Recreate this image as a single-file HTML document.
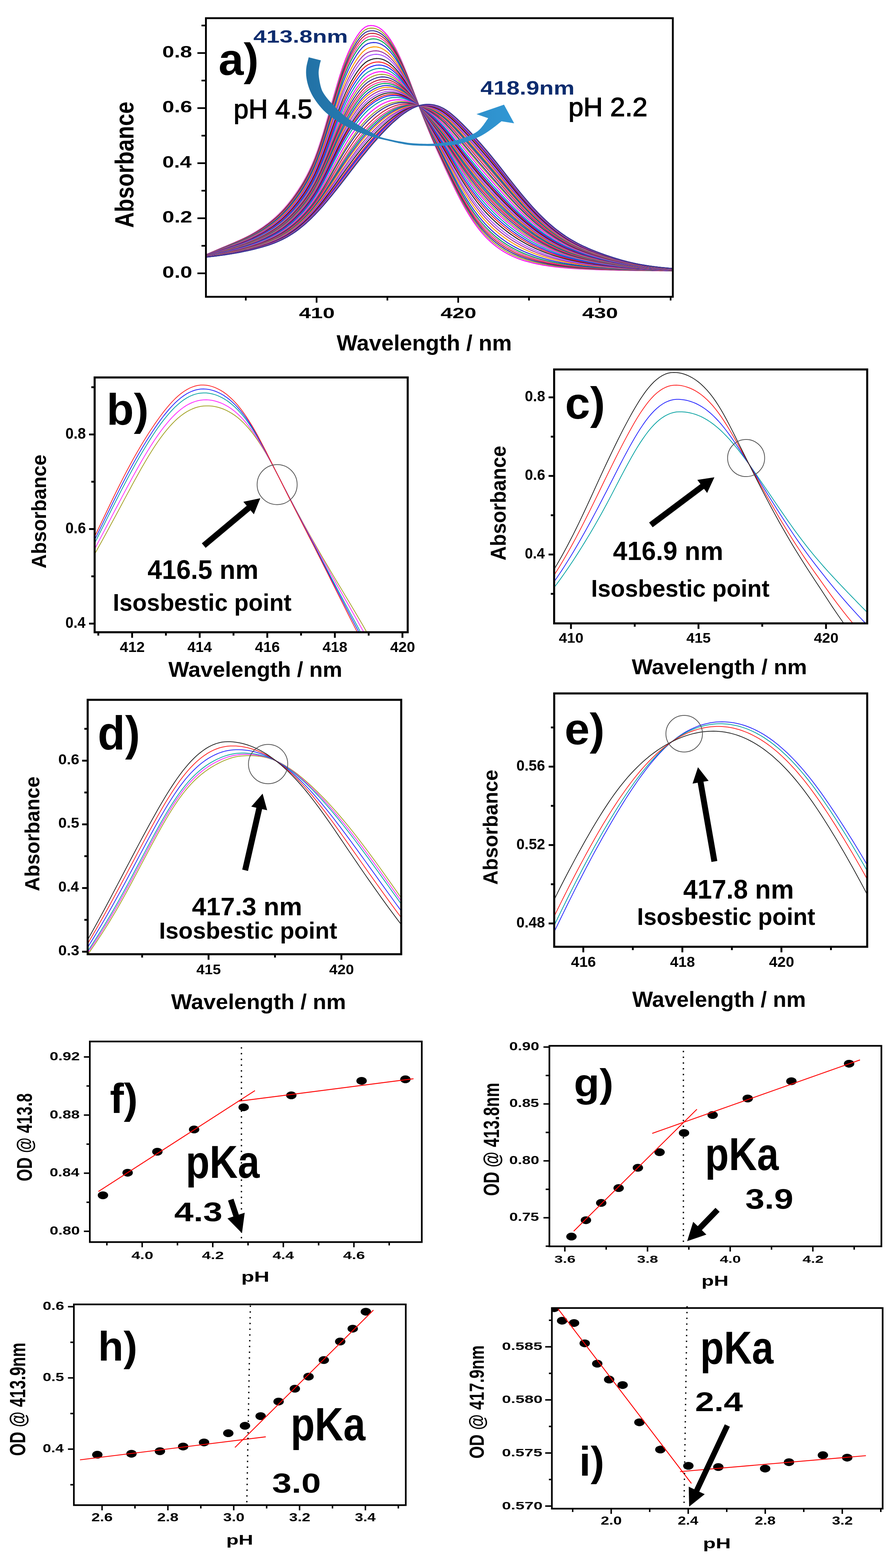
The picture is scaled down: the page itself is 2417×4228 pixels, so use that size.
<!DOCTYPE html><html><head><meta charset="utf-8"><style>html,body{margin:0;padding:0;background:#fff;}svg{display:block;}</style></head><body><svg width="2417" height="4228" viewBox="0 0 2417 4228" font-family="'Liberation Sans', Arial, sans-serif">
<rect width="2417" height="4228" fill="#fff"/>
<clipPath id="ca"><rect x="555.5" y="49.0" width="1259.5" height="751.3"/></clipPath>
<g clip-path="url(#ca)">
<polyline points="548.4,688.5 555.9,686.6 563.5,683.5 571.0,680.3 578.5,677.0 586.0,673.8 593.6,670.5 601.1,667.3 608.6,664.1 616.1,660.9 623.7,657.8 631.2,654.6 638.7,651.3 646.3,648.0 653.8,644.5 661.3,640.9 668.8,637.1 676.4,633.1 683.9,628.8 691.4,624.4 698.9,619.6 706.5,614.7 714.0,609.4 721.5,603.9 729.0,598.0 736.6,591.8 744.1,585.2 751.6,578.1 759.2,570.5 766.7,562.4 774.2,553.7 781.7,544.4 789.3,534.5 796.8,524.1 804.3,513.0 811.8,501.3 819.4,488.7 826.9,475.1 834.4,460.3 842.0,443.9 849.5,425.7 857.0,405.4 864.5,383.0 872.1,358.8 879.6,333.2 887.1,306.8 894.6,280.0 902.2,253.4 909.7,227.4 917.2,202.7 924.7,179.8 932.3,159.3 939.8,141.1 947.3,125.0 954.9,110.8 962.4,98.3 969.9,87.7 977.4,79.2 985.0,73.1 992.5,69.7 1000.0,68.8 1007.5,69.2 1015.1,71.2 1022.6,74.8 1030.1,80.1 1037.7,87.1 1045.2,95.8 1052.7,106.3 1060.2,118.4 1067.8,132.0 1075.3,147.0 1082.8,163.4 1090.3,181.0 1097.9,199.7 1105.4,219.2 1112.9,239.2 1120.5,259.5 1128.0,279.6 1135.5,299.4 1143.0,318.9 1150.6,337.8 1158.1,356.3 1165.6,374.2 1173.1,391.7 1180.7,408.7 1188.2,425.3 1195.7,441.8 1203.2,458.2 1210.8,474.5 1218.3,490.6 1225.8,506.3 1233.4,521.6 1240.9,536.4 1248.4,550.5 1255.9,563.9 1263.5,576.6 1271.0,588.6 1278.5,599.8 1286.0,610.3 1293.6,620.1 1301.1,629.1 1308.6,637.5 1316.2,645.1 1323.7,652.2 1331.2,658.7 1338.7,664.7 1346.3,670.2 1353.8,675.3 1361.3,679.9 1368.8,684.1 1376.4,688.0 1383.9,691.6 1391.4,694.8 1398.9,697.7 1406.5,700.4 1414.0,702.9 1421.5,705.1 1429.1,707.1 1436.6,709.0 1444.1,710.7 1451.6,712.3 1459.2,713.8 1466.7,715.1 1474.2,716.3 1481.7,717.4 1489.3,718.5 1496.8,719.4 1504.3,720.3 1511.9,721.1 1519.4,721.8 1526.9,722.5 1534.4,723.1 1542.0,723.6 1549.5,724.2 1557.0,724.6 1564.5,725.1 1572.1,725.5 1579.6,725.9 1587.1,726.2 1594.7,726.5 1602.2,726.8 1609.7,727.1 1617.2,727.4 1624.8,727.6 1632.3,727.8 1639.8,728.0 1647.3,728.2 1654.9,728.3 1662.4,728.5 1669.9,728.7 1677.4,728.8 1685.0,728.9 1692.5,729.0 1700.0,729.2 1707.6,729.3 1715.1,729.4 1722.6,729.5 1730.1,729.5 1737.7,729.6 1745.2,729.7 1752.7,729.8 1760.2,729.9 1767.8,729.9 1775.3,730.0 1782.8,730.1 1790.4,730.1 1797.9,730.2 1805.4,730.3 1812.9,730.3 1820.5,730.3" fill="none" stroke="#ff00ff" stroke-width="2.6" stroke-linejoin="round"/>
<polyline points="548.4,688.6 555.9,686.8 563.5,683.7 571.0,680.5 578.5,677.3 586.0,674.1 593.6,670.9 601.1,667.7 608.6,664.6 616.1,661.5 623.7,658.3 631.2,655.2 638.7,652.0 646.3,648.7 653.8,645.3 661.3,641.7 668.8,637.9 676.4,634.0 683.9,629.8 691.4,625.4 698.9,620.7 706.5,615.8 714.0,610.6 721.5,605.2 729.0,599.4 736.6,593.2 744.1,586.7 751.6,579.7 759.2,572.2 766.7,564.2 774.2,555.6 781.7,546.4 789.3,536.6 796.8,526.3 804.3,515.4 811.8,503.8 819.4,491.3 826.9,477.8 834.4,463.2 842.0,447.0 849.5,429.1 857.0,409.0 864.5,387.0 872.1,363.1 879.6,337.9 887.1,311.8 894.6,285.4 902.2,259.1 909.7,233.5 917.2,209.1 924.7,186.6 932.3,166.3 939.8,148.3 947.3,132.3 954.9,118.2 962.4,105.8 969.9,95.2 977.4,86.7 985.0,80.5 992.5,77.0 1000.0,75.9 1007.5,76.1 1015.1,77.9 1022.6,81.2 1030.1,86.2 1037.7,92.9 1045.2,101.3 1052.7,111.3 1060.2,123.0 1067.8,136.2 1075.3,150.8 1082.8,166.6 1090.3,183.8 1097.9,201.9 1105.4,220.9 1112.9,240.4 1120.5,260.1 1128.0,279.7 1135.5,299.1 1143.0,318.1 1150.6,336.6 1158.1,354.6 1165.6,372.2 1173.1,389.3 1180.7,406.0 1188.2,422.3 1195.7,438.5 1203.2,454.7 1210.8,470.7 1218.3,486.6 1225.8,502.1 1233.4,517.2 1240.9,531.8 1248.4,545.8 1255.9,559.0 1263.5,571.7 1271.0,583.6 1278.5,594.7 1286.0,605.2 1293.6,614.9 1301.1,624.0 1308.6,632.3 1316.2,640.0 1323.7,647.1 1331.2,653.7 1338.7,659.7 1346.3,665.3 1353.8,670.5 1361.3,675.2 1368.8,679.6 1376.4,683.6 1383.9,687.3 1391.4,690.6 1398.9,693.7 1406.5,696.5 1414.0,699.1 1421.5,701.5 1429.1,703.7 1436.6,705.7 1444.1,707.6 1451.6,709.3 1459.2,710.9 1466.7,712.3 1474.2,713.7 1481.7,714.9 1489.3,716.1 1496.8,717.1 1504.3,718.1 1511.9,719.0 1519.4,719.8 1526.9,720.6 1534.4,721.3 1542.0,722.0 1549.5,722.6 1557.0,723.1 1564.5,723.6 1572.1,724.1 1579.6,724.6 1587.1,725.0 1594.7,725.4 1602.2,725.7 1609.7,726.0 1617.2,726.4 1624.8,726.6 1632.3,726.9 1639.8,727.2 1647.3,727.4 1654.9,727.6 1662.4,727.8 1669.9,728.0 1677.4,728.2 1685.0,728.4 1692.5,728.5 1700.0,728.7 1707.6,728.8 1715.1,729.0 1722.6,729.1 1730.1,729.2 1737.7,729.3 1745.2,729.4 1752.7,729.5 1760.2,729.6 1767.8,729.7 1775.3,729.8 1782.8,729.9 1790.4,730.0 1797.9,730.0 1805.4,730.1 1812.9,730.2 1820.5,730.2" fill="none" stroke="#a0a028" stroke-width="2.6" stroke-linejoin="round"/>
<polyline points="548.4,688.8 555.9,686.9 563.5,683.9 571.0,680.8 578.5,677.6 586.0,674.5 593.6,671.3 601.1,668.2 608.6,665.1 616.1,662.0 623.7,658.9 631.2,655.8 638.7,652.7 646.3,649.4 653.8,646.1 661.3,642.5 668.8,638.8 676.4,634.9 683.9,630.7 691.4,626.4 698.9,621.8 706.5,616.9 714.0,611.8 721.5,606.4 729.0,600.7 736.6,594.6 744.1,588.2 751.6,581.2 759.2,573.9 766.7,565.9 774.2,557.4 781.7,548.4 789.3,538.7 796.8,528.5 804.3,517.7 811.8,506.2 819.4,493.9 826.9,480.6 834.4,466.1 842.0,450.1 849.5,432.4 857.0,412.7 864.5,390.9 872.1,367.4 879.6,342.5 887.1,316.8 894.6,290.8 902.2,264.9 909.7,239.7 917.2,215.6 924.7,193.4 932.3,173.3 939.8,155.5 947.3,139.6 954.9,125.6 962.4,113.3 969.9,102.7 977.4,94.2 985.0,87.9 992.5,84.3 1000.0,83.0 1007.5,83.0 1015.1,84.5 1022.6,87.6 1030.1,92.3 1037.7,98.7 1045.2,106.7 1052.7,116.4 1060.2,127.6 1067.8,140.4 1075.3,154.5 1082.8,169.9 1090.3,186.5 1097.9,204.1 1105.4,222.6 1112.9,241.5 1120.5,260.7 1128.0,279.9 1135.5,298.8 1143.0,317.3 1150.6,335.3 1158.1,353.0 1165.6,370.2 1173.1,387.0 1180.7,403.3 1188.2,419.3 1195.7,435.3 1203.2,451.1 1210.8,467.0 1218.3,482.6 1225.8,497.9 1233.4,512.8 1240.9,527.2 1248.4,541.1 1255.9,554.2 1263.5,566.7 1271.0,578.5 1278.5,589.7 1286.0,600.1 1293.6,609.8 1301.1,618.8 1308.6,627.1 1316.2,634.9 1323.7,642.0 1331.2,648.6 1338.7,654.8 1346.3,660.5 1353.8,665.7 1361.3,670.6 1368.8,675.0 1376.4,679.2 1383.9,683.0 1391.4,686.5 1398.9,689.7 1406.5,692.7 1414.0,695.4 1421.5,697.9 1429.1,700.2 1436.6,702.4 1444.1,704.4 1451.6,706.3 1459.2,708.0 1466.7,709.6 1474.2,711.1 1481.7,712.4 1489.3,713.7 1496.8,714.9 1504.3,715.9 1511.9,717.0 1519.4,717.9 1526.9,718.8 1534.4,719.6 1542.0,720.3 1549.5,721.0 1557.0,721.6 1564.5,722.2 1572.1,722.8 1579.6,723.3 1587.1,723.7 1594.7,724.2 1602.2,724.6 1609.7,725.0 1617.2,725.4 1624.8,725.7 1632.3,726.0 1639.8,726.3 1647.3,726.6 1654.9,726.9 1662.4,727.1 1669.9,727.4 1677.4,727.6 1685.0,727.8 1692.5,728.0 1700.0,728.2 1707.6,728.4 1715.1,728.5 1722.6,728.7 1730.1,728.8 1737.7,729.0 1745.2,729.1 1752.7,729.2 1760.2,729.4 1767.8,729.5 1775.3,729.6 1782.8,729.7 1790.4,729.8 1797.9,729.9 1805.4,730.0 1812.9,730.0 1820.5,730.1" fill="none" stroke="#2a2a98" stroke-width="2.6" stroke-linejoin="round"/>
<polyline points="548.4,688.9 555.9,687.1 563.5,684.1 571.0,681.0 578.5,677.9 586.0,674.8 593.6,671.7 601.1,668.6 608.6,665.6 616.1,662.5 623.7,659.5 631.2,656.5 638.7,653.3 646.3,650.1 653.8,646.8 661.3,643.3 668.8,639.6 676.4,635.8 683.9,631.7 691.4,627.4 698.9,622.9 706.5,618.1 714.0,613.0 721.5,607.7 729.0,602.0 736.6,596.0 744.1,589.7 751.6,582.8 759.2,575.5 766.7,567.7 774.2,559.3 781.7,550.3 789.3,540.8 796.8,530.7 804.3,520.0 811.8,508.7 819.4,496.5 826.9,483.3 834.4,469.0 842.0,453.3 849.5,435.8 857.0,416.3 864.5,394.8 872.1,371.6 879.6,347.1 887.1,321.8 894.6,296.2 902.2,270.7 909.7,245.8 917.2,222.1 924.7,200.1 932.3,180.3 939.8,162.7 947.3,146.9 954.9,133.0 962.4,120.8 969.9,110.2 977.4,101.7 985.0,95.3 992.5,91.6 1000.0,90.1 1007.5,89.9 1015.1,91.2 1022.6,94.0 1030.1,98.5 1037.7,104.5 1045.2,112.1 1052.7,121.4 1060.2,132.3 1067.8,144.5 1075.3,158.2 1082.8,173.1 1090.3,189.2 1097.9,206.3 1105.4,224.3 1112.9,242.7 1120.5,261.4 1128.0,280.0 1135.5,298.4 1143.0,316.5 1150.6,334.1 1158.1,351.4 1165.6,368.2 1173.1,384.6 1180.7,400.6 1188.2,416.4 1195.7,432.0 1203.2,447.6 1210.8,463.2 1218.3,478.6 1225.8,493.7 1233.4,508.5 1240.9,522.7 1248.4,536.4 1255.9,549.4 1263.5,561.8 1271.0,573.5 1278.5,584.6 1286.0,594.9 1293.6,604.6 1301.1,613.6 1308.6,622.0 1316.2,629.7 1323.7,636.9 1331.2,643.6 1338.7,649.8 1346.3,655.6 1353.8,660.9 1361.3,665.9 1368.8,670.5 1376.4,674.7 1383.9,678.7 1391.4,682.3 1398.9,685.7 1406.5,688.8 1414.0,691.7 1421.5,694.3 1429.1,696.8 1436.6,699.1 1444.1,701.3 1451.6,703.2 1459.2,705.1 1466.7,706.8 1474.2,708.4 1481.7,709.9 1489.3,711.3 1496.8,712.6 1504.3,713.8 1511.9,714.9 1519.4,715.9 1526.9,716.9 1534.4,717.8 1542.0,718.6 1549.5,719.4 1557.0,720.1 1564.5,720.8 1572.1,721.4 1579.6,722.0 1587.1,722.5 1594.7,723.0 1602.2,723.5 1609.7,723.9 1617.2,724.4 1624.8,724.8 1632.3,725.1 1639.8,725.5 1647.3,725.8 1654.9,726.1 1662.4,726.4 1669.9,726.7 1677.4,727.0 1685.0,727.3 1692.5,727.5 1700.0,727.7 1707.6,727.9 1715.1,728.1 1722.6,728.3 1730.1,728.5 1737.7,728.7 1745.2,728.8 1752.7,729.0 1760.2,729.1 1767.8,729.2 1775.3,729.4 1782.8,729.5 1790.4,729.6 1797.9,729.7 1805.4,729.8 1812.9,729.9 1820.5,730.0" fill="none" stroke="#c02030" stroke-width="2.6" stroke-linejoin="round"/>
<polyline points="548.4,689.0 555.9,687.2 563.5,684.3 571.0,681.3 578.5,678.3 586.0,675.2 593.6,672.2 601.1,669.1 608.6,666.1 616.1,663.1 623.7,660.1 631.2,657.1 638.7,654.1 646.3,650.9 653.8,647.6 661.3,644.2 668.8,640.6 676.4,636.7 683.9,632.7 691.4,628.5 698.9,624.0 706.5,619.3 714.0,614.3 721.5,609.1 729.0,603.5 736.6,597.6 744.1,591.3 751.6,584.5 759.2,577.3 766.7,569.6 774.2,561.3 781.7,552.5 789.3,543.0 796.8,533.1 804.3,522.5 811.8,511.3 819.4,499.3 826.9,486.3 834.4,472.2 842.0,456.6 849.5,439.4 857.0,420.2 864.5,399.0 872.1,376.2 879.6,352.1 887.1,327.2 894.6,302.0 902.2,276.9 909.7,252.4 917.2,229.0 924.7,207.4 932.3,187.8 939.8,170.4 947.3,154.8 954.9,141.0 962.4,128.8 969.9,118.3 977.4,109.7 985.0,103.3 992.5,99.4 1000.0,97.7 1007.5,97.3 1015.1,98.4 1022.6,100.9 1030.1,105.0 1037.7,110.7 1045.2,118.0 1052.7,126.8 1060.2,137.2 1067.8,149.0 1075.3,162.2 1082.8,176.6 1090.3,192.1 1097.9,208.7 1105.4,226.1 1112.9,243.9 1120.5,262.0 1128.0,280.2 1135.5,298.0 1143.0,315.6 1150.6,332.8 1158.1,349.6 1165.6,366.0 1173.1,382.1 1180.7,397.7 1188.2,413.1 1195.7,428.5 1203.2,443.8 1210.8,459.1 1218.3,474.3 1225.8,489.2 1233.4,503.8 1240.9,517.8 1248.4,531.3 1255.9,544.2 1263.5,556.5 1271.0,568.1 1278.5,579.1 1286.0,589.4 1293.6,599.1 1301.1,608.1 1308.6,616.4 1316.2,624.2 1323.7,631.5 1331.2,638.2 1338.7,644.5 1346.3,650.4 1353.8,655.8 1361.3,660.9 1368.8,665.6 1376.4,670.0 1383.9,674.1 1391.4,677.8 1398.9,681.4 1406.5,684.6 1414.0,687.7 1421.5,690.5 1429.1,693.1 1436.6,695.6 1444.1,697.9 1451.6,700.0 1459.2,702.0 1466.7,703.9 1474.2,705.6 1481.7,707.2 1489.3,708.7 1496.8,710.2 1504.3,711.5 1511.9,712.7 1519.4,713.8 1526.9,714.9 1534.4,715.9 1542.0,716.8 1549.5,717.7 1557.0,718.5 1564.5,719.2 1572.1,719.9 1579.6,720.6 1587.1,721.2 1594.7,721.8 1602.2,722.3 1609.7,722.8 1617.2,723.3 1624.8,723.7 1632.3,724.2 1639.8,724.6 1647.3,725.0 1654.9,725.4 1662.4,725.7 1669.9,726.0 1677.4,726.4 1685.0,726.7 1692.5,726.9 1700.0,727.2 1707.6,727.5 1715.1,727.7 1722.6,727.9 1730.1,728.1 1737.7,728.3 1745.2,728.5 1752.7,728.7 1760.2,728.8 1767.8,729.0 1775.3,729.1 1782.8,729.3 1790.4,729.4 1797.9,729.5 1805.4,729.6 1812.9,729.7 1820.5,729.8" fill="none" stroke="#ff3399" stroke-width="2.6" stroke-linejoin="round"/>
<polyline points="548.4,689.2 555.9,687.4 563.5,684.5 571.0,681.6 578.5,678.6 586.0,675.6 593.6,672.6 601.1,669.6 608.6,666.6 616.1,663.7 623.7,660.8 631.2,657.8 638.7,654.8 646.3,651.7 653.8,648.4 661.3,645.0 668.8,641.5 676.4,637.7 683.9,633.7 691.4,629.6 698.9,625.1 706.5,620.5 714.0,615.6 721.5,610.4 729.0,604.9 736.6,599.1 744.1,592.9 751.6,586.2 759.2,579.1 766.7,571.5 774.2,563.3 781.7,554.6 789.3,545.3 796.8,535.4 804.3,525.0 811.8,513.9 819.4,502.1 826.9,489.2 834.4,475.3 842.0,459.9 849.5,442.9 857.0,424.0 864.5,403.2 872.1,380.8 879.6,357.1 887.1,332.6 894.6,307.8 902.2,283.1 909.7,259.0 917.2,236.0 924.7,214.6 932.3,195.4 939.8,178.1 947.3,162.6 954.9,148.9 962.4,136.8 969.9,126.3 977.4,117.7 985.0,111.2 992.5,107.2 1000.0,105.4 1007.5,104.8 1015.1,105.5 1022.6,107.8 1030.1,111.6 1037.7,116.9 1045.2,123.8 1052.7,132.2 1060.2,142.2 1067.8,153.5 1075.3,166.2 1082.8,180.0 1090.3,195.0 1097.9,211.1 1105.4,227.8 1112.9,245.2 1120.5,262.7 1128.0,280.3 1135.5,297.7 1143.0,314.7 1150.6,331.5 1158.1,347.9 1165.6,363.9 1173.1,379.5 1180.7,394.8 1188.2,409.9 1195.7,425.0 1203.2,440.0 1210.8,455.1 1218.3,470.0 1225.8,484.7 1233.4,499.0 1240.9,512.9 1248.4,526.3 1255.9,539.1 1263.5,551.2 1271.0,562.8 1278.5,573.7 1286.0,583.9 1293.6,593.5 1301.1,602.5 1308.6,610.9 1316.2,618.7 1323.7,626.0 1331.2,632.8 1338.7,639.2 1346.3,645.1 1353.8,650.7 1361.3,655.9 1368.8,660.7 1376.4,665.2 1383.9,669.5 1391.4,673.4 1398.9,677.0 1406.5,680.5 1414.0,683.7 1421.5,686.6 1429.1,689.4 1436.6,692.0 1444.1,694.5 1451.6,696.8 1459.2,698.9 1466.7,700.9 1474.2,702.8 1481.7,704.5 1489.3,706.2 1496.8,707.7 1504.3,709.2 1511.9,710.5 1519.4,711.8 1526.9,712.9 1534.4,714.0 1542.0,715.0 1549.5,716.0 1557.0,716.9 1564.5,717.7 1572.1,718.5 1579.6,719.2 1587.1,719.9 1594.7,720.5 1602.2,721.1 1609.7,721.7 1617.2,722.2 1624.8,722.7 1632.3,723.2 1639.8,723.7 1647.3,724.1 1654.9,724.6 1662.4,725.0 1669.9,725.4 1677.4,725.7 1685.0,726.1 1692.5,726.4 1700.0,726.7 1707.6,727.0 1715.1,727.3 1722.6,727.5 1730.1,727.8 1737.7,728.0 1745.2,728.2 1752.7,728.4 1760.2,728.6 1767.8,728.7 1775.3,728.9 1782.8,729.1 1790.4,729.2 1797.9,729.3 1805.4,729.5 1812.9,729.6 1820.5,729.7" fill="none" stroke="#00a050" stroke-width="2.6" stroke-linejoin="round"/>
<polyline points="548.4,689.4 555.9,687.6 563.5,684.8 571.0,681.9 578.5,679.0 586.0,676.1 593.6,673.2 601.1,670.2 608.6,667.3 616.1,664.5 623.7,661.6 631.2,658.7 638.7,655.7 646.3,652.7 653.8,649.5 661.3,646.2 668.8,642.7 676.4,639.0 683.9,635.1 691.4,631.0 698.9,626.7 706.5,622.1 714.0,617.3 721.5,612.2 729.0,606.8 736.6,601.1 744.1,595.0 751.6,588.5 759.2,581.5 766.7,574.0 774.2,566.0 781.7,557.4 789.3,548.2 796.8,538.6 804.3,528.3 811.8,517.4 819.4,505.7 826.9,493.1 834.4,479.4 842.0,464.4 849.5,447.7 857.0,429.2 864.5,408.8 872.1,386.8 879.6,363.7 887.1,339.7 894.6,315.5 902.2,291.3 909.7,267.7 917.2,245.2 924.7,224.2 932.3,205.3 939.8,188.3 947.3,173.0 954.9,159.5 962.4,147.4 969.9,137.0 977.4,128.3 985.0,121.7 992.5,117.5 1000.0,115.5 1007.5,114.6 1015.1,115.0 1022.6,116.9 1030.1,120.3 1037.7,125.1 1045.2,131.5 1052.7,139.4 1060.2,148.8 1067.8,159.5 1075.3,171.4 1082.8,184.6 1090.3,198.9 1097.9,214.2 1105.4,230.2 1112.9,246.8 1120.5,263.6 1128.0,280.5 1135.5,297.2 1143.0,313.6 1150.6,329.7 1158.1,345.5 1165.6,361.0 1173.1,376.2 1180.7,391.0 1188.2,405.7 1195.7,420.3 1203.2,435.0 1210.8,449.7 1218.3,464.3 1225.8,478.7 1233.4,492.8 1240.9,506.5 1248.4,519.6 1255.9,532.2 1263.5,544.2 1271.0,555.6 1278.5,566.4 1286.0,576.6 1293.6,586.2 1301.1,595.2 1308.6,603.6 1316.2,611.4 1323.7,618.8 1331.2,625.7 1338.7,632.1 1346.3,638.2 1353.8,643.9 1361.3,649.2 1368.8,654.3 1376.4,659.0 1383.9,663.4 1391.4,667.5 1398.9,671.3 1406.5,675.0 1414.0,678.4 1421.5,681.5 1429.1,684.5 1436.6,687.3 1444.1,690.0 1451.6,692.5 1459.2,694.8 1466.7,697.0 1474.2,699.1 1481.7,701.0 1489.3,702.8 1496.8,704.5 1504.3,706.1 1511.9,707.6 1519.4,709.0 1526.9,710.3 1534.4,711.5 1542.0,712.6 1549.5,713.7 1557.0,714.7 1564.5,715.6 1572.1,716.5 1579.6,717.3 1587.1,718.1 1594.7,718.8 1602.2,719.5 1609.7,720.2 1617.2,720.8 1624.8,721.4 1632.3,722.0 1639.8,722.5 1647.3,723.0 1654.9,723.5 1662.4,724.0 1669.9,724.4 1677.4,724.9 1685.0,725.3 1692.5,725.7 1700.0,726.0 1707.6,726.4 1715.1,726.7 1722.6,727.0 1730.1,727.3 1737.7,727.5 1745.2,727.8 1752.7,728.0 1760.2,728.2 1767.8,728.4 1775.3,728.6 1782.8,728.8 1790.4,728.9 1797.9,729.1 1805.4,729.2 1812.9,729.4 1820.5,729.5" fill="none" stroke="#2828e0" stroke-width="2.6" stroke-linejoin="round"/>
<polyline points="548.4,689.6 555.9,687.8 563.5,685.1 571.0,682.4 578.5,679.5 586.0,676.7 593.6,673.9 601.1,671.0 608.6,668.2 616.1,665.4 623.7,662.6 631.2,659.8 638.7,656.9 646.3,653.9 653.8,650.8 661.3,647.5 668.8,644.1 676.4,640.5 683.9,636.7 691.4,632.7 698.9,628.5 706.5,624.0 714.0,619.3 721.5,614.4 729.0,609.1 736.6,603.5 744.1,597.6 751.6,591.2 759.2,584.3 766.7,577.0 774.2,569.2 781.7,560.8 789.3,551.8 796.8,542.3 804.3,532.3 811.8,521.6 819.4,510.2 826.9,497.8 834.4,484.4 842.0,469.7 849.5,453.4 857.0,435.3 864.5,415.5 872.1,394.1 879.6,371.6 887.1,348.3 894.6,324.7 902.2,301.2 909.7,278.2 917.2,256.3 924.7,235.8 932.3,217.3 939.8,200.5 947.3,185.5 954.9,172.1 962.4,160.2 969.9,149.8 977.4,141.1 985.0,134.4 992.5,130.0 1000.0,127.6 1007.5,126.4 1015.1,126.5 1022.6,127.9 1030.1,130.8 1037.7,135.1 1045.2,140.8 1052.7,148.0 1060.2,156.7 1067.8,166.6 1075.3,177.8 1082.8,190.1 1090.3,203.6 1097.9,218.0 1105.4,233.1 1112.9,248.8 1120.5,264.7 1128.0,280.7 1135.5,296.6 1143.0,312.2 1150.6,327.6 1158.1,342.7 1165.6,357.6 1173.1,372.1 1180.7,386.4 1188.2,400.6 1195.7,414.7 1203.2,429.0 1210.8,443.3 1218.3,457.5 1225.8,471.6 1233.4,485.3 1240.9,498.7 1248.4,511.6 1255.9,524.0 1263.5,535.8 1271.0,547.0 1278.5,557.7 1286.0,567.8 1293.6,577.4 1301.1,586.3 1308.6,594.7 1316.2,602.6 1323.7,610.1 1331.2,617.1 1338.7,623.6 1346.3,629.9 1353.8,635.7 1361.3,641.3 1368.8,646.5 1376.4,651.4 1383.9,656.0 1391.4,660.4 1398.9,664.5 1406.5,668.3 1414.0,672.0 1421.5,675.4 1429.1,678.6 1436.6,681.7 1444.1,684.6 1451.6,687.3 1459.2,689.9 1466.7,692.3 1474.2,694.6 1481.7,696.7 1489.3,698.7 1496.8,700.6 1504.3,702.4 1511.9,704.1 1519.4,705.6 1526.9,707.1 1534.4,708.5 1542.0,709.8 1549.5,711.0 1557.0,712.1 1564.5,713.2 1572.1,714.2 1579.6,715.1 1587.1,716.0 1594.7,716.8 1602.2,717.6 1609.7,718.4 1617.2,719.1 1624.8,719.8 1632.3,720.5 1639.8,721.1 1647.3,721.7 1654.9,722.3 1662.4,722.8 1669.9,723.4 1677.4,723.9 1685.0,724.3 1692.5,724.8 1700.0,725.2 1707.6,725.6 1715.1,726.0 1722.6,726.3 1730.1,726.7 1737.7,727.0 1745.2,727.3 1752.7,727.5 1760.2,727.8 1767.8,728.0 1775.3,728.2 1782.8,728.4 1790.4,728.6 1797.9,728.8 1805.4,729.0 1812.9,729.1 1820.5,729.3" fill="none" stroke="#ff9900" stroke-width="2.6" stroke-linejoin="round"/>
<polyline points="548.4,689.8 555.9,688.1 563.5,685.4 571.0,682.7 578.5,680.0 586.0,677.3 593.6,674.5 601.1,671.7 608.6,669.0 616.1,666.3 623.7,663.5 631.2,660.7 638.7,657.9 646.3,655.0 653.8,652.0 661.3,648.8 668.8,645.5 676.4,641.9 683.9,638.2 691.4,634.3 698.9,630.2 706.5,625.8 714.0,621.2 721.5,616.4 729.0,611.2 736.6,605.7 744.1,599.9 751.6,593.7 759.2,587.0 766.7,579.8 774.2,572.1 781.7,563.9 789.3,555.1 796.8,545.8 804.3,535.9 811.8,525.5 819.4,514.2 826.9,502.1 834.4,489.0 842.0,474.6 849.5,458.7 857.0,441.0 864.5,421.7 872.1,400.8 879.6,378.9 887.1,356.2 894.6,333.2 902.2,310.3 909.7,287.9 917.2,266.4 924.7,246.4 932.3,228.2 939.8,211.8 947.3,197.0 954.9,183.7 962.4,171.9 969.9,161.5 977.4,152.8 985.0,146.0 992.5,141.4 1000.0,138.7 1007.5,137.2 1015.1,136.9 1022.6,137.9 1030.1,140.3 1037.7,144.1 1045.2,149.3 1052.7,155.9 1060.2,163.9 1067.8,173.2 1075.3,183.6 1082.8,195.2 1090.3,207.8 1097.9,221.4 1105.4,235.7 1112.9,250.6 1120.5,265.7 1128.0,280.9 1135.5,296.0 1143.0,311.0 1150.6,325.7 1158.1,340.2 1165.6,354.4 1173.1,368.4 1180.7,382.2 1188.2,395.9 1195.7,409.6 1203.2,423.5 1210.8,437.4 1218.3,451.3 1225.8,465.0 1233.4,478.5 1240.9,491.6 1248.4,504.2 1255.9,516.4 1263.5,528.1 1271.0,539.2 1278.5,549.8 1286.0,559.8 1293.6,569.3 1301.1,578.2 1308.6,586.6 1316.2,594.6 1323.7,602.1 1331.2,609.2 1338.7,615.9 1346.3,622.2 1353.8,628.3 1361.3,634.0 1368.8,639.4 1376.4,644.5 1383.9,649.3 1391.4,653.9 1398.9,658.2 1406.5,662.3 1414.0,666.1 1421.5,669.8 1429.1,673.2 1436.6,676.5 1444.1,679.6 1451.6,682.6 1459.2,685.3 1466.7,688.0 1474.2,690.4 1481.7,692.8 1489.3,695.0 1496.8,697.1 1504.3,699.0 1511.9,700.9 1519.4,702.6 1526.9,704.2 1534.4,705.7 1542.0,707.2 1549.5,708.5 1557.0,709.7 1564.5,710.9 1572.1,712.0 1579.6,713.1 1587.1,714.1 1594.7,715.0 1602.2,715.9 1609.7,716.7 1617.2,717.5 1624.8,718.3 1632.3,719.1 1639.8,719.8 1647.3,720.5 1654.9,721.1 1662.4,721.8 1669.9,722.4 1677.4,722.9 1685.0,723.5 1692.5,724.0 1700.0,724.5 1707.6,724.9 1715.1,725.3 1722.6,725.7 1730.1,726.1 1737.7,726.5 1745.2,726.8 1752.7,727.1 1760.2,727.4 1767.8,727.6 1775.3,727.9 1782.8,728.1 1790.4,728.3 1797.9,728.6 1805.4,728.7 1812.9,728.9 1820.5,729.1" fill="none" stroke="#a030a0" stroke-width="2.6" stroke-linejoin="round"/>
<polyline points="548.4,690.0 555.9,688.3 563.5,685.7 571.0,683.1 578.5,680.4 586.0,677.8 593.6,675.1 601.1,672.4 608.6,669.7 616.1,667.0 623.7,664.3 631.2,661.6 638.7,658.9 646.3,656.0 653.8,653.0 661.3,649.9 668.8,646.7 676.4,643.2 683.9,639.6 691.4,635.7 698.9,631.7 706.5,627.4 714.0,622.9 721.5,618.2 729.0,613.1 736.6,607.7 744.1,602.0 751.6,595.9 759.2,589.3 766.7,582.3 774.2,574.8 781.7,566.7 789.3,558.0 796.8,548.9 804.3,539.2 811.8,528.9 819.4,517.9 826.9,506.0 834.4,493.1 842.0,479.0 849.5,463.4 857.0,446.1 864.5,427.2 872.1,406.9 879.6,385.4 887.1,363.3 894.6,340.9 902.2,318.5 909.7,296.6 917.2,275.6 924.7,256.0 932.3,238.2 939.8,222.0 947.3,207.4 954.9,194.3 962.4,182.5 969.9,172.2 977.4,163.4 985.0,156.5 992.5,151.7 1000.0,148.8 1007.5,147.0 1015.1,146.4 1022.6,147.1 1030.1,149.0 1037.7,152.4 1045.2,157.0 1052.7,163.1 1060.2,170.5 1067.8,179.1 1075.3,188.9 1082.8,199.8 1090.3,211.7 1097.9,224.5 1105.4,238.1 1112.9,252.2 1120.5,266.6 1128.0,281.1 1135.5,295.5 1143.0,309.8 1150.6,324.0 1158.1,337.9 1165.6,351.6 1173.1,365.1 1180.7,378.4 1188.2,391.6 1195.7,405.0 1203.2,418.4 1210.8,432.0 1218.3,445.6 1225.8,459.0 1233.4,472.2 1240.9,485.1 1248.4,497.6 1255.9,509.6 1263.5,521.1 1271.0,532.1 1278.5,542.5 1286.0,552.5 1293.6,561.9 1301.1,570.9 1308.6,579.3 1316.2,587.3 1323.7,594.9 1331.2,602.0 1338.7,608.8 1346.3,615.3 1353.8,621.5 1361.3,627.3 1368.8,632.9 1376.4,638.2 1383.9,643.2 1391.4,648.0 1398.9,652.5 1406.5,656.8 1414.0,660.8 1421.5,664.7 1429.1,668.4 1436.6,671.8 1444.1,675.1 1451.6,678.3 1459.2,681.2 1466.7,684.0 1474.2,686.7 1481.7,689.2 1489.3,691.6 1496.8,693.8 1504.3,696.0 1511.9,698.0 1519.4,699.8 1526.9,701.6 1534.4,703.2 1542.0,704.8 1549.5,706.2 1557.0,707.6 1564.5,708.9 1572.1,710.1 1579.6,711.2 1587.1,712.3 1594.7,713.3 1602.2,714.3 1609.7,715.2 1617.2,716.1 1624.8,717.0 1632.3,717.8 1639.8,718.6 1647.3,719.4 1654.9,720.1 1662.4,720.8 1669.9,721.4 1677.4,722.1 1685.0,722.7 1692.5,723.2 1700.0,723.8 1707.6,724.3 1715.1,724.8 1722.6,725.2 1730.1,725.6 1737.7,726.0 1745.2,726.4 1752.7,726.7 1760.2,727.0 1767.8,727.3 1775.3,727.6 1782.8,727.8 1790.4,728.1 1797.9,728.3 1805.4,728.5 1812.9,728.7 1820.5,728.9" fill="none" stroke="#a850ff" stroke-width="2.6" stroke-linejoin="round"/>
<polyline points="548.4,690.2 555.9,688.5 563.5,686.1 571.0,683.5 578.5,681.0 586.0,678.4 593.6,675.7 601.1,673.1 608.6,670.5 616.1,667.9 623.7,665.3 631.2,662.7 638.7,660.0 646.3,657.2 653.8,654.3 661.3,651.3 668.8,648.1 676.4,644.8 683.9,641.2 691.4,637.5 698.9,633.5 706.5,629.4 714.0,625.0 721.5,620.3 729.0,615.4 736.6,610.2 744.1,604.6 751.6,598.6 759.2,592.2 766.7,585.3 774.2,577.9 781.7,570.0 789.3,561.6 796.8,552.7 804.3,543.2 811.8,533.1 819.4,522.4 826.9,510.7 834.4,498.1 842.0,484.3 849.5,469.1 857.0,452.3 864.5,433.9 872.1,414.2 879.6,393.4 887.1,371.9 894.6,350.1 902.2,328.4 909.7,307.1 917.2,286.7 924.7,267.6 932.3,250.1 939.8,234.3 947.3,219.9 954.9,207.0 962.4,195.3 969.9,185.0 977.4,176.2 985.0,169.2 992.5,164.2 1000.0,161.0 1007.5,158.8 1015.1,157.8 1022.6,158.0 1030.1,159.5 1037.7,162.3 1045.2,166.3 1052.7,171.7 1060.2,178.4 1067.8,186.3 1075.3,195.2 1082.8,205.3 1090.3,216.3 1097.9,228.3 1105.4,241.0 1112.9,254.2 1120.5,267.7 1128.0,281.3 1135.5,294.9 1143.0,308.5 1150.6,321.8 1158.1,335.1 1165.6,348.1 1173.1,361.0 1180.7,373.8 1188.2,386.5 1195.7,399.4 1203.2,412.4 1210.8,425.6 1218.3,438.7 1225.8,451.8 1233.4,464.7 1240.9,477.3 1248.4,489.5 1255.9,501.3 1263.5,512.6 1271.0,523.5 1278.5,533.8 1286.0,543.7 1293.6,553.1 1301.1,562.0 1308.6,570.5 1316.2,578.5 1323.7,586.1 1331.2,593.4 1338.7,600.3 1346.3,607.0 1353.8,613.3 1361.3,619.3 1368.8,625.1 1376.4,630.6 1383.9,635.8 1391.4,640.8 1398.9,645.6 1406.5,650.1 1414.0,654.4 1421.5,658.6 1429.1,662.5 1436.6,666.2 1444.1,669.7 1451.6,673.1 1459.2,676.3 1466.7,679.3 1474.2,682.2 1481.7,684.9 1489.3,687.5 1496.8,690.0 1504.3,692.3 1511.9,694.4 1519.4,696.5 1526.9,698.4 1534.4,700.2 1542.0,701.9 1549.5,703.5 1557.0,705.0 1564.5,706.4 1572.1,707.8 1579.6,709.0 1587.1,710.2 1594.7,711.3 1602.2,712.4 1609.7,713.4 1617.2,714.4 1624.8,715.4 1632.3,716.3 1639.8,717.2 1647.3,718.0 1654.9,718.8 1662.4,719.6 1669.9,720.3 1677.4,721.1 1685.0,721.7 1692.5,722.4 1700.0,723.0 1707.6,723.5 1715.1,724.1 1722.6,724.6 1730.1,725.0 1737.7,725.5 1745.2,725.9 1752.7,726.2 1760.2,726.6 1767.8,726.9 1775.3,727.2 1782.8,727.5 1790.4,727.8 1797.9,728.0 1805.4,728.3 1812.9,728.5 1820.5,728.7" fill="none" stroke="#202020" stroke-width="2.6" stroke-linejoin="round"/>
<polyline points="548.4,690.4 555.9,688.7 563.5,686.3 571.0,683.9 578.5,681.4 586.0,678.9 593.6,676.3 601.1,673.8 608.6,671.2 616.1,668.7 623.7,666.2 631.2,663.6 638.7,661.0 646.3,658.2 653.8,655.4 661.3,652.4 668.8,649.3 676.4,646.0 683.9,642.6 691.4,638.9 698.9,635.0 706.5,631.0 714.0,626.7 721.5,622.1 729.0,617.3 736.6,612.2 744.1,606.7 751.6,600.9 759.2,594.6 766.7,587.8 774.2,580.6 781.7,572.8 789.3,564.6 796.8,555.8 804.3,546.5 811.8,536.6 819.4,526.0 826.9,514.6 834.4,502.3 842.0,488.8 849.5,473.9 857.0,457.5 864.5,439.5 872.1,420.2 879.6,400.0 887.1,379.0 894.6,357.8 902.2,336.6 909.7,315.8 917.2,295.9 924.7,277.2 932.3,260.1 939.8,244.5 947.3,230.3 954.9,217.5 962.4,205.9 969.9,195.6 977.4,186.9 985.0,179.7 992.5,174.6 1000.0,171.1 1007.5,168.6 1015.1,167.3 1022.6,167.1 1030.1,168.2 1037.7,170.5 1045.2,174.1 1052.7,178.9 1060.2,185.0 1067.8,192.2 1075.3,200.5 1082.8,209.9 1090.3,220.2 1097.9,231.4 1105.4,243.3 1112.9,255.8 1120.5,268.6 1128.0,281.5 1135.5,294.4 1143.0,307.3 1150.6,320.1 1158.1,332.8 1165.6,345.3 1173.1,357.7 1180.7,370.0 1188.2,382.3 1195.7,394.7 1203.2,407.4 1210.8,420.2 1218.3,433.1 1225.8,445.9 1233.4,458.5 1240.9,470.9 1248.4,482.9 1255.9,494.5 1263.5,505.6 1271.0,516.3 1278.5,526.6 1286.0,536.4 1293.6,545.8 1301.1,554.7 1308.6,563.1 1316.2,571.2 1323.7,578.9 1331.2,586.3 1338.7,593.3 1346.3,600.0 1353.8,606.5 1361.3,612.7 1368.8,618.6 1376.4,624.3 1383.9,629.7 1391.4,634.9 1398.9,639.9 1406.5,644.6 1414.0,649.1 1421.5,653.5 1429.1,657.6 1436.6,661.5 1444.1,665.2 1451.6,668.8 1459.2,672.2 1466.7,675.4 1474.2,678.5 1481.7,681.4 1489.3,684.1 1496.8,686.7 1504.3,689.2 1511.9,691.5 1519.4,693.7 1526.9,695.8 1534.4,697.7 1542.0,699.5 1549.5,701.2 1557.0,702.9 1564.5,704.4 1572.1,705.8 1579.6,707.2 1587.1,708.4 1594.7,709.7 1602.2,710.8 1609.7,711.9 1617.2,713.0 1624.8,714.0 1632.3,715.0 1639.8,716.0 1647.3,716.9 1654.9,717.8 1662.4,718.6 1669.9,719.4 1677.4,720.2 1685.0,720.9 1692.5,721.6 1700.0,722.3 1707.6,722.9 1715.1,723.5 1722.6,724.0 1730.1,724.5 1737.7,725.0 1745.2,725.4 1752.7,725.9 1760.2,726.2 1767.8,726.6 1775.3,726.9 1782.8,727.2 1790.4,727.5 1797.9,727.8 1805.4,728.0 1812.9,728.3 1820.5,728.5" fill="none" stroke="#ff2020" stroke-width="2.6" stroke-linejoin="round"/>
<polyline points="548.4,690.6 555.9,688.9 563.5,686.6 571.0,684.2 578.5,681.8 586.0,679.3 593.6,676.8 601.1,674.4 608.6,671.9 616.1,669.4 623.7,666.9 631.2,664.4 638.7,661.8 646.3,659.2 653.8,656.4 661.3,653.5 668.8,650.4 676.4,647.2 683.9,643.8 691.4,640.2 698.9,636.4 706.5,632.4 714.0,628.2 721.5,623.7 729.0,619.0 736.6,614.0 744.1,608.6 751.6,602.9 759.2,596.7 766.7,590.1 774.2,583.0 781.7,575.4 789.3,567.2 796.8,558.6 804.3,549.5 811.8,539.8 819.4,529.3 826.9,518.1 834.4,506.0 842.0,492.7 849.5,478.1 857.0,462.1 864.5,444.5 872.1,425.7 879.6,405.9 887.1,385.4 894.6,364.7 902.2,344.0 909.7,323.7 917.2,304.1 924.7,285.8 932.3,269.0 939.8,253.6 947.3,239.7 954.9,227.0 962.4,215.5 969.9,205.2 977.4,196.4 985.0,189.2 992.5,183.8 1000.0,180.2 1007.5,177.5 1015.1,175.8 1022.6,175.3 1030.1,176.0 1037.7,177.9 1045.2,181.0 1052.7,185.4 1060.2,190.9 1067.8,197.5 1075.3,205.3 1082.8,214.0 1090.3,223.7 1097.9,234.2 1105.4,245.5 1112.9,257.3 1120.5,269.4 1128.0,281.7 1135.5,294.0 1143.0,306.3 1150.6,318.5 1158.1,330.7 1165.6,342.7 1173.1,354.7 1180.7,366.5 1188.2,378.5 1195.7,390.5 1203.2,402.9 1210.8,415.4 1218.3,428.0 1225.8,440.5 1233.4,452.9 1240.9,465.1 1248.4,476.9 1255.9,488.3 1263.5,499.3 1271.0,509.9 1278.5,520.1 1286.0,529.9 1293.6,539.2 1301.1,548.1 1308.6,556.6 1316.2,564.7 1323.7,572.4 1331.2,579.8 1338.7,587.0 1346.3,593.8 1353.8,600.4 1361.3,606.8 1368.8,612.8 1376.4,618.7 1383.9,624.3 1391.4,629.6 1398.9,634.8 1406.5,639.7 1414.0,644.4 1421.5,648.9 1429.1,653.2 1436.6,657.3 1444.1,661.2 1451.6,664.9 1459.2,668.5 1466.7,671.9 1474.2,675.1 1481.7,678.2 1489.3,681.1 1496.8,683.8 1504.3,686.5 1511.9,688.9 1519.4,691.2 1526.9,693.4 1534.4,695.5 1542.0,697.4 1549.5,699.2 1557.0,700.9 1564.5,702.5 1572.1,704.1 1579.6,705.5 1587.1,706.9 1594.7,708.2 1602.2,709.4 1609.7,710.6 1617.2,711.7 1624.8,712.8 1632.3,713.9 1639.8,714.9 1647.3,715.9 1654.9,716.8 1662.4,717.8 1669.9,718.6 1677.4,719.4 1685.0,720.2 1692.5,721.0 1700.0,721.7 1707.6,722.4 1715.1,723.0 1722.6,723.6 1730.1,724.1 1737.7,724.6 1745.2,725.1 1752.7,725.5 1760.2,725.9 1767.8,726.3 1775.3,726.6 1782.8,727.0 1790.4,727.3 1797.9,727.6 1805.4,727.8 1812.9,728.1 1820.5,728.3" fill="none" stroke="#2020ff" stroke-width="2.6" stroke-linejoin="round"/>
<polyline points="548.4,690.7 555.9,689.1 563.5,686.9 571.0,684.6 578.5,682.2 586.0,679.8 593.6,677.4 601.1,675.0 608.6,672.6 616.1,670.2 623.7,667.8 631.2,665.3 638.7,662.8 646.3,660.2 653.8,657.5 661.3,654.6 668.8,651.6 676.4,648.5 683.9,645.1 691.4,641.6 698.9,637.9 706.5,634.0 714.0,629.9 721.5,625.5 729.0,620.9 736.6,616.0 744.1,610.7 751.6,605.1 759.2,599.1 766.7,592.6 774.2,585.6 781.7,578.2 789.3,570.2 796.8,561.7 804.3,552.8 811.8,543.2 819.4,533.0 826.9,522.0 834.4,510.1 842.0,497.2 849.5,482.9 857.0,467.2 864.5,450.1 872.1,431.8 879.6,412.5 887.1,392.5 894.6,372.4 902.2,352.2 909.7,332.4 917.2,313.3 924.7,295.4 932.3,278.9 939.8,263.8 947.3,250.1 954.9,237.5 962.4,226.1 969.9,215.9 977.4,207.0 985.0,199.7 992.5,194.2 1000.0,190.3 1007.5,187.3 1015.1,185.3 1022.6,184.4 1030.1,184.7 1037.7,186.1 1045.2,188.7 1052.7,192.5 1060.2,197.5 1067.8,203.5 1075.3,210.5 1082.8,218.6 1090.3,227.5 1097.9,237.4 1105.4,247.9 1112.9,258.9 1120.5,270.3 1128.0,281.9 1135.5,293.5 1143.0,305.2 1150.6,316.8 1158.1,328.3 1165.6,339.8 1173.1,351.3 1180.7,362.7 1188.2,374.2 1195.7,385.9 1203.2,397.9 1210.8,410.0 1218.3,422.3 1225.8,434.5 1233.4,446.7 1240.9,458.6 1248.4,470.2 1255.9,481.4 1263.5,492.3 1271.0,502.8 1278.5,512.9 1286.0,522.6 1293.6,531.9 1301.1,540.7 1308.6,549.2 1316.2,557.4 1323.7,565.2 1331.2,572.7 1338.7,579.9 1346.3,586.9 1353.8,593.6 1361.3,600.1 1368.8,606.4 1376.4,612.4 1383.9,618.2 1391.4,623.7 1398.9,629.1 1406.5,634.2 1414.0,639.1 1421.5,643.8 1429.1,648.3 1436.6,652.6 1444.1,656.7 1451.6,660.7 1459.2,664.4 1466.7,668.0 1474.2,671.4 1481.7,674.6 1489.3,677.7 1496.8,680.6 1504.3,683.4 1511.9,686.0 1519.4,688.5 1526.9,690.8 1534.4,693.0 1542.0,695.0 1549.5,697.0 1557.0,698.8 1564.5,700.5 1572.1,702.1 1579.6,703.7 1587.1,705.1 1594.7,706.5 1602.2,707.8 1609.7,709.1 1617.2,710.3 1624.8,711.5 1632.3,712.6 1639.8,713.7 1647.3,714.8 1654.9,715.8 1662.4,716.8 1669.9,717.7 1677.4,718.6 1685.0,719.4 1692.5,720.3 1700.0,721.0 1707.6,721.7 1715.1,722.4 1722.6,723.0 1730.1,723.6 1737.7,724.1 1745.2,724.6 1752.7,725.1 1760.2,725.6 1767.8,726.0 1775.3,726.3 1782.8,726.7 1790.4,727.0 1797.9,727.3 1805.4,727.6 1812.9,727.9 1820.5,728.2" fill="none" stroke="#00a0a0" stroke-width="2.6" stroke-linejoin="round"/>
<polyline points="548.4,690.9 555.9,689.3 563.5,687.1 571.0,684.9 578.5,682.6 586.0,680.3 593.6,678.0 601.1,675.6 608.6,673.3 616.1,670.9 623.7,668.6 631.2,666.2 638.7,663.7 646.3,661.2 653.8,658.5 661.3,655.7 668.8,652.8 676.4,649.7 683.9,646.5 691.4,643.1 698.9,639.4 706.5,635.6 714.0,631.6 721.5,627.3 729.0,622.8 736.6,618.0 744.1,612.9 751.6,607.4 759.2,601.5 766.7,595.1 774.2,588.3 781.7,581.0 789.3,573.2 796.8,564.9 804.3,556.1 811.8,546.7 819.4,536.7 826.9,525.9 834.4,514.3 842.0,501.6 849.5,487.7 857.0,472.3 864.5,455.7 872.1,437.8 879.6,419.0 887.1,399.7 894.6,380.0 902.2,360.4 909.7,341.1 917.2,322.5 924.7,305.0 932.3,288.9 939.8,274.0 947.3,260.4 954.9,248.0 962.4,236.7 969.9,226.5 977.4,217.6 985.0,210.2 992.5,204.5 1000.0,200.4 1007.5,197.1 1015.1,194.8 1022.6,193.5 1030.1,193.4 1037.7,194.4 1045.2,196.4 1052.7,199.7 1060.2,204.0 1067.8,209.4 1075.3,215.8 1082.8,223.2 1090.3,231.4 1097.9,240.5 1105.4,250.2 1112.9,260.5 1120.5,271.2 1128.0,282.1 1135.5,293.0 1143.0,304.0 1150.6,315.0 1158.1,326.0 1165.6,337.0 1173.1,347.9 1180.7,358.9 1188.2,370.0 1195.7,381.3 1203.2,392.8 1210.8,404.7 1218.3,416.6 1225.8,428.6 1233.4,440.4 1240.9,452.1 1248.4,463.5 1255.9,474.6 1263.5,485.3 1271.0,495.7 1278.5,505.7 1286.0,515.3 1293.6,524.5 1301.1,533.4 1308.6,541.9 1316.2,550.1 1323.7,557.9 1331.2,565.5 1338.7,572.9 1346.3,580.0 1353.8,586.9 1361.3,593.5 1368.8,599.9 1376.4,606.1 1383.9,612.1 1391.4,617.8 1398.9,623.3 1406.5,628.7 1414.0,633.8 1421.5,638.7 1429.1,643.4 1436.6,647.9 1444.1,652.2 1451.6,656.4 1459.2,660.3 1466.7,664.1 1474.2,667.7 1481.7,671.1 1489.3,674.3 1496.8,677.4 1504.3,680.3 1511.9,683.1 1519.4,685.7 1526.9,688.2 1534.4,690.5 1542.0,692.6 1549.5,694.7 1557.0,696.6 1564.5,698.5 1572.1,700.2 1579.6,701.8 1587.1,703.4 1594.7,704.8 1602.2,706.3 1609.7,707.6 1617.2,708.9 1624.8,710.2 1632.3,711.4 1639.8,712.6 1647.3,713.7 1654.9,714.8 1662.4,715.8 1669.9,716.8 1677.4,717.8 1685.0,718.7 1692.5,719.5 1700.0,720.3 1707.6,721.1 1715.1,721.8 1722.6,722.5 1730.1,723.1 1737.7,723.7 1745.2,724.2 1752.7,724.7 1760.2,725.2 1767.8,725.6 1775.3,726.0 1782.8,726.4 1790.4,726.8 1797.9,727.1 1805.4,727.4 1812.9,727.7 1820.5,728.0" fill="none" stroke="#ff00ff" stroke-width="2.6" stroke-linejoin="round"/>
<polyline points="548.4,691.1 555.9,689.5 563.5,687.4 571.0,685.2 578.5,683.0 586.0,680.7 593.6,678.4 601.1,676.2 608.6,673.9 616.1,671.6 623.7,669.3 631.2,666.9 638.7,664.5 646.3,662.0 653.8,659.4 661.3,656.7 668.8,653.8 676.4,650.8 683.9,647.6 691.4,644.2 698.9,640.7 706.5,636.9 714.0,633.0 721.5,628.8 729.0,624.3 736.6,619.6 744.1,614.6 751.6,609.2 759.2,603.4 766.7,597.1 774.2,590.4 781.7,583.2 789.3,575.6 796.8,567.4 804.3,558.8 811.8,549.5 819.4,539.7 826.9,529.1 834.4,517.6 842.0,505.2 849.5,491.5 857.0,476.5 864.5,460.2 872.1,442.7 879.6,424.3 887.1,405.4 894.6,386.2 902.2,367.0 909.7,348.2 917.2,329.9 924.7,312.8 932.3,296.9 939.8,282.3 947.3,268.8 954.9,256.5 962.4,245.3 969.9,235.1 977.4,226.2 985.0,218.7 992.5,212.9 1000.0,208.5 1007.5,205.0 1015.1,202.4 1022.6,200.9 1030.1,200.4 1037.7,201.0 1045.2,202.7 1052.7,205.5 1060.2,209.3 1067.8,214.2 1075.3,220.1 1082.8,226.9 1090.3,234.5 1097.9,243.0 1105.4,252.2 1112.9,261.8 1120.5,271.9 1128.0,282.2 1135.5,292.6 1143.0,303.1 1150.6,313.6 1158.1,324.2 1165.6,334.7 1173.1,345.2 1180.7,355.8 1188.2,366.5 1195.7,377.5 1203.2,388.8 1210.8,400.3 1218.3,412.0 1225.8,423.8 1233.4,435.4 1240.9,446.9 1248.4,458.2 1255.9,469.1 1263.5,479.7 1271.0,489.9 1278.5,499.8 1286.0,509.4 1293.6,518.6 1301.1,527.5 1308.6,536.0 1316.2,544.2 1323.7,552.1 1331.2,559.8 1338.7,567.2 1346.3,574.4 1353.8,581.4 1361.3,588.2 1368.8,594.7 1376.4,601.0 1383.9,607.2 1391.4,613.1 1398.9,618.7 1406.5,624.2 1414.0,629.5 1421.5,634.6 1429.1,639.5 1436.6,644.1 1444.1,648.6 1451.6,652.9 1459.2,657.0 1466.7,660.9 1474.2,664.6 1481.7,668.2 1489.3,671.6 1496.8,674.8 1504.3,677.9 1511.9,680.7 1519.4,683.5 1526.9,686.0 1534.4,688.4 1542.0,690.7 1549.5,692.9 1557.0,694.9 1564.5,696.8 1572.1,698.6 1579.6,700.3 1587.1,702.0 1594.7,703.5 1602.2,705.0 1609.7,706.4 1617.2,707.8 1624.8,709.1 1632.3,710.4 1639.8,711.6 1647.3,712.8 1654.9,713.9 1662.4,715.0 1669.9,716.1 1677.4,717.1 1685.0,718.0 1692.5,718.9 1700.0,719.8 1707.6,720.6 1715.1,721.3 1722.6,722.1 1730.1,722.7 1737.7,723.3 1745.2,723.9 1752.7,724.4 1760.2,724.9 1767.8,725.4 1775.3,725.8 1782.8,726.2 1790.4,726.6 1797.9,726.9 1805.4,727.2 1812.9,727.5 1820.5,727.8" fill="none" stroke="#a0a028" stroke-width="2.6" stroke-linejoin="round"/>
<polyline points="548.4,691.2 555.9,689.7 563.5,687.6 571.0,685.5 578.5,683.3 586.0,681.1 593.6,678.9 601.1,676.7 608.6,674.4 616.1,672.2 623.7,669.9 631.2,667.6 638.7,665.2 646.3,662.8 653.8,660.3 661.3,657.6 668.8,654.8 676.4,651.8 683.9,648.7 691.4,645.4 698.9,641.9 706.5,638.2 714.0,634.3 721.5,630.2 729.0,625.9 736.6,621.2 744.1,616.3 751.6,611.0 759.2,605.3 766.7,599.2 774.2,592.6 781.7,585.5 789.3,578.0 796.8,569.9 804.3,561.4 811.8,552.4 819.4,542.7 826.9,532.2 834.4,521.0 842.0,508.7 849.5,495.3 857.0,480.6 864.5,464.7 872.1,447.6 879.6,429.7 887.1,411.2 894.6,392.4 902.2,373.7 909.7,355.2 917.2,337.4 924.7,320.5 932.3,304.9 939.8,290.5 947.3,277.2 954.9,265.0 962.4,253.8 969.9,243.7 977.4,234.8 985.0,227.2 992.5,221.2 1000.0,216.7 1007.5,212.9 1015.1,210.1 1022.6,208.2 1030.1,207.4 1037.7,207.6 1045.2,208.9 1052.7,211.2 1060.2,214.6 1067.8,219.0 1075.3,224.3 1082.8,230.6 1090.3,237.6 1097.9,245.5 1105.4,254.1 1112.9,263.2 1120.5,272.6 1128.0,282.4 1135.5,292.2 1143.0,302.2 1150.6,312.2 1158.1,322.3 1165.6,332.4 1173.1,342.5 1180.7,352.7 1188.2,363.1 1195.7,373.8 1203.2,384.8 1210.8,396.0 1218.3,407.5 1225.8,419.0 1233.4,430.4 1240.9,441.7 1248.4,452.8 1255.9,463.6 1263.5,474.0 1271.0,484.2 1278.5,494.0 1286.0,503.5 1293.6,512.7 1301.1,521.5 1308.6,530.1 1316.2,538.3 1323.7,546.3 1331.2,554.0 1338.7,561.5 1346.3,568.8 1353.8,575.9 1361.3,582.8 1368.8,589.5 1376.4,596.0 1383.9,602.2 1391.4,608.3 1398.9,614.1 1406.5,619.8 1414.0,625.2 1421.5,630.5 1429.1,635.5 1436.6,640.3 1444.1,645.0 1451.6,649.4 1459.2,653.7 1466.7,657.8 1474.2,661.6 1481.7,665.3 1489.3,668.9 1496.8,672.2 1504.3,675.4 1511.9,678.4 1519.4,681.2 1526.9,683.9 1534.4,686.4 1542.0,688.8 1549.5,691.0 1557.0,693.2 1564.5,695.2 1572.1,697.1 1579.6,698.8 1587.1,700.5 1594.7,702.2 1602.2,703.7 1609.7,705.2 1617.2,706.6 1624.8,708.0 1632.3,709.4 1639.8,710.6 1647.3,711.9 1654.9,713.1 1662.4,714.2 1669.9,715.3 1677.4,716.4 1685.0,717.4 1692.5,718.3 1700.0,719.2 1707.6,720.1 1715.1,720.9 1722.6,721.6 1730.1,722.3 1737.7,722.9 1745.2,723.5 1752.7,724.1 1760.2,724.6 1767.8,725.1 1775.3,725.5 1782.8,726.0 1790.4,726.4 1797.9,726.7 1805.4,727.1 1812.9,727.4 1820.5,727.7" fill="none" stroke="#2a2a98" stroke-width="2.6" stroke-linejoin="round"/>
<polyline points="548.4,691.4 555.9,689.8 563.5,687.8 571.0,685.8 578.5,683.7 586.0,681.5 593.6,679.4 601.1,677.2 608.6,675.0 616.1,672.8 623.7,670.6 631.2,668.3 638.7,666.0 646.3,663.6 653.8,661.1 661.3,658.5 668.8,655.7 676.4,652.8 683.9,649.8 691.4,646.5 698.9,643.1 706.5,639.5 714.0,635.7 721.5,631.7 729.0,627.4 736.6,622.9 744.1,618.0 751.6,612.8 759.2,607.2 766.7,601.2 774.2,594.7 781.7,587.8 789.3,580.3 796.8,572.4 804.3,564.1 811.8,555.2 819.4,545.6 826.9,535.4 834.4,524.3 842.0,512.3 849.5,499.1 857.0,484.8 864.5,469.2 872.1,452.5 879.6,435.0 887.1,416.9 894.6,398.6 902.2,380.3 909.7,362.2 917.2,344.8 924.7,328.2 932.3,312.9 939.8,298.7 947.3,285.6 954.9,273.5 962.4,262.4 969.9,252.3 977.4,243.3 985.0,235.7 992.5,229.6 1000.0,224.8 1007.5,220.8 1015.1,217.7 1022.6,215.6 1030.1,214.4 1037.7,214.3 1045.2,215.1 1052.7,217.0 1060.2,219.9 1067.8,223.8 1075.3,228.6 1082.8,234.3 1090.3,240.8 1097.9,248.0 1105.4,256.0 1112.9,264.5 1120.5,273.4 1128.0,282.5 1135.5,291.8 1143.0,301.3 1150.6,310.8 1158.1,320.4 1165.6,330.1 1173.1,339.8 1180.7,349.7 1188.2,359.7 1195.7,370.0 1203.2,380.7 1210.8,391.7 1218.3,402.9 1225.8,414.1 1233.4,425.4 1240.9,436.5 1248.4,447.4 1255.9,458.0 1263.5,468.4 1271.0,478.4 1278.5,488.2 1286.0,497.7 1293.6,506.8 1301.1,515.6 1308.6,524.2 1316.2,532.4 1323.7,540.4 1331.2,548.2 1338.7,555.8 1346.3,563.2 1353.8,570.4 1361.3,577.5 1368.8,584.3 1376.4,590.9 1383.9,597.3 1391.4,603.5 1398.9,609.5 1406.5,615.4 1414.0,621.0 1421.5,626.4 1429.1,631.6 1436.6,636.6 1444.1,641.4 1451.6,646.0 1459.2,650.4 1466.7,654.6 1474.2,658.6 1481.7,662.5 1489.3,666.1 1496.8,669.6 1504.3,672.9 1511.9,676.0 1519.4,679.0 1526.9,681.8 1534.4,684.4 1542.0,686.9 1549.5,689.2 1557.0,691.4 1564.5,693.5 1572.1,695.5 1579.6,697.4 1587.1,699.1 1594.7,700.8 1602.2,702.4 1609.7,704.0 1617.2,705.5 1624.8,706.9 1632.3,708.3 1639.8,709.7 1647.3,711.0 1654.9,712.2 1662.4,713.4 1669.9,714.6 1677.4,715.7 1685.0,716.8 1692.5,717.8 1700.0,718.7 1707.6,719.6 1715.1,720.4 1722.6,721.2 1730.1,721.9 1737.7,722.6 1745.2,723.2 1752.7,723.8 1760.2,724.3 1767.8,724.8 1775.3,725.3 1782.8,725.7 1790.4,726.1 1797.9,726.5 1805.4,726.9 1812.9,727.2 1820.5,727.5" fill="none" stroke="#c02030" stroke-width="2.6" stroke-linejoin="round"/>
<polyline points="548.4,691.5 555.9,690.0 563.5,688.0 571.0,686.0 578.5,684.0 586.0,681.9 593.6,679.8 601.1,677.6 608.6,675.5 616.1,673.4 623.7,671.2 631.2,669.0 638.7,666.7 646.3,664.3 653.8,661.9 661.3,659.3 668.8,656.6 676.4,653.7 683.9,650.7 691.4,647.5 698.9,644.2 706.5,640.6 714.0,636.9 721.5,632.9 729.0,628.8 736.6,624.3 744.1,619.5 751.6,614.4 759.2,608.9 766.7,603.0 774.2,596.6 781.7,589.7 789.3,582.4 796.8,574.7 804.3,566.4 811.8,557.6 819.4,548.2 826.9,538.1 834.4,527.2 842.0,515.4 849.5,502.5 857.0,488.4 864.5,473.1 872.1,456.7 879.6,439.6 887.1,421.9 894.6,404.0 902.2,386.1 909.7,368.4 917.2,351.3 924.7,335.0 932.3,319.9 939.8,305.9 947.3,292.9 954.9,280.9 962.4,269.9 969.9,259.8 977.4,250.8 985.0,243.1 992.5,236.9 1000.0,231.9 1007.5,227.7 1015.1,224.4 1022.6,222.0 1030.1,220.5 1037.7,220.1 1045.2,220.6 1052.7,222.1 1060.2,224.6 1067.8,228.0 1075.3,232.3 1082.8,237.5 1090.3,243.5 1097.9,250.2 1105.4,257.7 1112.9,265.6 1120.5,274.0 1128.0,282.6 1135.5,291.5 1143.0,300.5 1150.6,309.6 1158.1,318.8 1165.6,328.1 1173.1,337.4 1180.7,347.0 1188.2,356.7 1195.7,366.8 1203.2,377.2 1210.8,387.9 1218.3,398.9 1225.8,409.9 1233.4,421.0 1240.9,432.0 1248.4,442.7 1255.9,453.2 1263.5,463.4 1271.0,473.4 1278.5,483.1 1286.0,492.5 1293.6,501.6 1301.1,510.4 1308.6,519.0 1316.2,527.3 1323.7,535.4 1331.2,543.2 1338.7,550.9 1346.3,558.4 1353.8,565.7 1361.3,572.8 1368.8,579.7 1376.4,586.5 1383.9,593.0 1391.4,599.4 1398.9,605.5 1406.5,611.5 1414.0,617.2 1421.5,622.8 1429.1,628.1 1436.6,633.3 1444.1,638.2 1451.6,643.0 1459.2,647.5 1466.7,651.8 1474.2,656.0 1481.7,660.0 1489.3,663.7 1496.8,667.3 1504.3,670.7 1511.9,674.0 1519.4,677.0 1526.9,679.9 1534.4,682.6 1542.0,685.2 1549.5,687.6 1557.0,689.9 1564.5,692.1 1572.1,694.1 1579.6,696.1 1587.1,697.9 1594.7,699.7 1602.2,701.3 1609.7,702.9 1617.2,704.5 1624.8,706.0 1632.3,707.4 1639.8,708.9 1647.3,710.2 1654.9,711.5 1662.4,712.8 1669.9,714.0 1677.4,715.1 1685.0,716.2 1692.5,717.2 1700.0,718.2 1707.6,719.1 1715.1,720.0 1722.6,720.8 1730.1,721.6 1737.7,722.3 1745.2,722.9 1752.7,723.5 1760.2,724.1 1767.8,724.6 1775.3,725.1 1782.8,725.5 1790.4,726.0 1797.9,726.4 1805.4,726.7 1812.9,727.1 1820.5,727.4" fill="none" stroke="#ff3399" stroke-width="2.6" stroke-linejoin="round"/>
<polyline points="548.4,691.6 555.9,690.1 563.5,688.2 571.0,686.2 578.5,684.2 586.0,682.2 593.6,680.1 601.1,678.0 608.6,675.9 616.1,673.8 623.7,671.7 631.2,669.5 638.7,667.3 646.3,664.9 653.8,662.5 661.3,660.0 668.8,657.3 676.4,654.5 683.9,651.5 691.4,648.4 698.9,645.1 706.5,641.6 714.0,637.9 721.5,634.0 729.0,629.9 736.6,625.5 744.1,620.8 751.6,615.7 759.2,610.3 766.7,604.5 774.2,598.2 781.7,591.4 789.3,584.2 796.8,576.5 804.3,568.4 811.8,559.7 819.4,550.4 826.9,540.5 834.4,529.7 842.0,518.1 849.5,505.4 857.0,491.5 864.5,476.4 872.1,460.4 879.6,443.6 887.1,426.2 894.6,408.6 902.2,391.0 909.7,373.6 917.2,356.8 924.7,340.8 932.3,325.9 939.8,312.0 947.3,299.2 954.9,287.3 962.4,276.2 969.9,266.2 977.4,257.2 985.0,249.4 992.5,243.1 1000.0,238.0 1007.5,233.6 1015.1,230.1 1022.6,227.5 1030.1,225.8 1037.7,225.0 1045.2,225.2 1052.7,226.4 1060.2,228.5 1067.8,231.6 1075.3,235.5 1082.8,240.2 1090.3,245.8 1097.9,252.1 1105.4,259.1 1112.9,266.6 1120.5,274.5 1128.0,282.8 1135.5,291.2 1143.0,299.8 1150.6,308.5 1158.1,317.4 1165.6,326.3 1173.1,335.4 1180.7,344.7 1188.2,354.1 1195.7,364.0 1203.2,374.2 1210.8,384.7 1218.3,395.5 1225.8,406.3 1233.4,417.2 1240.9,428.1 1248.4,438.7 1255.9,449.1 1263.5,459.2 1271.0,469.1 1278.5,478.8 1286.0,488.1 1293.6,497.2 1301.1,506.0 1308.6,514.6 1316.2,522.9 1323.7,531.0 1331.2,538.9 1338.7,546.6 1346.3,554.2 1353.8,561.6 1361.3,568.8 1368.8,575.8 1376.4,582.7 1383.9,589.3 1391.4,595.8 1398.9,602.1 1406.5,608.2 1414.0,614.0 1421.5,619.7 1429.1,625.2 1436.6,630.4 1444.1,635.5 1451.6,640.4 1459.2,645.0 1466.7,649.5 1474.2,653.8 1481.7,657.8 1489.3,661.7 1496.8,665.4 1504.3,668.9 1511.9,672.2 1519.4,675.4 1526.9,678.3 1534.4,681.1 1542.0,683.8 1549.5,686.3 1557.0,688.6 1564.5,690.8 1572.1,692.9 1579.6,694.9 1587.1,696.8 1594.7,698.6 1602.2,700.4 1609.7,702.0 1617.2,703.6 1624.8,705.2 1632.3,706.7 1639.8,708.1 1647.3,709.5 1654.9,710.9 1662.4,712.2 1669.9,713.4 1677.4,714.6 1685.0,715.7 1692.5,716.8 1700.0,717.8 1707.6,718.8 1715.1,719.7 1722.6,720.5 1730.1,721.3 1737.7,722.0 1745.2,722.7 1752.7,723.3 1760.2,723.9 1767.8,724.4 1775.3,724.9 1782.8,725.4 1790.4,725.8 1797.9,726.2 1805.4,726.6 1812.9,726.9 1820.5,727.3" fill="none" stroke="#00a050" stroke-width="2.6" stroke-linejoin="round"/>
<polyline points="548.4,691.7 555.9,690.2 563.5,688.4 571.0,686.5 578.5,684.5 586.0,682.5 593.6,680.5 601.1,678.5 608.6,676.4 616.1,674.4 623.7,672.3 631.2,670.1 638.7,667.9 646.3,665.6 653.8,663.3 661.3,660.8 668.8,658.2 676.4,655.4 683.9,652.5 691.4,649.4 698.9,646.2 706.5,642.7 714.0,639.1 721.5,635.3 729.0,631.2 736.6,626.9 744.1,622.3 751.6,617.3 759.2,612.0 766.7,606.2 774.2,600.1 781.7,593.4 789.3,586.3 796.8,578.7 804.3,570.7 811.8,562.2 819.4,553.0 826.9,543.2 834.4,532.6 842.0,521.2 849.5,508.7 857.0,495.1 864.5,480.4 872.1,464.7 879.6,448.2 887.1,431.2 894.6,414.0 902.2,396.8 909.7,379.8 917.2,363.3 924.7,347.6 932.3,332.9 939.8,319.2 947.3,306.5 954.9,294.7 962.4,283.7 969.9,273.7 977.4,264.7 985.0,256.9 992.5,250.4 1000.0,245.1 1007.5,240.5 1015.1,236.8 1022.6,233.9 1030.1,231.9 1037.7,230.8 1045.2,230.6 1052.7,231.4 1060.2,233.2 1067.8,235.8 1075.3,239.2 1082.8,243.5 1090.3,248.5 1097.9,254.3 1105.4,260.8 1112.9,267.8 1120.5,275.2 1128.0,282.9 1135.5,290.8 1143.0,299.0 1150.6,307.3 1158.1,315.7 1165.6,324.3 1173.1,333.1 1180.7,342.0 1188.2,351.2 1195.7,360.7 1203.2,370.6 1210.8,380.9 1218.3,391.5 1225.8,402.1 1233.4,412.9 1240.9,423.5 1248.4,434.0 1255.9,444.3 1263.5,454.3 1271.0,464.1 1278.5,473.7 1286.0,483.0 1293.6,492.0 1301.1,500.8 1308.6,509.4 1316.2,517.8 1323.7,525.9 1331.2,533.9 1338.7,541.7 1346.3,549.3 1353.8,556.8 1361.3,564.1 1368.8,571.3 1376.4,578.3 1383.9,585.1 1391.4,591.7 1398.9,598.1 1406.5,604.3 1414.0,610.3 1421.5,616.1 1429.1,621.7 1436.6,627.1 1444.1,632.3 1451.6,637.3 1459.2,642.1 1466.7,646.7 1474.2,651.1 1481.7,655.3 1489.3,659.3 1496.8,663.1 1504.3,666.7 1511.9,670.2 1519.4,673.4 1526.9,676.5 1534.4,679.4 1542.0,682.1 1549.5,684.7 1557.0,687.1 1564.5,689.4 1572.1,691.6 1579.6,693.6 1587.1,695.6 1594.7,697.5 1602.2,699.3 1609.7,701.0 1617.2,702.6 1624.8,704.3 1632.3,705.8 1639.8,707.3 1647.3,708.8 1654.9,710.2 1662.4,711.5 1669.9,712.8 1677.4,714.0 1685.0,715.2 1692.5,716.3 1700.0,717.3 1707.6,718.3 1715.1,719.3 1722.6,720.1 1730.1,720.9 1737.7,721.7 1745.2,722.4 1752.7,723.0 1760.2,723.6 1767.8,724.2 1775.3,724.7 1782.8,725.2 1790.4,725.6 1797.9,726.0 1805.4,726.4 1812.9,726.8 1820.5,727.2" fill="none" stroke="#2828e0" stroke-width="2.6" stroke-linejoin="round"/>
<polyline points="548.4,691.9 555.9,690.4 563.5,688.6 571.0,686.7 578.5,684.8 586.0,682.8 593.6,680.9 601.1,678.9 608.6,676.8 616.1,674.8 623.7,672.8 631.2,670.7 638.7,668.5 646.3,666.3 653.8,663.9 661.3,661.5 668.8,658.9 676.4,656.2 683.9,653.3 691.4,650.3 698.9,647.1 706.5,643.7 714.0,640.1 721.5,636.4 729.0,632.4 736.6,628.1 744.1,623.6 751.6,618.7 759.2,613.4 766.7,607.8 774.2,601.7 781.7,595.1 789.3,588.1 796.8,580.6 804.3,572.7 811.8,564.3 819.4,555.2 826.9,545.6 834.4,535.1 842.0,523.8 849.5,511.6 857.0,498.2 864.5,483.7 872.1,468.3 879.6,452.2 887.1,435.5 894.6,418.7 902.2,401.7 909.7,385.0 917.2,368.8 924.7,353.3 932.3,338.9 939.8,325.4 947.3,312.8 954.9,301.0 962.4,290.1 969.9,280.1 977.4,271.1 985.0,263.2 992.5,256.6 1000.0,251.2 1007.5,246.4 1015.1,242.5 1022.6,239.4 1030.1,237.1 1037.7,235.8 1045.2,235.3 1052.7,235.8 1060.2,237.1 1067.8,239.3 1075.3,242.4 1082.8,246.2 1090.3,250.9 1097.9,256.2 1105.4,262.2 1112.9,268.7 1120.5,275.7 1128.0,283.0 1135.5,290.5 1143.0,298.3 1150.6,306.2 1158.1,314.3 1165.6,322.6 1173.1,331.0 1180.7,339.7 1188.2,348.6 1195.7,357.9 1203.2,367.6 1210.8,377.7 1218.3,388.0 1225.8,398.6 1233.4,409.1 1240.9,419.6 1248.4,430.0 1255.9,440.1 1263.5,450.1 1271.0,459.8 1278.5,469.3 1286.0,478.6 1293.6,487.6 1301.1,496.4 1308.6,505.0 1316.2,513.4 1323.7,521.6 1331.2,529.6 1338.7,537.4 1346.3,545.2 1353.8,552.7 1361.3,560.1 1368.8,567.4 1376.4,574.5 1383.9,581.4 1391.4,588.1 1398.9,594.6 1406.5,601.0 1414.0,607.1 1421.5,613.1 1429.1,618.8 1436.6,624.3 1444.1,629.6 1451.6,634.8 1459.2,639.7 1466.7,644.4 1474.2,648.9 1481.7,653.2 1489.3,657.3 1496.8,661.2 1504.3,664.9 1511.9,668.4 1519.4,671.8 1526.9,674.9 1534.4,677.9 1542.0,680.7 1549.5,683.3 1557.0,685.8 1564.5,688.2 1572.1,690.4 1579.6,692.5 1587.1,694.6 1594.7,696.5 1602.2,698.3 1609.7,700.1 1617.2,701.8 1624.8,703.4 1632.3,705.0 1639.8,706.6 1647.3,708.1 1654.9,709.5 1662.4,710.9 1669.9,712.2 1677.4,713.5 1685.0,714.7 1692.5,715.8 1700.0,716.9 1707.6,717.9 1715.1,718.9 1722.6,719.8 1730.1,720.6 1737.7,721.4 1745.2,722.1 1752.7,722.8 1760.2,723.4 1767.8,724.0 1775.3,724.5 1782.8,725.0 1790.4,725.5 1797.9,725.9 1805.4,726.3 1812.9,726.7 1820.5,727.1" fill="none" stroke="#ff9900" stroke-width="2.6" stroke-linejoin="round"/>
<polyline points="548.4,692.0 555.9,690.5 563.5,688.8 571.0,687.0 578.5,685.1 586.0,683.2 593.6,681.3 601.1,679.3 608.6,677.3 616.1,675.4 623.7,673.3 631.2,671.3 638.7,669.2 646.3,667.0 653.8,664.7 661.3,662.3 668.8,659.7 676.4,657.1 683.9,654.3 691.4,651.3 698.9,648.1 706.5,644.8 714.0,641.3 721.5,637.6 729.0,633.7 736.6,629.5 744.1,625.1 751.6,620.3 759.2,615.1 766.7,609.5 774.2,603.5 781.7,597.1 789.3,590.2 796.8,582.8 804.3,575.0 811.8,566.7 819.4,557.8 826.9,548.3 834.4,538.1 842.0,527.0 849.5,514.9 857.0,501.8 864.5,487.6 872.1,472.6 879.6,456.8 887.1,440.6 894.6,424.1 902.2,407.5 909.7,391.2 917.2,375.3 924.7,360.1 932.3,345.9 939.8,332.5 947.3,320.1 954.9,308.4 962.4,297.6 969.9,287.6 977.4,278.6 985.0,270.6 992.5,263.9 1000.0,258.3 1007.5,253.4 1015.1,249.2 1022.6,245.8 1030.1,243.3 1037.7,241.6 1045.2,240.7 1052.7,240.8 1060.2,241.7 1067.8,243.5 1075.3,246.1 1082.8,249.5 1090.3,253.6 1097.9,258.4 1105.4,263.9 1112.9,269.9 1120.5,276.3 1128.0,283.1 1135.5,290.2 1143.0,297.5 1150.6,305.0 1158.1,312.7 1165.6,320.6 1173.1,328.7 1180.7,337.0 1188.2,345.6 1195.7,354.6 1203.2,364.1 1210.8,373.9 1218.3,384.0 1225.8,394.4 1233.4,404.7 1240.9,415.1 1248.4,425.3 1255.9,435.3 1263.5,445.2 1271.0,454.8 1278.5,464.2 1286.0,473.5 1293.6,482.5 1301.1,491.2 1308.6,499.8 1316.2,508.2 1323.7,516.5 1331.2,524.5 1338.7,532.5 1346.3,540.3 1353.8,547.9 1361.3,555.5 1368.8,562.8 1376.4,570.1 1383.9,577.1 1391.4,583.9 1398.9,590.6 1406.5,597.1 1414.0,603.4 1421.5,609.5 1429.1,615.3 1436.6,621.0 1444.1,626.5 1451.6,631.7 1459.2,636.8 1466.7,641.6 1474.2,646.2 1481.7,650.7 1489.3,654.9 1496.8,658.9 1504.3,662.7 1511.9,666.4 1519.4,669.8 1526.9,673.1 1534.4,676.1 1542.0,679.0 1549.5,681.7 1557.0,684.3 1564.5,686.7 1572.1,689.0 1579.6,691.2 1587.1,693.3 1594.7,695.3 1602.2,697.2 1609.7,699.0 1617.2,700.8 1624.8,702.5 1632.3,704.2 1639.8,705.8 1647.3,707.3 1654.9,708.8 1662.4,710.2 1669.9,711.6 1677.4,712.9 1685.0,714.1 1692.5,715.3 1700.0,716.5 1707.6,717.5 1715.1,718.5 1722.6,719.4 1730.1,720.3 1737.7,721.1 1745.2,721.8 1752.7,722.5 1760.2,723.1 1767.8,723.7 1775.3,724.3 1782.8,724.8 1790.4,725.3 1797.9,725.7 1805.4,726.1 1812.9,726.5 1820.5,726.9" fill="none" stroke="#a030a0" stroke-width="2.6" stroke-linejoin="round"/>
<polyline points="548.4,692.1 555.9,690.7 563.5,689.0 571.0,687.2 578.5,685.4 586.0,683.5 593.6,681.7 601.1,679.8 608.6,677.8 616.1,675.9 623.7,673.9 631.2,671.9 638.7,669.8 646.3,667.7 653.8,665.4 661.3,663.1 668.8,660.6 676.4,658.0 683.9,655.2 691.4,652.3 698.9,649.2 706.5,646.0 714.0,642.5 721.5,638.9 729.0,635.1 736.6,631.0 744.1,626.6 751.6,621.8 759.2,616.8 766.7,611.3 774.2,605.4 781.7,599.0 789.3,592.3 796.8,585.0 804.3,577.4 811.8,569.2 819.4,560.4 826.9,551.1 834.4,541.0 842.0,530.1 849.5,518.3 857.0,505.4 864.5,491.6 872.1,476.8 879.6,461.4 887.1,445.6 894.6,429.5 902.2,413.3 909.7,397.3 917.2,381.8 924.7,366.9 932.3,352.9 939.8,339.7 947.3,327.4 954.9,315.9 962.4,305.1 969.9,295.1 977.4,286.0 985.0,278.0 992.5,271.2 1000.0,265.4 1007.5,260.3 1015.1,255.9 1022.6,252.2 1030.1,249.4 1037.7,247.4 1045.2,246.2 1052.7,245.9 1060.2,246.4 1067.8,247.7 1075.3,249.8 1082.8,252.7 1090.3,256.3 1097.9,260.6 1105.4,265.6 1112.9,271.0 1120.5,277.0 1128.0,283.3 1135.5,289.8 1143.0,296.7 1150.6,303.8 1158.1,311.1 1165.6,318.6 1173.1,326.3 1180.7,334.3 1188.2,342.6 1195.7,351.3 1203.2,360.5 1210.8,370.1 1218.3,380.1 1225.8,390.2 1233.4,400.3 1240.9,410.5 1248.4,420.6 1255.9,430.5 1263.5,440.2 1271.0,449.8 1278.5,459.1 1286.0,468.3 1293.6,477.3 1301.1,486.1 1308.6,494.7 1316.2,503.1 1323.7,511.4 1331.2,519.5 1338.7,527.5 1346.3,535.4 1353.8,543.2 1361.3,550.8 1368.8,558.3 1376.4,565.6 1383.9,572.8 1391.4,579.8 1398.9,586.6 1406.5,593.2 1414.0,599.7 1421.5,605.9 1429.1,611.9 1436.6,617.7 1444.1,623.3 1451.6,628.7 1459.2,633.9 1466.7,638.9 1474.2,643.6 1481.7,648.2 1489.3,652.5 1496.8,656.6 1504.3,660.6 1511.9,664.3 1519.4,667.9 1526.9,671.2 1534.4,674.3 1542.0,677.3 1549.5,680.1 1557.0,682.8 1564.5,685.3 1572.1,687.7 1579.6,689.9 1587.1,692.1 1594.7,694.1 1602.2,696.1 1609.7,698.0 1617.2,699.8 1624.8,701.6 1632.3,703.3 1639.8,704.9 1647.3,706.5 1654.9,708.1 1662.4,709.5 1669.9,710.9 1677.4,712.3 1685.0,713.6 1692.5,714.8 1700.0,716.0 1707.6,717.1 1715.1,718.1 1722.6,719.0 1730.1,719.9 1737.7,720.7 1745.2,721.5 1752.7,722.2 1760.2,722.9 1767.8,723.5 1775.3,724.1 1782.8,724.6 1790.4,725.1 1797.9,725.6 1805.4,726.0 1812.9,726.4 1820.5,726.8" fill="none" stroke="#a850ff" stroke-width="2.6" stroke-linejoin="round"/>
<polyline points="548.4,692.2 555.9,690.8 563.5,689.1 571.0,687.4 578.5,685.7 586.0,683.9 593.6,682.0 601.1,680.2 608.6,678.3 616.1,676.4 623.7,674.4 631.2,672.4 638.7,670.4 646.3,668.3 653.8,666.1 661.3,663.8 668.8,661.3 676.4,658.7 683.9,656.0 691.4,653.2 698.9,650.1 706.5,646.9 714.0,643.6 721.5,640.0 729.0,636.2 736.6,632.2 744.1,627.8 751.6,623.2 759.2,618.2 766.7,612.8 774.2,607.0 781.7,600.7 789.3,594.0 796.8,586.9 804.3,579.3 811.8,571.3 819.4,562.7 826.9,553.4 834.4,543.5 842.0,532.7 849.5,521.1 857.0,508.5 864.5,494.9 872.1,480.5 879.6,465.4 887.1,449.9 894.6,434.1 902.2,418.3 909.7,402.6 917.2,387.3 924.7,372.7 932.3,358.9 939.8,345.9 947.3,333.7 954.9,322.2 962.4,311.5 969.9,301.5 977.4,292.4 985.0,284.3 992.5,277.4 1000.0,271.5 1007.5,266.2 1015.1,261.6 1022.6,257.7 1030.1,254.6 1037.7,252.3 1045.2,250.8 1052.7,250.2 1060.2,250.3 1067.8,251.3 1075.3,253.0 1082.8,255.4 1090.3,258.6 1097.9,262.5 1105.4,267.0 1112.9,272.0 1120.5,277.5 1128.0,283.4 1135.5,289.5 1143.0,296.0 1150.6,302.7 1158.1,309.7 1165.6,316.9 1173.1,324.3 1180.7,332.0 1188.2,340.1 1195.7,348.5 1203.2,357.5 1210.8,366.9 1218.3,376.6 1225.8,386.6 1233.4,396.6 1240.9,406.6 1248.4,416.6 1255.9,426.4 1263.5,436.0 1271.0,445.5 1278.5,454.8 1286.0,463.9 1293.6,472.9 1301.1,481.7 1308.6,490.3 1316.2,498.7 1323.7,507.0 1331.2,515.2 1338.7,523.3 1346.3,531.2 1353.8,539.1 1361.3,546.8 1368.8,554.4 1376.4,561.8 1383.9,569.1 1391.4,576.2 1398.9,583.2 1406.5,589.9 1414.0,596.5 1421.5,602.8 1429.1,609.0 1436.6,614.9 1444.1,620.6 1451.6,626.1 1459.2,631.4 1466.7,636.5 1474.2,641.4 1481.7,646.0 1489.3,650.5 1496.8,654.7 1504.3,658.7 1511.9,662.6 1519.4,666.2 1526.9,669.6 1534.4,672.8 1542.0,675.9 1549.5,678.8 1557.0,681.5 1564.5,684.1 1572.1,686.5 1579.6,688.8 1587.1,691.0 1594.7,693.1 1602.2,695.1 1609.7,697.1 1617.2,698.9 1624.8,700.8 1632.3,702.5 1639.8,704.2 1647.3,705.8 1654.9,707.4 1662.4,708.9 1669.9,710.4 1677.4,711.8 1685.0,713.1 1692.5,714.4 1700.0,715.6 1707.6,716.7 1715.1,717.7 1722.6,718.7 1730.1,719.6 1737.7,720.5 1745.2,721.3 1752.7,722.0 1760.2,722.7 1767.8,723.3 1775.3,723.9 1782.8,724.4 1790.4,724.9 1797.9,725.4 1805.4,725.9 1812.9,726.3 1820.5,726.7" fill="none" stroke="#202020" stroke-width="2.6" stroke-linejoin="round"/>
<polyline points="548.4,692.3 555.9,690.9 563.5,689.3 571.0,687.6 578.5,685.9 586.0,684.2 593.6,682.4 601.1,680.5 608.6,678.7 616.1,676.8 623.7,674.9 631.2,673.0 638.7,671.0 646.3,668.9 653.8,666.7 661.3,664.4 668.8,662.0 676.4,659.5 683.9,656.8 691.4,654.0 698.9,651.0 706.5,647.9 714.0,644.6 721.5,641.1 729.0,637.4 736.6,633.4 744.1,629.1 751.6,624.5 759.2,619.6 766.7,614.3 774.2,608.6 781.7,602.4 789.3,595.8 796.8,588.8 804.3,581.3 811.8,573.4 819.4,564.9 826.9,555.8 834.4,546.0 842.0,535.4 849.5,524.0 857.0,511.6 864.5,498.3 872.1,484.1 879.6,469.4 887.1,454.2 894.6,438.7 902.2,423.2 909.7,407.8 917.2,392.8 924.7,378.4 932.3,364.8 939.8,352.0 947.3,339.9 954.9,328.5 962.4,317.9 969.9,307.9 977.4,298.8 985.0,290.7 992.5,283.6 1000.0,277.6 1007.5,272.1 1015.1,267.3 1022.6,263.2 1030.1,259.8 1037.7,257.3 1045.2,255.5 1052.7,254.5 1060.2,254.3 1067.8,254.9 1075.3,256.2 1082.8,258.2 1090.3,261.0 1097.9,264.4 1105.4,268.4 1112.9,273.0 1120.5,278.1 1128.0,283.5 1135.5,289.2 1143.0,295.3 1150.6,301.7 1158.1,308.3 1165.6,315.1 1173.1,322.3 1180.7,329.7 1188.2,337.5 1195.7,345.7 1203.2,354.5 1210.8,363.7 1218.3,373.2 1225.8,383.0 1233.4,392.8 1240.9,402.7 1248.4,412.6 1255.9,422.2 1263.5,431.8 1271.0,441.2 1278.5,450.4 1286.0,459.5 1293.6,468.5 1301.1,477.2 1308.6,485.8 1316.2,494.3 1323.7,502.7 1331.2,510.9 1338.7,519.0 1346.3,527.1 1353.8,535.0 1361.3,542.8 1368.8,550.5 1376.4,558.1 1383.9,565.4 1391.4,572.7 1398.9,579.7 1406.5,586.6 1414.0,593.3 1421.5,599.7 1429.1,606.0 1436.6,612.1 1444.1,617.9 1451.6,623.5 1459.2,628.9 1466.7,634.1 1474.2,639.1 1481.7,643.9 1489.3,648.4 1496.8,652.8 1504.3,656.9 1511.9,660.8 1519.4,664.5 1526.9,668.0 1534.4,671.3 1542.0,674.5 1549.5,677.4 1557.0,680.2 1564.5,682.8 1572.1,685.3 1579.6,687.7 1587.1,690.0 1594.7,692.1 1602.2,694.2 1609.7,696.2 1617.2,698.1 1624.8,700.0 1632.3,701.8 1639.8,703.5 1647.3,705.2 1654.9,706.8 1662.4,708.4 1669.9,709.9 1677.4,711.3 1685.0,712.6 1692.5,713.9 1700.0,715.2 1707.6,716.3 1715.1,717.4 1722.6,718.4 1730.1,719.3 1737.7,720.2 1745.2,721.0 1752.7,721.8 1760.2,722.5 1767.8,723.1 1775.3,723.7 1782.8,724.3 1790.4,724.8 1797.9,725.3 1805.4,725.7 1812.9,726.2 1820.5,726.6" fill="none" stroke="#ff2020" stroke-width="2.6" stroke-linejoin="round"/>
<polyline points="548.4,692.4 555.9,691.0 563.5,689.4 571.0,687.8 578.5,686.1 586.0,684.4 593.6,682.6 601.1,680.9 608.6,679.0 616.1,677.2 623.7,675.3 631.2,673.4 638.7,671.5 646.3,669.4 653.8,667.3 661.3,665.0 668.8,662.6 676.4,660.1 683.9,657.5 691.4,654.7 698.9,651.8 706.5,648.7 714.0,645.4 721.5,642.0 729.0,638.3 736.6,634.4 744.1,630.2 751.6,625.7 759.2,620.8 766.7,615.6 774.2,609.9 781.7,603.8 789.3,597.3 796.8,590.4 804.3,583.0 811.8,575.1 819.4,566.7 826.9,557.7 834.4,548.0 842.0,537.6 849.5,526.4 857.0,514.2 864.5,501.1 872.1,487.2 879.6,472.7 887.1,457.7 894.6,442.5 902.2,427.3 909.7,412.2 917.2,397.4 924.7,383.2 932.3,369.8 939.8,357.1 947.3,345.1 954.9,333.8 962.4,323.2 969.9,313.2 977.4,304.1 985.0,295.9 992.5,288.8 1000.0,282.6 1007.5,277.0 1015.1,272.0 1022.6,267.8 1030.1,264.2 1037.7,261.4 1045.2,259.3 1052.7,258.1 1060.2,257.6 1067.8,257.8 1075.3,258.8 1082.8,260.5 1090.3,262.9 1097.9,265.9 1105.4,269.6 1112.9,273.8 1120.5,278.5 1128.0,283.6 1135.5,289.0 1143.0,294.7 1150.6,300.8 1158.1,307.1 1165.6,313.7 1173.1,320.6 1180.7,327.8 1188.2,335.4 1195.7,343.4 1203.2,352.0 1210.8,361.0 1218.3,370.4 1225.8,380.0 1233.4,389.7 1240.9,399.5 1248.4,409.2 1255.9,418.8 1263.5,428.3 1271.0,437.6 1278.5,446.8 1286.0,455.9 1293.6,464.8 1301.1,473.6 1308.6,482.2 1316.2,490.7 1323.7,499.0 1331.2,507.3 1338.7,515.5 1346.3,523.6 1353.8,531.6 1361.3,539.5 1368.8,547.3 1376.4,554.9 1383.9,562.4 1391.4,569.7 1398.9,576.9 1406.5,583.8 1414.0,590.6 1421.5,597.2 1429.1,603.6 1436.6,609.7 1444.1,615.7 1451.6,621.4 1459.2,626.9 1466.7,632.2 1474.2,637.3 1481.7,642.1 1489.3,646.7 1496.8,651.2 1504.3,655.4 1511.9,659.4 1519.4,663.1 1526.9,666.7 1534.4,670.1 1542.0,673.3 1549.5,676.3 1557.0,679.1 1564.5,681.8 1572.1,684.4 1579.6,686.8 1587.1,689.1 1594.7,691.3 1602.2,693.4 1609.7,695.4 1617.2,697.4 1624.8,699.3 1632.3,701.1 1639.8,702.9 1647.3,704.6 1654.9,706.3 1662.4,707.9 1669.9,709.4 1677.4,710.9 1685.0,712.3 1692.5,713.6 1700.0,714.8 1707.6,716.0 1715.1,717.1 1722.6,718.1 1730.1,719.1 1737.7,720.0 1745.2,720.8 1752.7,721.6 1760.2,722.3 1767.8,722.9 1775.3,723.6 1782.8,724.1 1790.4,724.7 1797.9,725.2 1805.4,725.6 1812.9,726.1 1820.5,726.5" fill="none" stroke="#2020ff" stroke-width="2.6" stroke-linejoin="round"/>
<polyline points="548.4,692.6 555.9,691.2 563.5,689.7 571.0,688.1 578.5,686.5 586.0,684.8 593.6,683.1 601.1,681.4 608.6,679.6 616.1,677.8 623.7,676.0 631.2,674.2 638.7,672.2 646.3,670.2 653.8,668.1 661.3,665.9 668.8,663.6 676.4,661.2 683.9,658.6 691.4,655.9 698.9,653.0 706.5,650.0 714.0,646.8 721.5,643.4 729.0,639.9 736.6,636.0 744.1,631.9 751.6,627.5 759.2,622.7 766.7,617.6 774.2,612.1 781.7,606.1 789.3,599.7 796.8,592.9 804.3,585.7 811.8,578.0 819.4,569.7 826.9,560.9 834.4,551.4 842.0,541.2 849.5,530.2 857.0,518.4 864.5,505.6 872.1,492.1 879.6,478.0 887.1,463.5 894.6,448.8 902.2,434.0 909.7,419.3 917.2,404.9 924.7,391.1 932.3,377.9 939.8,365.4 947.3,353.6 954.9,342.4 962.4,331.8 969.9,321.9 977.4,312.8 985.0,304.5 992.5,297.2 1000.0,290.9 1007.5,285.0 1015.1,279.8 1022.6,275.2 1030.1,271.3 1037.7,268.1 1045.2,265.6 1052.7,263.9 1060.2,262.9 1067.8,262.7 1075.3,263.1 1082.8,264.2 1090.3,266.0 1097.9,268.5 1105.4,271.6 1112.9,275.2 1120.5,279.2 1128.0,283.7 1135.5,288.6 1143.0,293.8 1150.6,299.4 1158.1,305.2 1165.6,311.4 1173.1,317.8 1180.7,324.7 1188.2,331.9 1195.7,339.6 1203.2,347.9 1210.8,356.6 1218.3,365.7 1225.8,375.1 1233.4,384.6 1240.9,394.2 1248.4,403.8 1255.9,413.2 1263.5,422.6 1271.0,431.8 1278.5,440.9 1286.0,449.9 1293.6,458.8 1301.1,467.6 1308.6,476.2 1316.2,484.7 1323.7,493.1 1331.2,501.5 1338.7,509.7 1346.3,518.0 1353.8,526.1 1361.3,534.1 1368.8,542.0 1376.4,549.8 1383.9,557.4 1391.4,564.9 1398.9,572.2 1406.5,579.3 1414.0,586.3 1421.5,593.0 1429.1,599.6 1436.6,605.9 1444.1,612.0 1451.6,617.9 1459.2,623.5 1466.7,629.0 1474.2,634.2 1481.7,639.2 1489.3,644.0 1496.8,648.5 1504.3,652.9 1511.9,657.0 1519.4,660.9 1526.9,664.6 1534.4,668.0 1542.0,671.3 1549.5,674.4 1557.0,677.4 1564.5,680.1 1572.1,682.8 1579.6,685.3 1587.1,687.7 1594.7,689.9 1602.2,692.1 1609.7,694.2 1617.2,696.2 1624.8,698.2 1632.3,700.1 1639.8,701.9 1647.3,703.7 1654.9,705.4 1662.4,707.1 1669.9,708.7 1677.4,710.2 1685.0,711.6 1692.5,713.0 1700.0,714.3 1707.6,715.5 1715.1,716.6 1722.6,717.7 1730.1,718.7 1737.7,719.6 1745.2,720.5 1752.7,721.2 1760.2,722.0 1767.8,722.7 1775.3,723.3 1782.8,723.9 1790.4,724.5 1797.9,725.0 1805.4,725.4 1812.9,725.9 1820.5,726.4" fill="none" stroke="#00a0a0" stroke-width="2.6" stroke-linejoin="round"/>
<polyline points="548.4,692.8 555.9,691.4 563.5,690.0 571.0,688.5 578.5,686.9 586.0,685.4 593.6,683.7 601.1,682.1 608.6,680.4 616.1,678.7 623.7,676.9 631.2,675.1 638.7,673.3 646.3,671.3 653.8,669.3 661.3,667.2 668.8,664.9 676.4,662.6 683.9,660.1 691.4,657.5 698.9,654.7 706.5,651.8 714.0,648.7 721.5,645.4 729.0,641.9 736.6,638.2 744.1,634.2 751.6,630.0 759.2,625.3 766.7,620.4 774.2,615.0 781.7,609.2 789.3,603.0 796.8,596.3 804.3,589.3 811.8,581.8 819.4,573.7 826.9,565.2 834.4,556.0 842.0,546.1 849.5,535.4 857.0,524.0 864.5,511.7 872.1,498.7 879.6,485.2 887.1,471.3 894.6,457.2 902.2,443.0 909.7,428.9 917.2,415.0 924.7,401.6 932.3,388.8 939.8,376.6 947.3,365.0 954.9,353.9 962.4,343.4 969.9,333.6 977.4,324.4 985.0,316.0 992.5,308.5 1000.0,301.9 1007.5,295.7 1015.1,290.1 1022.6,285.1 1030.1,280.8 1037.7,277.1 1045.2,274.1 1052.7,271.7 1060.2,270.1 1067.8,269.2 1075.3,268.9 1082.8,269.3 1090.3,270.3 1097.9,271.9 1105.4,274.2 1112.9,276.9 1120.5,280.2 1128.0,283.9 1135.5,288.1 1143.0,292.6 1150.6,297.5 1158.1,302.7 1165.6,308.3 1173.1,314.2 1180.7,320.5 1188.2,327.3 1195.7,334.6 1203.2,342.4 1210.8,350.8 1218.3,359.5 1225.8,368.6 1233.4,377.8 1240.9,387.2 1248.4,396.5 1255.9,405.7 1263.5,414.9 1271.0,424.0 1278.5,433.0 1286.0,442.0 1293.6,450.8 1301.1,459.5 1308.6,468.2 1316.2,476.7 1323.7,485.2 1331.2,493.7 1338.7,502.1 1346.3,510.4 1353.8,518.7 1361.3,526.9 1368.8,534.9 1376.4,542.9 1383.9,550.8 1391.4,558.4 1398.9,566.0 1406.5,573.3 1414.0,580.5 1421.5,587.5 1429.1,594.2 1436.6,600.8 1444.1,607.1 1451.6,613.2 1459.2,619.1 1466.7,624.7 1474.2,630.1 1481.7,635.3 1489.3,640.3 1496.8,645.0 1504.3,649.5 1511.9,653.8 1519.4,657.8 1526.9,661.7 1534.4,665.3 1542.0,668.7 1549.5,672.0 1557.0,675.0 1564.5,677.9 1572.1,680.7 1579.6,683.3 1587.1,685.8 1594.7,688.1 1602.2,690.4 1609.7,692.6 1617.2,694.7 1624.8,696.7 1632.3,698.7 1639.8,700.6 1647.3,702.5 1654.9,704.3 1662.4,706.0 1669.9,707.7 1677.4,709.2 1685.0,710.8 1692.5,712.2 1700.0,713.5 1707.6,714.8 1715.1,716.0 1722.6,717.1 1730.1,718.1 1737.7,719.1 1745.2,720.0 1752.7,720.8 1760.2,721.6 1767.8,722.3 1775.3,723.0 1782.8,723.6 1790.4,724.2 1797.9,724.7 1805.4,725.2 1812.9,725.7 1820.5,726.2" fill="none" stroke="#ff00ff" stroke-width="2.6" stroke-linejoin="round"/>
<polyline points="548.4,693.0 555.9,691.6 563.5,690.3 571.0,688.8 578.5,687.4 586.0,685.9 593.6,684.3 601.1,682.7 608.6,681.1 616.1,679.4 623.7,677.7 631.2,676.0 638.7,674.2 646.3,672.3 653.8,670.4 661.3,668.3 668.8,666.1 676.4,663.8 683.9,661.4 691.4,658.9 698.9,656.2 706.5,653.4 714.0,650.3 721.5,647.2 729.0,643.8 736.6,640.2 744.1,636.3 751.6,632.2 759.2,627.7 766.7,622.8 774.2,617.6 781.7,611.9 789.3,605.9 796.8,599.4 804.3,592.5 811.8,585.2 819.4,577.4 826.9,569.0 834.4,560.0 842.0,550.4 849.5,540.1 857.0,529.0 864.5,517.2 872.1,504.7 879.6,491.7 887.1,478.3 894.6,464.7 902.2,451.0 909.7,437.4 917.2,424.0 924.7,411.0 932.3,398.5 939.8,386.6 947.3,375.1 954.9,364.2 962.4,353.8 969.9,344.0 977.4,334.8 985.0,326.3 992.5,318.7 1000.0,311.8 1007.5,305.3 1015.1,299.4 1022.6,294.1 1030.1,289.3 1037.7,285.1 1045.2,281.6 1052.7,278.8 1060.2,276.6 1067.8,275.0 1075.3,274.1 1082.8,273.7 1090.3,274.1 1097.9,275.0 1105.4,276.5 1112.9,278.5 1120.5,281.1 1128.0,284.1 1135.5,287.6 1143.0,291.4 1150.6,295.8 1158.1,300.4 1165.6,305.5 1173.1,310.9 1180.7,316.8 1188.2,323.1 1195.7,330.0 1203.2,337.5 1210.8,345.5 1218.3,354.0 1225.8,362.8 1233.4,371.7 1240.9,380.8 1248.4,390.0 1255.9,399.0 1263.5,408.1 1271.0,417.0 1278.5,426.0 1286.0,434.8 1293.6,443.6 1301.1,452.3 1308.6,461.0 1316.2,469.6 1323.7,478.1 1331.2,486.7 1338.7,495.2 1346.3,503.6 1353.8,512.0 1361.3,520.4 1368.8,528.6 1376.4,536.8 1383.9,544.8 1391.4,552.7 1398.9,560.4 1406.5,567.9 1414.0,575.3 1421.5,582.5 1429.1,589.4 1436.6,596.2 1444.1,602.7 1451.6,609.0 1459.2,615.1 1466.7,620.9 1474.2,626.5 1481.7,631.8 1489.3,637.0 1496.8,641.8 1504.3,646.5 1511.9,650.9 1519.4,655.1 1526.9,659.1 1534.4,662.9 1542.0,666.4 1549.5,669.8 1557.0,672.9 1564.5,675.9 1572.1,678.8 1579.6,681.5 1587.1,684.0 1594.7,686.5 1602.2,688.8 1609.7,691.1 1617.2,693.3 1624.8,695.4 1632.3,697.5 1639.8,699.5 1647.3,701.4 1654.9,703.3 1662.4,705.1 1669.9,706.8 1677.4,708.4 1685.0,710.0 1692.5,711.5 1700.0,712.9 1707.6,714.2 1715.1,715.4 1722.6,716.6 1730.1,717.7 1737.7,718.6 1745.2,719.6 1752.7,720.4 1760.2,721.2 1767.8,722.0 1775.3,722.7 1782.8,723.3 1790.4,723.9 1797.9,724.5 1805.4,725.0 1812.9,725.5 1820.5,726.0" fill="none" stroke="#a0a028" stroke-width="2.6" stroke-linejoin="round"/>
<polyline points="548.4,693.1 555.9,691.7 563.5,690.4 571.0,689.1 578.5,687.6 586.0,686.2 593.6,684.7 601.1,683.1 608.6,681.5 616.1,679.9 623.7,678.3 631.2,676.6 638.7,674.8 646.3,673.0 653.8,671.0 661.3,669.0 668.8,666.9 676.4,664.7 683.9,662.3 691.4,659.8 698.9,657.2 706.5,654.4 714.0,651.4 721.5,648.3 729.0,645.0 736.6,641.5 744.1,637.7 751.6,633.6 759.2,629.2 766.7,624.4 774.2,619.3 781.7,613.7 789.3,607.8 796.8,601.4 804.3,594.6 811.8,587.4 819.4,579.7 826.9,571.4 834.4,562.6 842.0,553.2 849.5,543.1 857.0,532.2 864.5,520.7 872.1,508.5 879.6,495.8 887.1,482.8 894.6,469.6 902.2,456.2 909.7,442.9 917.2,429.8 924.7,417.1 932.3,404.8 939.8,393.0 947.3,381.7 954.9,370.9 962.4,360.5 969.9,350.7 977.4,341.5 985.0,333.0 992.5,325.2 1000.0,318.2 1007.5,311.5 1015.1,305.4 1022.6,299.8 1030.1,294.8 1037.7,290.4 1045.2,286.5 1052.7,283.3 1060.2,280.7 1067.8,278.8 1075.3,277.4 1082.8,276.6 1090.3,276.5 1097.9,277.0 1105.4,278.0 1112.9,279.6 1120.5,281.7 1128.0,284.2 1135.5,287.3 1143.0,290.7 1150.6,294.6 1158.1,298.9 1165.6,303.6 1173.1,308.8 1180.7,314.3 1188.2,320.4 1195.7,327.1 1203.2,334.3 1210.8,342.1 1218.3,350.4 1225.8,359.0 1233.4,367.8 1240.9,376.8 1248.4,385.7 1255.9,394.7 1263.5,403.6 1271.0,412.5 1278.5,421.4 1286.0,430.2 1293.6,439.0 1301.1,447.7 1308.6,456.4 1316.2,465.0 1323.7,473.6 1331.2,482.1 1338.7,490.7 1346.3,499.2 1353.8,507.7 1361.3,516.2 1368.8,524.5 1376.4,532.8 1383.9,540.9 1391.4,548.9 1398.9,556.8 1406.5,564.5 1414.0,572.0 1421.5,579.3 1429.1,586.3 1436.6,593.2 1444.1,599.9 1451.6,606.3 1459.2,612.5 1466.7,618.4 1474.2,624.1 1481.7,629.6 1489.3,634.8 1496.8,639.8 1504.3,644.6 1511.9,649.1 1519.4,653.4 1526.9,657.4 1534.4,661.3 1542.0,664.9 1549.5,668.3 1557.0,671.6 1564.5,674.6 1572.1,677.5 1579.6,680.3 1587.1,682.9 1594.7,685.4 1602.2,687.8 1609.7,690.2 1617.2,692.4 1624.8,694.6 1632.3,696.7 1639.8,698.7 1647.3,700.7 1654.9,702.6 1662.4,704.4 1669.9,706.2 1677.4,707.9 1685.0,709.5 1692.5,711.0 1700.0,712.4 1707.6,713.8 1715.1,715.1 1722.6,716.2 1730.1,717.3 1737.7,718.4 1745.2,719.3 1752.7,720.2 1760.2,721.0 1767.8,721.8 1775.3,722.5 1782.8,723.1 1790.4,723.8 1797.9,724.3 1805.4,724.8 1812.9,725.3 1820.5,725.9" fill="none" stroke="#2a2a98" stroke-width="2.6" stroke-linejoin="round"/>
<polyline points="548.4,693.3 555.9,691.9 563.5,690.7 571.0,689.4 578.5,688.1 586.0,686.7 593.6,685.2 601.1,683.7 608.6,682.2 616.1,680.7 623.7,679.1 631.2,677.4 638.7,675.7 646.3,673.9 653.8,672.1 661.3,670.1 668.8,668.1 676.4,665.9 683.9,663.6 691.4,661.2 698.9,658.6 706.5,655.9 714.0,653.1 721.5,650.1 729.0,646.8 736.6,643.4 744.1,639.7 751.6,635.8 759.2,631.5 766.7,626.8 774.2,621.8 781.7,616.4 789.3,610.6 796.8,604.4 804.3,597.8 811.8,590.8 819.4,583.3 826.9,575.2 834.4,566.7 842.0,557.5 849.5,547.7 857.0,537.2 864.5,526.1 872.1,514.4 879.6,502.2 887.1,489.7 894.6,477.0 902.2,464.2 909.7,451.4 917.2,438.7 924.7,426.4 932.3,414.4 939.8,402.9 947.3,391.8 954.9,381.1 962.4,370.8 969.9,361.1 977.4,351.8 985.0,343.2 992.5,335.3 1000.0,328.0 1007.5,321.1 1015.1,314.6 1022.6,308.7 1030.1,303.2 1037.7,298.3 1045.2,294.0 1052.7,290.3 1060.2,287.1 1067.8,284.5 1075.3,282.5 1082.8,281.1 1090.3,280.2 1097.9,280.0 1105.4,280.3 1112.9,281.2 1120.5,282.5 1128.0,284.4 1135.5,286.8 1143.0,289.6 1150.6,293.0 1158.1,296.7 1165.6,300.9 1173.1,305.5 1180.7,310.6 1188.2,316.3 1195.7,322.6 1203.2,329.5 1210.8,336.9 1218.3,344.9 1225.8,353.2 1233.4,361.8 1240.9,370.5 1248.4,379.3 1255.9,388.1 1263.5,396.8 1271.0,405.6 1278.5,414.4 1286.0,423.1 1293.6,431.9 1301.1,440.6 1308.6,449.2 1316.2,457.9 1323.7,466.6 1331.2,475.2 1338.7,483.9 1346.3,492.5 1353.8,501.2 1361.3,509.7 1368.8,518.3 1376.4,526.7 1383.9,535.0 1391.4,543.2 1398.9,551.2 1406.5,559.1 1414.0,566.8 1421.5,574.3 1429.1,581.6 1436.6,588.7 1444.1,595.5 1451.6,602.1 1459.2,608.5 1466.7,614.6 1474.2,620.5 1481.7,626.1 1489.3,631.5 1496.8,636.7 1504.3,641.6 1511.9,646.3 1519.4,650.7 1526.9,654.9 1534.4,658.8 1542.0,662.6 1549.5,666.1 1557.0,669.5 1564.5,672.6 1572.1,675.6 1579.6,678.5 1587.1,681.2 1594.7,683.8 1602.2,686.3 1609.7,688.7 1617.2,691.0 1624.8,693.3 1632.3,695.5 1639.8,697.6 1647.3,699.6 1654.9,701.6 1662.4,703.5 1669.9,705.3 1677.4,707.1 1685.0,708.7 1692.5,710.3 1700.0,711.8 1707.6,713.2 1715.1,714.5 1722.6,715.7 1730.1,716.9 1737.7,717.9 1745.2,718.9 1752.7,719.8 1760.2,720.7 1767.8,721.5 1775.3,722.2 1782.8,722.9 1790.4,723.5 1797.9,724.1 1805.4,724.6 1812.9,725.1 1820.5,725.7" fill="none" stroke="#c02030" stroke-width="2.6" stroke-linejoin="round"/>
<polyline points="548.4,693.4 555.9,692.1 563.5,690.9 571.0,689.7 578.5,688.4 586.0,687.1 593.6,685.7 601.1,684.3 608.6,682.8 616.1,681.3 623.7,679.8 631.2,678.2 638.7,676.5 646.3,674.8 653.8,673.0 661.3,671.1 668.8,669.1 676.4,667.0 683.9,664.7 691.4,662.4 698.9,659.9 706.5,657.3 714.0,654.5 721.5,651.6 729.0,648.5 736.6,645.1 744.1,641.5 751.6,637.7 759.2,633.5 766.7,629.0 774.2,624.1 781.7,618.8 789.3,613.1 796.8,607.1 804.3,600.6 811.8,593.7 819.4,586.4 826.9,578.5 834.4,570.2 842.0,561.2 849.5,551.7 857.0,541.6 864.5,530.8 872.1,519.5 879.6,507.8 887.1,495.8 894.6,483.5 902.2,471.1 909.7,458.8 917.2,446.5 924.7,434.5 932.3,422.9 939.8,411.5 947.3,400.6 954.9,390.0 962.4,379.8 969.9,370.1 977.4,360.8 985.0,352.1 992.5,344.0 1000.0,336.5 1007.5,329.4 1015.1,322.6 1022.6,316.4 1030.1,310.6 1037.7,305.3 1045.2,300.5 1052.7,296.3 1060.2,292.7 1067.8,289.5 1075.3,287.0 1082.8,285.0 1090.3,283.5 1097.9,282.6 1105.4,282.3 1112.9,282.5 1120.5,283.3 1128.0,284.6 1135.5,286.4 1143.0,288.7 1150.6,291.5 1158.1,294.7 1165.6,298.5 1173.1,302.7 1180.7,307.4 1188.2,312.7 1195.7,318.6 1203.2,325.2 1210.8,332.4 1218.3,340.1 1225.8,348.1 1233.4,356.5 1240.9,365.0 1248.4,373.6 1255.9,382.3 1263.5,390.9 1271.0,399.6 1278.5,408.3 1286.0,417.0 1293.6,425.7 1301.1,434.3 1308.6,443.0 1316.2,451.7 1323.7,460.4 1331.2,469.2 1338.7,477.9 1346.3,486.7 1353.8,495.4 1361.3,504.1 1368.8,512.8 1376.4,521.4 1383.9,529.8 1391.4,538.2 1398.9,546.4 1406.5,554.5 1414.0,562.3 1421.5,570.0 1429.1,577.5 1436.6,584.7 1444.1,591.7 1451.6,598.5 1459.2,605.0 1466.7,611.3 1474.2,617.3 1481.7,623.1 1489.3,628.7 1496.8,634.0 1504.3,639.0 1511.9,643.8 1519.4,648.4 1526.9,652.7 1534.4,656.7 1542.0,660.6 1549.5,664.2 1557.0,667.7 1564.5,670.9 1572.1,674.0 1579.6,676.9 1587.1,679.7 1594.7,682.4 1602.2,685.0 1609.7,687.4 1617.2,689.8 1624.8,692.2 1632.3,694.4 1639.8,696.6 1647.3,698.7 1654.9,700.7 1662.4,702.7 1669.9,704.5 1677.4,706.3 1685.0,708.1 1692.5,709.7 1700.0,711.2 1707.6,712.7 1715.1,714.0 1722.6,715.3 1730.1,716.4 1737.7,717.5 1745.2,718.5 1752.7,719.5 1760.2,720.4 1767.8,721.2 1775.3,721.9 1782.8,722.6 1790.4,723.3 1797.9,723.9 1805.4,724.5 1812.9,725.0 1820.5,725.5" fill="none" stroke="#ff3399" stroke-width="2.6" stroke-linejoin="round"/>
<polyline points="548.4,693.5 555.9,692.2 563.5,691.1 571.0,689.9 578.5,688.7 586.0,687.4 593.6,686.0 601.1,684.6 608.6,683.2 616.1,681.8 623.7,680.2 631.2,678.7 638.7,677.1 646.3,675.4 653.8,673.6 661.3,671.7 668.8,669.8 676.4,667.7 683.9,665.5 691.4,663.2 698.9,660.8 706.5,658.2 714.0,655.5 721.5,652.6 729.0,649.5 736.6,646.2 744.1,642.7 751.6,638.9 759.2,634.8 766.7,630.4 774.2,625.6 781.7,620.4 789.3,614.8 796.8,608.8 804.3,602.5 811.8,595.7 819.4,588.4 826.9,580.7 834.4,572.5 842.0,563.7 849.5,554.4 857.0,544.5 864.5,533.9 872.1,522.9 879.6,511.5 887.1,499.8 894.6,487.8 902.2,475.8 909.7,463.7 917.2,451.7 924.7,439.9 932.3,428.4 939.8,417.3 947.3,406.4 954.9,395.9 962.4,385.8 969.9,376.1 977.4,366.8 985.0,358.0 992.5,349.8 1000.0,342.2 1007.5,334.9 1015.1,328.0 1022.6,321.5 1030.1,315.5 1037.7,309.9 1045.2,304.9 1052.7,300.3 1060.2,296.3 1067.8,292.9 1075.3,289.9 1082.8,287.5 1090.3,285.7 1097.9,284.4 1105.4,283.6 1112.9,283.5 1120.5,283.8 1128.0,284.7 1135.5,286.1 1143.0,288.0 1150.6,290.5 1158.1,293.4 1165.6,296.8 1173.1,300.8 1180.7,305.3 1188.2,310.3 1195.7,316.0 1203.2,322.4 1210.8,329.4 1218.3,336.9 1225.8,344.8 1233.4,353.0 1240.9,361.4 1248.4,369.9 1255.9,378.4 1263.5,387.0 1271.0,395.6 1278.5,404.2 1286.0,412.9 1293.6,421.5 1301.1,430.2 1308.6,438.9 1316.2,447.6 1323.7,456.4 1331.2,465.1 1338.7,473.9 1346.3,482.8 1353.8,491.6 1361.3,500.4 1368.8,509.2 1376.4,517.8 1383.9,526.4 1391.4,534.9 1398.9,543.2 1406.5,551.4 1414.0,559.4 1421.5,567.1 1429.1,574.7 1436.6,582.1 1444.1,589.2 1451.6,596.1 1459.2,602.7 1466.7,609.1 1474.2,615.2 1481.7,621.1 1489.3,626.8 1496.8,632.1 1504.3,637.3 1511.9,642.2 1519.4,646.8 1526.9,651.2 1534.4,655.3 1542.0,659.2 1549.5,662.9 1557.0,666.4 1564.5,669.8 1572.1,672.9 1579.6,675.9 1587.1,678.8 1594.7,681.5 1602.2,684.1 1609.7,686.6 1617.2,689.0 1624.8,691.4 1632.3,693.7 1639.8,695.9 1647.3,698.1 1654.9,700.1 1662.4,702.1 1669.9,704.0 1677.4,705.9 1685.0,707.6 1692.5,709.3 1700.0,710.8 1707.6,712.3 1715.1,713.7 1722.6,715.0 1730.1,716.2 1737.7,717.3 1745.2,718.3 1752.7,719.3 1760.2,720.2 1767.8,721.0 1775.3,721.8 1782.8,722.5 1790.4,723.1 1797.9,723.8 1805.4,724.3 1812.9,724.9 1820.5,725.4" fill="none" stroke="#00a050" stroke-width="2.6" stroke-linejoin="round"/>
<polyline points="548.4,693.6 555.9,692.4 563.5,691.3 571.0,690.1 578.5,688.9 586.0,687.6 593.6,686.3 601.1,685.0 608.6,683.6 616.1,682.2 623.7,680.7 631.2,679.2 638.7,677.6 646.3,675.9 653.8,674.2 661.3,672.4 668.8,670.4 676.4,668.4 683.9,666.3 691.4,664.0 698.9,661.6 706.5,659.1 714.0,656.4 721.5,653.6 729.0,650.6 736.6,647.4 744.1,643.9 751.6,640.2 759.2,636.2 766.7,631.8 774.2,627.1 781.7,622.0 789.3,616.5 796.8,610.6 804.3,604.3 811.8,597.6 819.4,590.5 826.9,582.9 834.4,574.8 842.0,566.2 849.5,557.1 857.0,547.3 864.5,537.1 872.1,526.3 879.6,515.2 887.1,503.8 894.6,492.1 902.2,480.4 909.7,468.6 917.2,456.8 924.7,445.3 932.3,434.0 939.8,423.0 947.3,412.3 954.9,401.9 962.4,391.8 969.9,382.0 977.4,372.7 985.0,363.9 992.5,355.6 1000.0,347.8 1007.5,340.4 1015.1,333.3 1022.6,326.6 1030.1,320.4 1037.7,314.5 1045.2,309.2 1052.7,304.4 1060.2,300.0 1067.8,296.2 1075.3,292.9 1082.8,290.1 1090.3,287.9 1097.9,286.1 1105.4,285.0 1112.9,284.4 1120.5,284.3 1128.0,284.8 1135.5,285.8 1143.0,287.4 1150.6,289.5 1158.1,292.1 1165.6,295.2 1173.1,298.9 1180.7,303.1 1188.2,307.9 1195.7,313.4 1203.2,319.6 1210.8,326.4 1218.3,333.7 1225.8,341.4 1233.4,349.5 1240.9,357.8 1248.4,366.1 1255.9,374.6 1263.5,383.0 1271.0,391.6 1278.5,400.2 1286.0,408.8 1293.6,417.4 1301.1,426.1 1308.6,434.8 1316.2,443.5 1323.7,452.3 1331.2,461.1 1338.7,470.0 1346.3,478.9 1353.8,487.8 1361.3,496.7 1368.8,505.5 1376.4,514.3 1383.9,523.0 1391.4,531.6 1398.9,540.0 1406.5,548.3 1414.0,556.4 1421.5,564.3 1429.1,572.0 1436.6,579.4 1444.1,586.7 1451.6,593.7 1459.2,600.4 1466.7,606.9 1474.2,613.1 1481.7,619.1 1489.3,624.9 1496.8,630.3 1504.3,635.6 1511.9,640.5 1519.4,645.2 1526.9,649.7 1534.4,653.9 1542.0,657.9 1549.5,661.7 1557.0,665.2 1564.5,668.6 1572.1,671.8 1579.6,674.9 1587.1,677.8 1594.7,680.5 1602.2,683.2 1609.7,685.8 1617.2,688.2 1624.8,690.7 1632.3,693.0 1639.8,695.3 1647.3,697.4 1654.9,699.5 1662.4,701.6 1669.9,703.5 1677.4,705.4 1685.0,707.2 1692.5,708.9 1700.0,710.5 1707.6,712.0 1715.1,713.4 1722.6,714.7 1730.1,715.9 1737.7,717.0 1745.2,718.1 1752.7,719.1 1760.2,720.0 1767.8,720.8 1775.3,721.6 1782.8,722.3 1790.4,723.0 1797.9,723.6 1805.4,724.2 1812.9,724.8 1820.5,725.3" fill="none" stroke="#2828e0" stroke-width="2.6" stroke-linejoin="round"/>
<polyline points="548.4,693.7 555.9,692.5 563.5,691.4 571.0,690.3 578.5,689.1 586.0,687.9 593.6,686.6 601.1,685.3 608.6,684.0 616.1,682.6 623.7,681.1 631.2,679.6 638.7,678.0 646.3,676.4 653.8,674.7 661.3,672.9 668.8,671.0 676.4,669.0 683.9,666.9 691.4,664.7 698.9,662.3 706.5,659.9 714.0,657.2 721.5,654.5 729.0,651.5 736.6,648.3 744.1,644.9 751.6,641.3 759.2,637.3 766.7,633.0 774.2,628.3 781.7,623.3 789.3,617.9 796.8,612.1 804.3,605.9 811.8,599.3 819.4,592.3 826.9,584.8 834.4,576.8 842.0,568.3 849.5,559.3 857.0,549.8 864.5,539.7 872.1,529.2 879.6,518.4 887.1,507.2 894.6,495.8 902.2,484.3 909.7,472.8 917.2,461.3 924.7,449.9 932.3,438.8 939.8,427.9 947.3,417.3 954.9,406.9 962.4,396.8 969.9,387.1 977.4,377.8 985.0,369.0 992.5,360.6 1000.0,352.7 1007.5,345.1 1015.1,337.8 1022.6,331.0 1030.1,324.5 1037.7,318.5 1045.2,312.9 1052.7,307.8 1060.2,303.2 1067.8,299.1 1075.3,295.4 1082.8,292.3 1090.3,289.7 1097.9,287.6 1105.4,286.1 1112.9,285.2 1120.5,284.7 1128.0,284.9 1135.5,285.6 1143.0,286.8 1150.6,288.7 1158.1,291.0 1165.6,293.9 1173.1,297.3 1180.7,301.3 1188.2,305.9 1195.7,311.2 1203.2,317.2 1210.8,323.8 1218.3,331.0 1225.8,338.6 1233.4,346.5 1240.9,354.7 1248.4,362.9 1255.9,371.3 1263.5,379.7 1271.0,388.2 1278.5,396.7 1286.0,405.3 1293.6,413.9 1301.1,422.6 1308.6,431.3 1316.2,440.0 1323.7,448.8 1331.2,457.7 1338.7,466.6 1346.3,475.6 1353.8,484.5 1361.3,493.5 1368.8,502.4 1376.4,511.3 1383.9,520.1 1391.4,528.7 1398.9,537.3 1406.5,545.6 1414.0,553.8 1421.5,561.8 1429.1,569.6 1436.6,577.2 1444.1,584.5 1451.6,591.6 1459.2,598.4 1466.7,605.0 1474.2,611.3 1481.7,617.4 1489.3,623.2 1496.8,628.8 1504.3,634.1 1511.9,639.1 1519.4,643.9 1526.9,648.4 1534.4,652.7 1542.0,656.8 1549.5,660.6 1557.0,664.2 1564.5,667.6 1572.1,670.9 1579.6,674.0 1587.1,676.9 1594.7,679.7 1602.2,682.5 1609.7,685.1 1617.2,687.6 1624.8,690.0 1632.3,692.4 1639.8,694.7 1647.3,696.9 1654.9,699.0 1662.4,701.1 1669.9,703.1 1677.4,705.0 1685.0,706.8 1692.5,708.5 1700.0,710.1 1707.6,711.7 1715.1,713.1 1722.6,714.4 1730.1,715.6 1737.7,716.8 1745.2,717.9 1752.7,718.9 1760.2,719.8 1767.8,720.6 1775.3,721.4 1782.8,722.2 1790.4,722.9 1797.9,723.5 1805.4,724.1 1812.9,724.7 1820.5,725.3" fill="none" stroke="#ff9900" stroke-width="2.6" stroke-linejoin="round"/>
<polyline points="548.4,693.9 555.9,692.6 563.5,691.6 571.0,690.5 578.5,689.4 586.0,688.2 593.6,687.0 601.1,685.8 608.6,684.5 616.1,683.1 623.7,681.7 631.2,680.2 638.7,678.7 646.3,677.1 653.8,675.5 661.3,673.7 668.8,671.9 676.4,669.9 683.9,667.9 691.4,665.7 698.9,663.4 706.5,661.0 714.0,658.5 721.5,655.7 729.0,652.9 736.6,649.8 744.1,646.5 751.6,642.9 759.2,639.0 766.7,634.8 774.2,630.2 781.7,625.3 789.3,620.0 796.8,614.3 804.3,608.3 811.8,601.8 819.4,594.9 826.9,587.6 834.4,579.8 842.0,571.5 849.5,562.7 857.0,553.5 864.5,543.7 872.1,533.6 879.6,523.1 887.1,512.3 894.6,501.3 902.2,490.2 909.7,479.0 917.2,467.8 924.7,456.8 932.3,445.9 939.8,435.2 947.3,424.7 954.9,414.4 962.4,404.4 969.9,394.7 977.4,385.4 985.0,376.5 992.5,368.0 1000.0,359.9 1007.5,352.1 1015.1,344.6 1022.6,337.5 1030.1,330.7 1037.7,324.4 1045.2,318.4 1052.7,312.9 1060.2,307.9 1067.8,303.3 1075.3,299.2 1082.8,295.6 1090.3,292.5 1097.9,289.9 1105.4,287.8 1112.9,286.3 1120.5,285.4 1128.0,285.0 1135.5,285.2 1143.0,286.0 1150.6,287.4 1158.1,289.4 1165.6,291.8 1173.1,294.9 1180.7,298.6 1188.2,302.9 1195.7,307.9 1203.2,313.6 1210.8,320.0 1218.3,326.9 1225.8,334.3 1233.4,342.1 1240.9,350.0 1248.4,358.2 1255.9,366.4 1263.5,374.7 1271.0,383.1 1278.5,391.5 1286.0,400.1 1293.6,408.7 1301.1,417.3 1308.6,426.0 1316.2,434.8 1323.7,443.7 1331.2,452.6 1338.7,461.6 1346.3,470.6 1353.8,479.7 1361.3,488.8 1368.8,497.8 1376.4,506.8 1383.9,515.7 1391.4,524.5 1398.9,533.2 1406.5,541.7 1414.0,550.0 1421.5,558.2 1429.1,566.1 1436.6,573.8 1444.1,581.3 1451.6,588.5 1459.2,595.5 1466.7,602.2 1474.2,608.7 1481.7,614.9 1489.3,620.8 1496.8,626.5 1504.3,631.9 1511.9,637.0 1519.4,641.9 1526.9,646.6 1534.4,650.9 1542.0,655.1 1549.5,659.0 1557.0,662.7 1564.5,666.2 1572.1,669.5 1579.6,672.7 1587.1,675.7 1594.7,678.6 1602.2,681.3 1609.7,684.0 1617.2,686.6 1624.8,689.1 1632.3,691.5 1639.8,693.8 1647.3,696.1 1654.9,698.3 1662.4,700.4 1669.9,702.4 1677.4,704.4 1685.0,706.2 1692.5,708.0 1700.0,709.6 1707.6,711.2 1715.1,712.7 1722.6,714.0 1730.1,715.3 1737.7,716.5 1745.2,717.6 1752.7,718.6 1760.2,719.5 1767.8,720.4 1775.3,721.2 1782.8,722.0 1790.4,722.7 1797.9,723.3 1805.4,723.9 1812.9,724.5 1820.5,725.1" fill="none" stroke="#a030a0" stroke-width="2.6" stroke-linejoin="round"/>
<polyline points="548.4,694.0 555.9,692.7 563.5,691.8 571.0,690.7 578.5,689.7 586.0,688.6 593.6,687.4 601.1,686.2 608.6,684.9 616.1,683.6 623.7,682.2 631.2,680.8 638.7,679.3 646.3,677.8 653.8,676.1 661.3,674.4 668.8,672.6 676.4,670.7 683.9,668.7 691.4,666.6 698.9,664.4 706.5,662.0 714.0,659.5 721.5,656.8 729.0,654.0 736.6,651.0 744.1,647.8 751.6,644.2 759.2,640.4 766.7,636.3 774.2,631.9 781.7,627.0 789.3,621.8 796.8,616.2 804.3,610.3 811.8,603.9 819.4,597.2 826.9,590.0 834.4,582.3 842.0,574.2 849.5,565.6 857.0,556.6 864.5,547.1 872.1,537.3 879.6,527.1 887.1,516.6 894.6,506.0 902.2,495.2 909.7,484.3 917.2,473.5 924.7,462.6 932.3,452.0 939.8,441.4 947.3,431.1 954.9,420.9 962.4,410.9 969.9,401.3 977.4,391.9 985.0,382.9 992.5,374.3 1000.0,366.1 1007.5,358.1 1015.1,350.4 1022.6,343.1 1030.1,336.1 1037.7,329.4 1045.2,323.2 1052.7,317.3 1060.2,311.9 1067.8,306.9 1075.3,302.4 1082.8,298.4 1090.3,294.8 1097.9,291.8 1105.4,289.3 1112.9,287.3 1120.5,285.9 1128.0,285.1 1135.5,284.9 1143.0,285.3 1150.6,286.4 1158.1,287.9 1165.6,290.1 1173.1,292.8 1180.7,296.2 1188.2,300.3 1195.7,305.0 1203.2,310.5 1210.8,316.7 1218.3,323.4 1225.8,330.7 1233.4,338.2 1240.9,346.1 1248.4,354.1 1255.9,362.2 1263.5,370.4 1271.0,378.7 1278.5,387.1 1286.0,395.6 1293.6,404.2 1301.1,412.8 1308.6,421.6 1316.2,430.4 1323.7,439.2 1331.2,448.2 1338.7,457.3 1346.3,466.4 1353.8,475.5 1361.3,484.7 1368.8,493.9 1376.4,503.0 1383.9,512.0 1391.4,520.9 1398.9,529.7 1406.5,538.3 1414.0,546.8 1421.5,555.1 1429.1,563.1 1436.6,571.0 1444.1,578.6 1451.6,585.9 1459.2,593.0 1466.7,599.8 1474.2,606.4 1481.7,612.7 1489.3,618.7 1496.8,624.5 1504.3,630.0 1511.9,635.3 1519.4,640.2 1526.9,644.9 1534.4,649.4 1542.0,653.6 1549.5,657.6 1557.0,661.4 1564.5,664.9 1572.1,668.3 1579.6,671.5 1587.1,674.6 1594.7,677.5 1602.2,680.4 1609.7,683.1 1617.2,685.7 1624.8,688.2 1632.3,690.7 1639.8,693.1 1647.3,695.4 1654.9,697.7 1662.4,699.8 1669.9,701.9 1677.4,703.9 1685.0,705.7 1692.5,707.5 1700.0,709.2 1707.6,710.8 1715.1,712.3 1722.6,713.7 1730.1,715.0 1737.7,716.2 1745.2,717.3 1752.7,718.3 1760.2,719.3 1767.8,720.2 1775.3,721.0 1782.8,721.8 1790.4,722.5 1797.9,723.2 1805.4,723.8 1812.9,724.4 1820.5,725.0" fill="none" stroke="#a850ff" stroke-width="2.6" stroke-linejoin="round"/>
<polyline points="548.4,694.1 555.9,692.9 563.5,691.9 571.0,691.0 578.5,689.9 586.0,688.9 593.6,687.7 601.1,686.6 608.6,685.3 616.1,684.0 623.7,682.7 631.2,681.3 638.7,679.9 646.3,678.4 653.8,676.8 661.3,675.1 668.8,673.4 676.4,671.5 683.9,669.5 691.4,667.5 698.9,665.3 706.5,663.0 714.0,660.5 721.5,657.9 729.0,655.2 736.6,652.2 744.1,649.1 751.6,645.6 759.2,641.9 766.7,637.9 774.2,633.5 781.7,628.7 789.3,623.6 796.8,618.2 804.3,612.3 811.8,606.1 819.4,599.4 826.9,592.3 834.4,584.8 842.0,576.9 849.5,568.5 857.0,559.8 864.5,550.6 872.1,541.0 879.6,531.1 887.1,521.0 894.6,510.7 902.2,500.2 909.7,489.7 917.2,479.1 924.7,468.5 932.3,458.0 939.8,447.7 947.3,437.4 954.9,427.3 962.4,417.4 969.9,407.8 977.4,398.4 985.0,389.4 992.5,380.7 1000.0,372.3 1007.5,364.1 1015.1,356.2 1022.6,348.7 1030.1,341.4 1037.7,334.5 1045.2,327.9 1052.7,321.7 1060.2,315.9 1067.8,310.6 1075.3,305.7 1082.8,301.2 1090.3,297.2 1097.9,293.7 1105.4,290.7 1112.9,288.3 1120.5,286.5 1128.0,285.2 1135.5,284.6 1143.0,284.6 1150.6,285.3 1158.1,286.5 1165.6,288.3 1173.1,290.8 1180.7,293.9 1188.2,297.7 1195.7,302.2 1203.2,307.5 1210.8,313.4 1218.3,320.0 1225.8,327.0 1233.4,334.4 1240.9,342.1 1248.4,350.0 1255.9,358.0 1263.5,366.1 1271.0,374.3 1278.5,382.7 1286.0,391.1 1293.6,399.7 1301.1,408.3 1308.6,417.1 1316.2,425.9 1323.7,434.8 1331.2,443.8 1338.7,452.9 1346.3,462.1 1353.8,471.4 1361.3,480.6 1368.8,489.9 1376.4,499.1 1383.9,508.2 1391.4,517.3 1398.9,526.2 1406.5,535.0 1414.0,543.6 1421.5,552.0 1429.1,560.1 1436.6,568.1 1444.1,575.8 1451.6,583.3 1459.2,590.5 1466.7,597.4 1474.2,604.1 1481.7,610.5 1489.3,616.7 1496.8,622.5 1504.3,628.1 1511.9,633.5 1519.4,638.5 1526.9,643.3 1534.4,647.9 1542.0,652.2 1549.5,656.2 1557.0,660.0 1564.5,663.7 1572.1,667.1 1579.6,670.4 1587.1,673.5 1594.7,676.5 1602.2,679.4 1609.7,682.2 1617.2,684.8 1624.8,687.4 1632.3,689.9 1639.8,692.4 1647.3,694.7 1654.9,697.0 1662.4,699.2 1669.9,701.3 1677.4,703.3 1685.0,705.3 1692.5,707.1 1700.0,708.8 1707.6,710.4 1715.1,712.0 1722.6,713.4 1730.1,714.7 1737.7,715.9 1745.2,717.1 1752.7,718.1 1760.2,719.1 1767.8,720.0 1775.3,720.9 1782.8,721.6 1790.4,722.4 1797.9,723.0 1805.4,723.7 1812.9,724.3 1820.5,724.9" fill="none" stroke="#202020" stroke-width="2.6" stroke-linejoin="round"/>
<polyline points="548.4,694.2 555.9,693.0 563.5,692.1 571.0,691.2 578.5,690.2 586.0,689.2 593.6,688.1 601.1,687.0 608.6,685.8 616.1,684.6 623.7,683.3 631.2,681.9 638.7,680.5 646.3,679.0 653.8,677.5 661.3,675.9 668.8,674.2 676.4,672.4 683.9,670.4 691.4,668.4 698.9,666.3 706.5,664.0 714.0,661.7 721.5,659.1 729.0,656.4 736.6,653.6 744.1,650.5 751.6,647.1 759.2,643.5 766.7,639.5 774.2,635.2 781.7,630.6 789.3,625.6 796.8,620.2 804.3,614.5 811.8,608.4 819.4,601.9 826.9,594.9 834.4,587.6 842.0,579.8 849.5,571.7 857.0,563.2 864.5,554.3 872.1,545.0 879.6,535.5 887.1,525.7 894.6,515.8 902.2,505.7 909.7,495.5 917.2,485.2 924.7,474.9 932.3,464.6 939.8,454.4 947.3,444.3 954.9,434.3 962.4,424.5 969.9,414.9 977.4,405.5 985.0,396.4 992.5,387.5 1000.0,379.0 1007.5,370.6 1015.1,362.5 1022.6,354.7 1030.1,347.1 1037.7,339.9 1045.2,333.0 1052.7,326.5 1060.2,320.3 1067.8,314.5 1075.3,309.2 1082.8,304.2 1090.3,299.8 1097.9,295.8 1105.4,292.3 1112.9,289.4 1120.5,287.1 1128.0,285.4 1135.5,284.3 1143.0,283.9 1150.6,284.1 1158.1,285.0 1165.6,286.4 1173.1,288.5 1180.7,291.3 1188.2,294.8 1195.7,299.1 1203.2,304.1 1210.8,309.9 1218.3,316.2 1225.8,323.1 1233.4,330.3 1240.9,337.8 1248.4,345.6 1255.9,353.4 1263.5,361.5 1271.0,369.6 1278.5,377.9 1286.0,386.3 1293.6,394.8 1301.1,403.5 1308.6,412.2 1316.2,421.1 1323.7,430.0 1331.2,439.1 1338.7,448.3 1346.3,457.5 1353.8,466.9 1361.3,476.2 1368.8,485.6 1376.4,494.9 1383.9,504.2 1391.4,513.4 1398.9,522.4 1406.5,531.3 1414.0,540.0 1421.5,548.6 1429.1,556.9 1436.6,565.0 1444.1,572.8 1451.6,580.4 1459.2,587.8 1466.7,594.8 1474.2,601.6 1481.7,608.2 1489.3,614.4 1496.8,620.4 1504.3,626.1 1511.9,631.5 1519.4,636.7 1526.9,641.6 1534.4,646.2 1542.0,650.6 1549.5,654.7 1557.0,658.6 1564.5,662.3 1572.1,665.8 1579.6,669.2 1587.1,672.4 1594.7,675.4 1602.2,678.3 1609.7,681.2 1617.2,683.9 1624.8,686.5 1632.3,689.1 1639.8,691.6 1647.3,694.0 1654.9,696.3 1662.4,698.6 1669.9,700.7 1677.4,702.8 1685.0,704.7 1692.5,706.6 1700.0,708.4 1707.6,710.0 1715.1,711.6 1722.6,713.0 1730.1,714.4 1737.7,715.6 1745.2,716.8 1752.7,717.9 1760.2,718.9 1767.8,719.8 1775.3,720.6 1782.8,721.5 1790.4,722.2 1797.9,722.9 1805.4,723.5 1812.9,724.1 1820.5,724.8" fill="none" stroke="#ff2020" stroke-width="2.6" stroke-linejoin="round"/>
<polyline points="548.4,694.3 555.9,693.1 563.5,692.2 571.0,691.4 578.5,690.4 586.0,689.4 593.6,688.4 601.1,687.2 608.6,686.1 616.1,684.9 623.7,683.6 631.2,682.3 638.7,680.9 646.3,679.5 653.8,677.9 661.3,676.3 668.8,674.7 676.4,672.9 683.9,671.0 691.4,669.0 698.9,666.9 706.5,664.7 714.0,662.4 721.5,659.9 729.0,657.2 736.6,654.4 744.1,651.4 751.6,648.0 759.2,644.5 766.7,640.6 774.2,636.4 781.7,631.8 789.3,626.8 796.8,621.5 804.3,615.9 811.8,609.8 819.4,603.4 826.9,596.6 834.4,589.3 842.0,581.7 849.5,573.7 857.0,565.3 864.5,556.6 872.1,547.5 879.6,538.2 887.1,528.7 894.6,519.0 902.2,509.1 909.7,499.1 917.2,489.0 924.7,478.9 932.3,468.8 939.8,458.7 947.3,448.7 954.9,438.7 962.4,428.9 969.9,419.3 977.4,409.9 985.0,400.8 992.5,391.9 1000.0,383.2 1007.5,374.7 1015.1,366.5 1022.6,358.5 1030.1,350.8 1037.7,343.4 1045.2,336.2 1052.7,329.5 1060.2,323.0 1067.8,317.0 1075.3,311.4 1082.8,306.2 1090.3,301.4 1097.9,297.1 1105.4,293.3 1112.9,290.1 1120.5,287.5 1128.0,285.4 1135.5,284.1 1143.0,283.4 1150.6,283.4 1158.1,284.0 1165.6,285.2 1173.1,287.1 1180.7,289.7 1188.2,293.1 1195.7,297.2 1203.2,302.0 1210.8,307.6 1218.3,313.8 1225.8,320.6 1233.4,327.7 1240.9,335.1 1248.4,342.8 1255.9,350.6 1263.5,358.5 1271.0,366.6 1278.5,374.9 1286.0,383.2 1293.6,391.8 1301.1,400.4 1308.6,409.1 1316.2,418.0 1323.7,427.0 1331.2,436.1 1338.7,445.3 1346.3,454.6 1353.8,464.0 1361.3,473.5 1368.8,482.9 1376.4,492.3 1383.9,501.6 1391.4,510.9 1398.9,520.0 1406.5,529.0 1414.0,537.8 1421.5,546.4 1429.1,554.9 1436.6,563.0 1444.1,571.0 1451.6,578.6 1459.2,586.0 1466.7,593.2 1474.2,600.1 1481.7,606.7 1489.3,613.0 1496.8,619.1 1504.3,624.8 1511.9,630.3 1519.4,635.5 1526.9,640.5 1534.4,645.2 1542.0,649.6 1549.5,653.8 1557.0,657.7 1564.5,661.5 1572.1,665.0 1579.6,668.4 1587.1,671.6 1594.7,674.7 1602.2,677.7 1609.7,680.5 1617.2,683.3 1624.8,686.0 1632.3,688.6 1639.8,691.1 1647.3,693.5 1654.9,695.9 1662.4,698.2 1669.9,700.3 1677.4,702.4 1685.0,704.4 1692.5,706.3 1700.0,708.1 1707.6,709.8 1715.1,711.3 1722.6,712.8 1730.1,714.2 1737.7,715.4 1745.2,716.6 1752.7,717.7 1760.2,718.7 1767.8,719.6 1775.3,720.5 1782.8,721.3 1790.4,722.1 1797.9,722.8 1805.4,723.4 1812.9,724.0 1820.5,724.7" fill="none" stroke="#2020ff" stroke-width="2.6" stroke-linejoin="round"/>
<polyline points="548.4,694.3 555.9,693.2 563.5,692.3 571.0,691.5 578.5,690.6 586.0,689.6 593.6,688.6 601.1,687.5 608.6,686.3 616.1,685.1 623.7,683.9 631.2,682.6 638.7,681.2 646.3,679.8 653.8,678.3 661.3,676.7 668.8,675.1 676.4,673.3 683.9,671.5 691.4,669.5 698.9,667.5 706.5,665.3 714.0,663.0 721.5,660.5 729.0,657.9 736.6,655.1 744.1,652.1 751.6,648.8 759.2,645.3 766.7,641.5 774.2,637.3 781.7,632.8 789.3,627.9 796.8,622.6 804.3,617.0 811.8,611.0 819.4,604.7 826.9,597.9 834.4,590.8 842.0,583.2 849.5,575.3 857.0,567.1 864.5,558.5 872.1,549.7 879.6,540.5 887.1,531.2 894.6,521.7 902.2,512.0 909.7,502.1 917.2,492.2 924.7,482.3 932.3,472.2 939.8,462.2 947.3,452.3 954.9,442.4 962.4,432.6 969.9,423.0 977.4,413.6 985.0,404.4 992.5,395.4 1000.0,386.7 1007.5,378.1 1015.1,369.8 1022.6,361.7 1030.1,353.8 1037.7,346.2 1045.2,338.9 1052.7,332.0 1060.2,325.3 1067.8,319.1 1075.3,313.2 1082.8,307.8 1090.3,302.7 1097.9,298.2 1105.4,294.1 1112.9,290.7 1120.5,287.8 1128.0,285.5 1135.5,283.9 1143.0,283.0 1150.6,282.8 1158.1,283.2 1165.6,284.2 1173.1,286.0 1180.7,288.4 1188.2,291.6 1195.7,295.5 1203.2,300.3 1210.8,305.8 1218.3,311.9 1225.8,318.5 1233.4,325.5 1240.9,332.9 1248.4,340.5 1255.9,348.2 1263.5,356.1 1271.0,364.2 1278.5,372.4 1286.0,380.7 1293.6,389.2 1301.1,397.8 1308.6,406.6 1316.2,415.5 1323.7,424.5 1331.2,433.6 1338.7,442.9 1346.3,452.2 1353.8,461.7 1361.3,471.2 1368.8,480.7 1376.4,490.1 1383.9,499.5 1391.4,508.8 1398.9,518.0 1406.5,527.1 1414.0,536.0 1421.5,544.7 1429.1,553.2 1436.6,561.4 1444.1,569.4 1451.6,577.1 1459.2,584.6 1466.7,591.8 1474.2,598.8 1481.7,605.4 1489.3,611.8 1496.8,617.9 1504.3,623.8 1511.9,629.3 1519.4,634.6 1526.9,639.6 1534.4,644.3 1542.0,648.8 1549.5,653.0 1557.0,657.0 1564.5,660.8 1572.1,664.4 1579.6,667.8 1587.1,671.0 1594.7,674.1 1602.2,677.1 1609.7,680.0 1617.2,682.8 1624.8,685.5 1632.3,688.1 1639.8,690.7 1647.3,693.2 1654.9,695.5 1662.4,697.8 1669.9,700.0 1677.4,702.1 1685.0,704.1 1692.5,706.0 1700.0,707.9 1707.6,709.5 1715.1,711.1 1722.6,712.6 1730.1,714.0 1737.7,715.3 1745.2,716.5 1752.7,717.6 1760.2,718.6 1767.8,719.5 1775.3,720.4 1782.8,721.2 1790.4,722.0 1797.9,722.7 1805.4,723.4 1812.9,724.0 1820.5,724.6" fill="none" stroke="#00a0a0" stroke-width="2.6" stroke-linejoin="round"/>
<polyline points="548.4,694.4 555.9,693.2 563.5,692.4 571.0,691.5 578.5,690.6 586.0,689.7 593.6,688.7 601.1,687.6 608.6,686.5 616.1,685.3 623.7,684.1 631.2,682.8 638.7,681.4 646.3,680.0 653.8,678.5 661.3,677.0 668.8,675.3 676.4,673.6 683.9,671.8 691.4,669.8 698.9,667.8 706.5,665.6 714.0,663.3 721.5,660.9 729.0,658.3 736.6,655.5 744.1,652.5 751.6,649.3 759.2,645.8 766.7,642.0 774.2,637.8 781.7,633.3 789.3,628.5 796.8,623.3 804.3,617.7 811.8,611.8 819.4,605.4 826.9,598.7 834.4,591.6 842.0,584.1 849.5,576.3 857.0,568.1 864.5,559.7 872.1,550.9 879.6,541.9 887.1,532.6 894.6,523.2 902.2,513.6 909.7,503.9 917.2,494.1 924.7,484.2 932.3,474.3 939.8,464.3 947.3,454.4 954.9,444.5 962.4,434.8 969.9,425.2 977.4,415.8 985.0,406.6 992.5,397.6 1000.0,388.7 1007.5,380.1 1015.1,371.7 1022.6,363.5 1030.1,355.6 1037.7,347.9 1045.2,340.5 1052.7,333.4 1060.2,326.7 1067.8,320.3 1075.3,314.3 1082.8,308.7 1090.3,303.5 1097.9,298.8 1105.4,294.6 1112.9,291.0 1120.5,288.0 1128.0,285.6 1135.5,283.8 1143.0,282.8 1150.6,282.4 1158.1,282.7 1165.6,283.7 1173.1,285.3 1180.7,287.6 1188.2,290.7 1195.7,294.6 1203.2,299.3 1210.8,304.7 1218.3,310.7 1225.8,317.3 1233.4,324.3 1240.9,331.6 1248.4,339.1 1255.9,346.8 1263.5,354.7 1271.0,362.7 1278.5,370.9 1286.0,379.2 1293.6,387.7 1301.1,396.3 1308.6,405.1 1316.2,414.0 1323.7,423.0 1331.2,432.2 1338.7,441.4 1346.3,450.8 1353.8,460.3 1361.3,469.8 1368.8,479.3 1376.4,488.8 1383.9,498.3 1391.4,507.6 1398.9,516.9 1406.5,526.0 1414.0,534.9 1421.5,543.6 1429.1,552.2 1436.6,560.4 1444.1,568.5 1451.6,576.3 1459.2,583.8 1466.7,591.0 1474.2,598.0 1481.7,604.7 1489.3,611.1 1496.8,617.3 1504.3,623.1 1511.9,628.7 1519.4,634.0 1526.9,639.0 1534.4,643.8 1542.0,648.3 1549.5,652.5 1557.0,656.5 1564.5,660.3 1572.1,664.0 1579.6,667.4 1587.1,670.7 1594.7,673.8 1602.2,676.8 1609.7,679.7 1617.2,682.5 1624.8,685.2 1632.3,687.9 1639.8,690.5 1647.3,692.9 1654.9,695.3 1662.4,697.6 1669.9,699.8 1677.4,702.0 1685.0,704.0 1692.5,705.9 1700.0,707.7 1707.6,709.4 1715.1,711.0 1722.6,712.5 1730.1,713.9 1737.7,715.2 1745.2,716.4 1752.7,717.5 1760.2,718.5 1767.8,719.5 1775.3,720.4 1782.8,721.2 1790.4,721.9 1797.9,722.7 1805.4,723.3 1812.9,723.9 1820.5,724.6" fill="none" stroke="#ff00ff" stroke-width="2.6" stroke-linejoin="round"/>
<polyline points="548.4,694.4 555.9,693.3 563.5,692.5 571.0,691.7 578.5,690.8 586.0,689.8 593.6,688.8 601.1,687.8 608.6,686.7 616.1,685.5 623.7,684.3 631.2,683.1 638.7,681.7 646.3,680.3 653.8,678.9 661.3,677.3 668.8,675.7 676.4,674.0 683.9,672.2 691.4,670.3 698.9,668.2 706.5,666.1 714.0,663.8 721.5,661.4 729.0,658.9 736.6,656.1 744.1,653.2 751.6,650.0 759.2,646.5 766.7,642.7 774.2,638.6 781.7,634.2 789.3,629.4 796.8,624.2 804.3,618.7 811.8,612.8 819.4,606.6 826.9,599.9 834.4,592.9 842.0,585.5 849.5,577.8 857.0,569.7 864.5,561.4 872.1,552.7 879.6,543.9 887.1,534.8 894.6,525.6 902.2,516.2 909.7,506.6 917.2,496.9 924.7,487.2 932.3,477.3 939.8,467.4 947.3,457.6 954.9,447.8 962.4,438.0 969.9,428.4 977.4,419.0 985.0,409.8 992.5,400.7 1000.0,391.8 1007.5,383.1 1015.1,374.6 1022.6,366.3 1030.1,358.2 1037.7,350.4 1045.2,342.9 1052.7,335.6 1060.2,328.7 1067.8,322.1 1075.3,315.9 1082.8,310.1 1090.3,304.7 1097.9,299.8 1105.4,295.4 1112.9,291.5 1120.5,288.2 1128.0,285.6 1135.5,283.7 1143.0,282.4 1150.6,281.9 1158.1,282.0 1165.6,282.8 1173.1,284.3 1180.7,286.5 1188.2,289.4 1195.7,293.2 1203.2,297.7 1210.8,303.0 1218.3,309.0 1225.8,315.4 1233.4,322.4 1240.9,329.6 1248.4,337.1 1255.9,344.7 1263.5,352.5 1271.0,360.5 1278.5,368.7 1286.0,377.0 1293.6,385.5 1301.1,394.1 1308.6,402.8 1316.2,411.8 1323.7,420.8 1331.2,430.0 1338.7,439.3 1346.3,448.7 1353.8,458.2 1361.3,467.8 1368.8,477.4 1376.4,486.9 1383.9,496.4 1391.4,505.8 1398.9,515.1 1406.5,524.3 1414.0,533.3 1421.5,542.1 1429.1,550.7 1436.6,559.0 1444.1,567.1 1451.6,574.9 1459.2,582.5 1466.7,589.8 1474.2,596.9 1481.7,603.6 1489.3,610.1 1496.8,616.3 1504.3,622.2 1511.9,627.8 1519.4,633.2 1526.9,638.2 1534.4,643.0 1542.0,647.5 1549.5,651.8 1557.0,655.9 1564.5,659.7 1572.1,663.4 1579.6,666.8 1587.1,670.1 1594.7,673.3 1602.2,676.3 1609.7,679.3 1617.2,682.1 1624.8,684.8 1632.3,687.5 1639.8,690.1 1647.3,692.6 1654.9,695.0 1662.4,697.3 1669.9,699.6 1677.4,701.7 1685.0,703.7 1692.5,705.7 1700.0,707.5 1707.6,709.2 1715.1,710.8 1722.6,712.3 1730.1,713.7 1737.7,715.0 1745.2,716.2 1752.7,717.4 1760.2,718.4 1767.8,719.4 1775.3,720.3 1782.8,721.1 1790.4,721.9 1797.9,722.6 1805.4,723.3 1812.9,723.9 1820.5,724.6" fill="none" stroke="#a0a028" stroke-width="2.6" stroke-linejoin="round"/>
<polyline points="548.4,694.5 555.9,693.3 563.5,692.6 571.0,691.8 578.5,690.9 586.0,690.0 593.6,689.0 601.1,688.0 608.6,686.9 616.1,685.7 623.7,684.5 631.2,683.3 638.7,682.0 646.3,680.6 653.8,679.1 661.3,677.6 668.8,676.0 676.4,674.3 683.9,672.5 691.4,670.6 698.9,668.6 706.5,666.5 714.0,664.3 721.5,661.9 729.0,659.4 736.6,656.7 744.1,653.7 751.6,650.6 759.2,647.1 766.7,643.4 774.2,639.3 781.7,634.9 789.3,630.2 796.8,625.1 804.3,619.6 811.8,613.8 819.4,607.5 826.9,600.9 834.4,594.0 842.0,586.7 849.5,579.0 857.0,571.1 864.5,562.8 872.1,554.4 879.6,545.6 887.1,536.7 894.6,527.6 902.2,518.3 909.7,508.9 917.2,499.4 924.7,489.7 932.3,480.0 939.8,470.2 947.3,460.3 954.9,450.5 962.4,440.8 969.9,431.3 977.4,421.8 985.0,412.6 992.5,403.5 1000.0,394.5 1007.5,385.7 1015.1,377.1 1022.6,368.7 1030.1,360.5 1037.7,352.6 1045.2,344.9 1052.7,337.5 1060.2,330.4 1067.8,323.7 1075.3,317.3 1082.8,311.3 1090.3,305.7 1097.9,300.6 1105.4,296.0 1112.9,291.9 1120.5,288.5 1128.0,285.7 1135.5,283.5 1143.0,282.1 1150.6,281.4 1158.1,281.4 1165.6,282.0 1173.1,283.4 1180.7,285.5 1188.2,288.3 1195.7,291.9 1203.2,296.4 1210.8,301.6 1218.3,307.5 1225.8,313.9 1233.4,320.7 1240.9,327.9 1248.4,335.3 1255.9,342.9 1263.5,350.7 1271.0,358.6 1278.5,366.8 1286.0,375.1 1293.6,383.5 1301.1,392.1 1308.6,400.9 1316.2,409.8 1323.7,418.9 1331.2,428.1 1338.7,437.4 1346.3,446.9 1353.8,456.4 1361.3,466.0 1368.8,475.7 1376.4,485.3 1383.9,494.8 1391.4,504.3 1398.9,513.6 1406.5,522.8 1414.0,531.9 1421.5,540.7 1429.1,549.4 1436.6,557.8 1444.1,565.9 1451.6,573.8 1459.2,581.4 1466.7,588.8 1474.2,595.9 1481.7,602.7 1489.3,609.2 1496.8,615.4 1504.3,621.4 1511.9,627.1 1519.4,632.4 1526.9,637.5 1534.4,642.4 1542.0,646.9 1549.5,651.2 1557.0,655.3 1564.5,659.2 1572.1,662.8 1579.6,666.3 1587.1,669.7 1594.7,672.9 1602.2,675.9 1609.7,678.9 1617.2,681.7 1624.8,684.5 1632.3,687.2 1639.8,689.8 1647.3,692.3 1654.9,694.7 1662.4,697.1 1669.9,699.3 1677.4,701.5 1685.0,703.5 1692.5,705.5 1700.0,707.3 1707.6,709.1 1715.1,710.7 1722.6,712.2 1730.1,713.6 1737.7,714.9 1745.2,716.1 1752.7,717.3 1760.2,718.3 1767.8,719.3 1775.3,720.2 1782.8,721.0 1790.4,721.8 1797.9,722.5 1805.4,723.2 1812.9,723.8 1820.5,724.5" fill="none" stroke="#2a2a98" stroke-width="2.6" stroke-linejoin="round"/>
</g>
<rect x="555.5" y="49.0" width="1259.5" height="751.3" fill="none" stroke="#000" stroke-width="5"/>
<line x1="532.5" y1="737.0" x2="555.5" y2="737.0" stroke="#000" stroke-width="4.5"/>
<line x1="532.5" y1="588.5" x2="555.5" y2="588.5" stroke="#000" stroke-width="4.5"/>
<line x1="532.5" y1="440.0" x2="555.5" y2="440.0" stroke="#000" stroke-width="4.5"/>
<line x1="532.5" y1="291.5" x2="555.5" y2="291.5" stroke="#000" stroke-width="4.5"/>
<line x1="532.5" y1="143.0" x2="555.5" y2="143.0" stroke="#000" stroke-width="4.5"/>
<line x1="543.5" y1="662.8" x2="555.5" y2="662.8" stroke="#000" stroke-width="4.5"/>
<line x1="543.5" y1="514.2" x2="555.5" y2="514.2" stroke="#000" stroke-width="4.5"/>
<line x1="543.5" y1="365.8" x2="555.5" y2="365.8" stroke="#000" stroke-width="4.5"/>
<line x1="543.5" y1="217.2" x2="555.5" y2="217.2" stroke="#000" stroke-width="4.5"/>
<line x1="543.5" y1="68.8" x2="555.5" y2="68.8" stroke="#000" stroke-width="4.5"/>
<line x1="854.0" y1="800.3" x2="854.0" y2="816.3" stroke="#000" stroke-width="4.5"/>
<line x1="1236.0" y1="800.3" x2="1236.0" y2="816.3" stroke="#000" stroke-width="4.5"/>
<line x1="1618.0" y1="800.3" x2="1618.0" y2="816.3" stroke="#000" stroke-width="4.5"/>
<line x1="663.0" y1="800.3" x2="663.0" y2="810.3" stroke="#000" stroke-width="4.5"/>
<line x1="1045.0" y1="800.3" x2="1045.0" y2="810.3" stroke="#000" stroke-width="4.5"/>
<line x1="1427.0" y1="800.3" x2="1427.0" y2="810.3" stroke="#000" stroke-width="4.5"/>
<line x1="1809.0" y1="800.3" x2="1809.0" y2="810.3" stroke="#000" stroke-width="4.5"/>
<text x="437.8" y="748.5" font-size="45.2" font-weight="700" textLength="80.9" lengthAdjust="spacingAndGlyphs" fill="#000">0.0</text>
<text x="437.8" y="600.0" font-size="45.2" font-weight="700" textLength="80.9" lengthAdjust="spacingAndGlyphs" fill="#000">0.2</text>
<text x="437.9" y="451.5" font-size="45.2" font-weight="700" textLength="78.8" lengthAdjust="spacingAndGlyphs" fill="#000">0.4</text>
<text x="437.8" y="303.0" font-size="45.2" font-weight="700" textLength="80.6" lengthAdjust="spacingAndGlyphs" fill="#000">0.6</text>
<text x="437.8" y="154.5" font-size="45.2" font-weight="700" textLength="80.3" lengthAdjust="spacingAndGlyphs" fill="#000">0.8</text>
<text x="806.4" y="858.0" font-size="40.1" font-weight="700" textLength="96.5" lengthAdjust="spacingAndGlyphs" fill="#000">410</text>
<text x="1188.4" y="858.0" font-size="40.1" font-weight="700" textLength="96.5" lengthAdjust="spacingAndGlyphs" fill="#000">420</text>
<text x="1570.4" y="858.0" font-size="40.1" font-weight="700" textLength="96.5" lengthAdjust="spacingAndGlyphs" fill="#000">430</text>
<text x="908.0" y="945.0" font-size="59.3" font-weight="700" textLength="472.6" lengthAdjust="spacingAndGlyphs" fill="#000">Wavelength / nm</text>
<text transform="translate(360.4,614.5) rotate(-90)" x="0" y="0" font-size="71.2" font-weight="700" textLength="340.5" lengthAdjust="spacingAndGlyphs" fill="#000">Absorbance</text>
<defs><linearGradient id="ga" x1="830" y1="0" x2="1390" y2="0" gradientUnits="userSpaceOnUse"><stop offset="0" stop-color="#2272a6"/><stop offset="0.5" stop-color="#2a84bd"/><stop offset="1" stop-color="#3197d4"/></linearGradient></defs>
<path d="M832.7,154.4 C831.7,158.9 827.6,172.8 826.5,181.2 C825.4,189.6 825.4,196.7 826.1,204.7 C826.9,212.7 828.5,221.2 831.0,229.4 C833.5,237.7 836.6,245.9 840.9,254.2 C845.2,262.4 850.6,270.7 857.0,278.9 C863.4,287.1 870.6,295.8 879.2,303.6 C887.9,311.4 897.8,318.7 908.9,325.9 C920.0,333.1 934.7,341.2 946.0,346.9 C957.3,352.6 966.0,356.0 976.9,360.0 C987.8,364.0 1000.4,367.9 1011.1,370.9 C1021.8,373.9 1029.8,375.2 1041.3,377.9 C1052.8,380.5 1067.8,384.4 1080.0,386.8 C1092.2,389.2 1099.8,390.9 1114.8,392.0 C1129.8,393.1 1151.5,393.6 1169.8,393.4 C1188.1,393.2 1208.7,393.0 1224.7,390.7 C1240.7,388.4 1253.4,384.0 1265.9,379.7 C1278.5,375.4 1289.3,370.8 1300.0,365.0 C1310.7,359.2 1321.2,351.3 1330.0,345.0 C1338.8,338.7 1348.9,330.0 1352.7,327.0 L1387,332.5 L1359.6,282.2 L1285.4,307.7 L1317.0,318.7 C1313.1,323.8 1301.9,341.6 1293.4,349.5 C1284.9,357.4 1277.4,361.0 1265.9,366.0 C1254.5,371.0 1240.7,376.1 1224.7,379.7 C1208.7,383.3 1188.1,386.3 1169.8,387.4 C1151.5,388.5 1129.8,387.5 1114.8,386.5 C1099.8,385.5 1089.7,383.1 1080.0,381.5 C1070.3,379.9 1065.4,378.9 1056.4,376.9 C1047.4,374.9 1033.8,371.9 1026.2,369.4 C1018.7,366.9 1017.4,365.1 1011.1,361.8 C1004.8,358.5 996.0,354.0 988.4,349.7 C980.8,345.4 973.3,340.6 965.8,336.1 C958.2,331.6 950.4,327.5 943.1,322.5 C935.8,317.5 928.9,311.9 922.0,305.9 C915.1,299.9 908.2,292.6 902.0,286.3 C895.8,280.0 890.0,274.2 885.0,268.1 C880.0,262.1 875.2,255.3 872.0,250.0 C868.8,244.7 867.8,241.8 866.0,236.0 C864.2,230.2 862.6,222.3 861.5,215.5 C860.4,208.7 859.4,201.6 859.5,195.0 C859.6,188.4 861.2,181.1 862.2,175.7 C863.2,170.3 865.0,164.9 865.6,162.7 Z" fill="url(#ga)"/>
<text x="683.4" y="115.4" font-size="47.6" font-weight="700" textLength="255.1" lengthAdjust="spacingAndGlyphs" fill="#0d2c6e">413.8nm</text>
<text x="1296.0" y="254.7" font-size="51.9" font-weight="700" textLength="253.9" lengthAdjust="spacingAndGlyphs" fill="#0d2c6e">418.9nm</text>
<text x="630.3" y="318.5" font-size="72.1" font-weight="400" textLength="212.5" lengthAdjust="spacingAndGlyphs" fill="#000" stroke="#000" stroke-width="1.8">pH 4.5</text>
<text x="1533.5" y="313.0" font-size="70.3" font-weight="400" textLength="213.1" lengthAdjust="spacingAndGlyphs" fill="#000" stroke="#000" stroke-width="1.8">pH 2.2</text>
<text x="589.6" y="202.0" font-size="120.0" font-weight="700" textLength="108.3" lengthAdjust="spacingAndGlyphs" fill="#000">a)</text>
<clipPath id="cb"><rect x="255.3" y="1017.8" width="844.5" height="687.0"/></clipPath>
<g clip-path="url(#cb)">
<polyline points="219.7,1558.0 227.3,1544.6 235.0,1530.9 242.7,1517.2 250.3,1503.3 258.0,1489.4 265.6,1475.6 273.3,1461.8 281.0,1447.8 288.6,1433.8 296.3,1419.6 303.9,1405.5 311.6,1391.2 319.3,1377.0 326.9,1362.7 334.6,1348.4 342.2,1334.1 349.9,1319.9 357.5,1305.7 365.2,1291.7 372.9,1277.9 380.5,1264.3 388.2,1250.9 395.8,1237.9 403.5,1225.3 411.2,1213.0 418.8,1201.3 426.5,1190.0 434.1,1179.3 441.8,1169.1 449.5,1159.6 457.1,1150.6 464.8,1142.3 472.4,1134.6 480.1,1127.6 487.8,1121.2 495.4,1115.6 503.1,1110.6 510.7,1106.4 518.4,1102.8 526.1,1099.8 533.7,1097.5 541.4,1095.8 549.0,1094.8 556.7,1094.4 564.4,1094.5 572.0,1095.1 579.7,1096.3 587.3,1098.0 595.0,1100.2 602.7,1103.0 610.3,1106.3 618.0,1110.3 625.6,1114.8 633.3,1119.9 641.0,1125.7 648.6,1132.2 656.3,1139.4 663.9,1147.4 671.6,1156.0 679.3,1165.5 686.9,1175.6 694.6,1186.5 702.2,1198.0 709.9,1210.2 717.6,1223.1 725.2,1236.5 732.9,1250.3 740.5,1264.5 748.2,1278.9 755.9,1293.4 763.5,1308.1 771.2,1322.8 778.8,1337.4 786.5,1351.9 794.1,1366.3 801.8,1380.6 809.5,1394.8 817.1,1408.9 824.8,1422.9 832.4,1436.7 840.1,1450.4 847.8,1464.0 855.4,1477.5 863.1,1490.8 870.7,1504.0 878.4,1517.1 886.1,1530.1 893.7,1543.1 901.4,1555.9 909.0,1568.7 916.7,1581.5 924.4,1594.3 932.0,1607.1 939.7,1619.8 947.3,1632.6 955.0,1645.5 962.7,1658.4 970.3,1671.5 978.0,1684.6 985.6,1697.9 993.3,1711.3 1001.0,1724.9 1008.6,1738.7 1016.3,1752.5 1023.9,1766.4 1031.6,1780.3 1039.3,1794.1 1046.9,1807.9 1054.6,1821.5 1062.2,1835.0 1069.9,1847.2 1077.6,1857.3 1085.2,1867.0 1092.9,1876.6 1100.5,1886.0 1108.2,1895.1 1115.9,1904.0 1123.5,1912.6 1131.2,1921.1" fill="none" stroke="#a0a020" stroke-width="2.0" stroke-linejoin="round"/>
<polyline points="219.7,1546.3 227.3,1532.4 235.0,1518.3 242.7,1504.1 250.3,1489.8 258.0,1475.4 265.6,1460.9 273.3,1446.4 281.0,1431.9 288.6,1417.2 296.3,1402.6 303.9,1387.9 311.6,1373.3 319.3,1358.7 326.9,1344.1 334.6,1329.6 342.2,1315.2 349.9,1301.0 357.5,1286.9 365.2,1273.0 372.9,1259.3 380.5,1245.8 388.2,1232.7 395.8,1219.9 403.5,1207.5 411.2,1195.4 418.8,1183.8 426.5,1172.6 434.1,1162.0 441.8,1151.8 449.5,1142.3 457.1,1133.3 464.8,1124.9 472.4,1117.2 480.1,1110.2 487.8,1103.8 495.4,1098.2 503.1,1093.2 510.7,1089.0 518.4,1085.5 526.1,1082.6 533.7,1080.5 541.4,1079.1 549.0,1078.3 556.7,1078.1 564.4,1078.6 572.0,1079.6 579.7,1081.3 587.3,1083.5 595.0,1086.2 602.7,1089.6 610.3,1093.6 618.0,1098.2 625.6,1103.4 633.3,1109.3 641.0,1116.0 648.6,1123.3 656.3,1131.4 663.9,1140.2 671.6,1149.8 679.3,1160.1 686.9,1171.1 694.6,1182.8 702.2,1195.1 709.9,1208.0 717.6,1221.5 725.2,1235.4 732.9,1249.6 740.5,1264.1 748.2,1278.8 755.9,1293.6 763.5,1308.4 771.2,1323.3 778.8,1338.1 786.5,1352.8 794.1,1367.4 801.8,1381.9 809.5,1396.3 817.1,1410.6 824.8,1424.9 832.4,1439.0 840.1,1453.1 847.8,1467.1 855.4,1481.0 863.1,1494.9 870.7,1508.7 878.4,1522.4 886.1,1536.1 893.7,1549.7 901.4,1563.3 909.0,1576.9 916.7,1590.4 924.4,1603.9 932.0,1617.4 939.7,1630.8 947.3,1644.3 955.0,1657.8 962.7,1671.3 970.3,1684.9 978.0,1698.5 985.6,1712.2 993.3,1726.0 1001.0,1739.8 1008.6,1753.7 1016.3,1767.5 1023.9,1781.4 1031.6,1795.2 1039.3,1808.8 1046.9,1821.9 1054.6,1834.7 1062.2,1847.4 1069.9,1859.1 1077.6,1869.2 1085.2,1879.0 1092.9,1888.6 1100.5,1897.9 1108.2,1907.0 1115.9,1915.9 1123.5,1924.6 1131.2,1933.0" fill="none" stroke="#ff20ff" stroke-width="2.0" stroke-linejoin="round"/>
<polyline points="219.7,1533.0 227.3,1518.5 235.0,1503.9 242.7,1489.2 250.3,1474.4 258.0,1459.4 265.6,1444.2 273.3,1428.9 281.0,1413.7 288.6,1398.4 296.3,1383.2 303.9,1368.0 311.6,1352.8 319.3,1337.8 326.9,1322.9 334.6,1308.2 342.2,1293.7 349.9,1279.4 357.5,1265.4 365.2,1251.6 372.9,1238.1 380.5,1224.8 388.2,1211.9 395.8,1199.4 403.5,1187.1 411.2,1175.3 418.8,1163.8 426.5,1152.8 434.1,1142.2 441.8,1132.1 449.5,1122.6 457.1,1113.6 464.8,1105.2 472.4,1097.4 480.1,1090.4 487.8,1084.0 495.4,1078.3 503.1,1073.4 510.7,1069.2 518.4,1065.8 526.1,1063.1 533.7,1061.1 541.4,1059.9 549.0,1059.4 556.7,1059.6 564.4,1060.5 572.0,1062.0 579.7,1064.1 587.3,1066.9 595.0,1070.3 602.7,1074.3 610.3,1079.0 618.0,1084.4 625.6,1090.5 633.3,1097.2 641.0,1104.8 648.6,1113.1 656.3,1122.2 663.9,1132.0 671.6,1142.6 679.3,1153.9 686.9,1165.9 694.6,1178.5 702.2,1191.7 709.9,1205.5 717.6,1219.6 725.2,1234.1 732.9,1248.9 740.5,1263.8 748.2,1278.8 755.9,1293.8 763.5,1308.9 771.2,1323.9 778.8,1338.9 786.5,1353.8 794.1,1368.6 801.8,1383.3 809.5,1398.0 817.1,1412.6 824.8,1427.2 832.4,1441.7 840.1,1456.2 847.8,1470.7 855.4,1485.1 863.1,1499.6 870.7,1514.1 878.4,1528.5 886.1,1542.9 893.7,1557.4 901.4,1571.8 909.0,1586.1 916.7,1600.5 924.4,1614.8 932.0,1629.1 939.7,1643.4 947.3,1657.6 955.0,1671.8 962.7,1686.0 970.3,1700.2 978.0,1714.4 985.6,1728.5 993.3,1742.7 1001.0,1756.7 1008.6,1770.7 1016.3,1784.7 1023.9,1798.5 1031.6,1812.1 1039.3,1825.6 1046.9,1837.9 1054.6,1849.9 1062.2,1861.6 1069.9,1872.7 1077.6,1882.8 1085.2,1892.6 1092.9,1902.2 1100.5,1911.6 1108.2,1920.7 1115.9,1929.5 1123.5,1938.1 1131.2,1946.5" fill="none" stroke="#00a0a0" stroke-width="2.0" stroke-linejoin="round"/>
<polyline points="219.7,1525.5 227.3,1510.7 235.0,1495.8 242.7,1480.8 250.3,1465.7 258.0,1450.4 265.6,1434.7 273.3,1419.1 281.0,1403.4 288.6,1387.8 296.3,1372.2 303.9,1356.7 311.6,1341.3 319.3,1326.1 326.9,1311.0 334.6,1296.2 342.2,1281.6 349.9,1267.3 357.5,1253.3 365.2,1239.5 372.9,1226.1 380.5,1213.0 388.2,1200.2 395.8,1187.8 403.5,1175.7 411.2,1164.0 418.8,1152.6 426.5,1141.7 434.1,1131.1 441.8,1121.0 449.5,1111.5 457.1,1102.5 464.8,1094.1 472.4,1086.3 480.1,1079.2 487.8,1072.8 495.4,1067.1 503.1,1062.2 510.7,1058.1 518.4,1054.7 526.1,1052.0 533.7,1050.2 541.4,1049.1 549.0,1048.8 556.7,1049.2 564.4,1050.3 572.0,1052.1 579.7,1054.5 587.3,1057.6 595.0,1061.3 602.7,1065.7 610.3,1070.8 618.0,1076.6 625.6,1083.2 633.3,1090.4 641.0,1098.5 648.6,1107.4 656.3,1117.0 663.9,1127.4 671.6,1138.6 679.3,1150.4 686.9,1163.0 694.6,1176.1 702.2,1189.8 709.9,1204.0 717.6,1218.6 725.2,1233.4 732.9,1248.4 740.5,1263.6 748.2,1278.7 755.9,1293.9 763.5,1309.1 771.2,1324.2 778.8,1339.3 786.5,1354.3 794.1,1369.3 801.8,1384.1 809.5,1398.9 817.1,1413.7 824.8,1428.5 832.4,1443.2 840.1,1457.9 847.8,1472.7 855.4,1487.4 863.1,1502.2 870.7,1517.1 878.4,1531.9 886.1,1546.8 893.7,1561.7 901.4,1576.5 909.0,1591.4 916.7,1606.2 924.4,1621.0 932.0,1635.7 939.7,1650.4 947.3,1665.1 955.0,1679.7 962.7,1694.3 970.3,1708.8 978.0,1723.3 985.6,1737.7 993.3,1752.0 1001.0,1766.3 1008.6,1780.4 1016.3,1794.3 1023.9,1808.1 1031.6,1821.7 1039.3,1835.1 1046.9,1846.9 1054.6,1858.4 1062.2,1869.6 1069.9,1880.3 1077.6,1890.4 1085.2,1900.3 1092.9,1909.9 1100.5,1919.2 1108.2,1928.3 1115.9,1937.2 1123.5,1945.8 1131.2,1954.2" fill="none" stroke="#2020ff" stroke-width="2.0" stroke-linejoin="round"/>
<polyline points="219.7,1518.0 227.3,1502.9 235.0,1487.7 242.7,1472.4 250.3,1457.0 258.0,1441.3 265.6,1425.3 273.3,1409.3 281.0,1393.2 288.6,1377.2 296.3,1361.3 303.9,1345.5 311.6,1329.8 319.3,1314.3 326.9,1299.1 334.6,1284.1 342.2,1269.5 349.9,1255.2 357.5,1241.2 365.2,1227.5 372.9,1214.2 380.5,1201.2 388.2,1188.5 395.8,1176.2 403.5,1164.3 411.2,1152.7 418.8,1141.4 426.5,1130.5 434.1,1120.0 441.8,1109.9 449.5,1100.4 457.1,1091.4 464.8,1082.9 472.4,1075.1 480.1,1068.0 487.8,1061.6 495.4,1056.0 503.1,1051.1 510.7,1046.9 518.4,1043.6 526.1,1041.0 533.7,1039.3 541.4,1038.3 549.0,1038.2 556.7,1038.8 564.4,1040.1 572.0,1042.1 579.7,1044.9 587.3,1048.3 595.0,1052.3 602.7,1057.1 610.3,1062.6 618.0,1068.9 625.6,1075.9 633.3,1083.6 641.0,1092.2 648.6,1101.6 656.3,1111.8 663.9,1122.8 671.6,1134.5 679.3,1147.0 686.9,1160.1 694.6,1173.7 702.2,1188.0 709.9,1202.6 717.6,1217.5 725.2,1232.7 732.9,1248.0 740.5,1263.4 748.2,1278.7 755.9,1294.0 763.5,1309.3 771.2,1324.6 778.8,1339.8 786.5,1354.9 794.1,1369.9 801.8,1384.9 809.5,1399.9 817.1,1414.8 824.8,1429.7 832.4,1444.7 840.1,1459.6 847.8,1474.6 855.4,1489.7 863.1,1504.9 870.7,1520.1 878.4,1535.3 886.1,1550.6 893.7,1566.0 901.4,1581.3 909.0,1596.6 916.7,1611.9 924.4,1627.1 932.0,1642.3 939.7,1657.5 947.3,1672.6 955.0,1687.6 962.7,1702.6 970.3,1717.5 978.0,1732.3 985.6,1746.9 993.3,1761.4 1001.0,1775.8 1008.6,1790.0 1016.3,1804.0 1023.9,1817.7 1031.6,1831.3 1039.3,1844.6 1046.9,1855.9 1054.6,1866.9 1062.2,1877.6 1069.9,1888.0 1077.6,1898.1 1085.2,1908.0 1092.9,1917.6 1100.5,1926.9 1108.2,1936.0 1115.9,1944.9 1123.5,1953.5 1131.2,1961.8" fill="none" stroke="#ff2020" stroke-width="2.0" stroke-linejoin="round"/>
</g>
<rect x="255.3" y="1017.8" width="844.5" height="687.0" fill="none" stroke="#000" stroke-width="5.5"/>
<line x1="240.3" y1="1681.5" x2="255.3" y2="1681.5" stroke="#000" stroke-width="5"/>
<line x1="240.3" y1="1426.5" x2="255.3" y2="1426.5" stroke="#000" stroke-width="5"/>
<line x1="240.3" y1="1171.5" x2="255.3" y2="1171.5" stroke="#000" stroke-width="5"/>
<line x1="246.3" y1="1554.0" x2="255.3" y2="1554.0" stroke="#000" stroke-width="5"/>
<line x1="246.3" y1="1299.0" x2="255.3" y2="1299.0" stroke="#000" stroke-width="5"/>
<line x1="246.3" y1="1044.0" x2="255.3" y2="1044.0" stroke="#000" stroke-width="5"/>
<line x1="356.4" y1="1704.8" x2="356.4" y2="1719.8" stroke="#000" stroke-width="5"/>
<line x1="538.7" y1="1704.8" x2="538.7" y2="1719.8" stroke="#000" stroke-width="5"/>
<line x1="721.0" y1="1704.8" x2="721.0" y2="1719.8" stroke="#000" stroke-width="5"/>
<line x1="903.3" y1="1704.8" x2="903.3" y2="1719.8" stroke="#000" stroke-width="5"/>
<line x1="1085.6" y1="1704.8" x2="1085.6" y2="1719.8" stroke="#000" stroke-width="5"/>
<line x1="265.2" y1="1704.8" x2="265.2" y2="1713.8" stroke="#000" stroke-width="5"/>
<line x1="447.5" y1="1704.8" x2="447.5" y2="1713.8" stroke="#000" stroke-width="5"/>
<line x1="629.9" y1="1704.8" x2="629.9" y2="1713.8" stroke="#000" stroke-width="5"/>
<line x1="812.1" y1="1704.8" x2="812.1" y2="1713.8" stroke="#000" stroke-width="5"/>
<line x1="994.5" y1="1704.8" x2="994.5" y2="1713.8" stroke="#000" stroke-width="5"/>
<text x="176.5" y="1692.5" font-size="41.6" font-weight="700" textLength="54.1" lengthAdjust="spacingAndGlyphs" fill="#000">0.4</text>
<text x="176.5" y="1437.5" font-size="41.6" font-weight="700" textLength="55.3" lengthAdjust="spacingAndGlyphs" fill="#000">0.6</text>
<text x="176.5" y="1182.5" font-size="41.6" font-weight="700" textLength="55.1" lengthAdjust="spacingAndGlyphs" fill="#000">0.8</text>
<text x="323.2" y="1758.3" font-size="38.4" font-weight="700" textLength="67.4" lengthAdjust="spacingAndGlyphs" fill="#000">412</text>
<text x="505.5" y="1758.3" font-size="39.0" font-weight="700" textLength="65.9" lengthAdjust="spacingAndGlyphs" fill="#000">414</text>
<text x="687.8" y="1758.3" font-size="38.4" font-weight="700" textLength="67.2" lengthAdjust="spacingAndGlyphs" fill="#000">416</text>
<text x="870.1" y="1758.3" font-size="38.4" font-weight="700" textLength="66.9" lengthAdjust="spacingAndGlyphs" fill="#000">418</text>
<text x="1052.4" y="1758.3" font-size="38.4" font-weight="700" textLength="67.4" lengthAdjust="spacingAndGlyphs" fill="#000">420</text>
<circle cx="747.6" cy="1306.7" r="54.0" fill="none" stroke="#505050" stroke-width="2"/>
<polygon points="554.7,1477.3 675.8,1376.0 684.8,1386.7 702.1,1343.5 656.5,1353.0 665.5,1363.7 544.5,1465.1" fill="#000"/>
<text x="287.5" y="1144.5" font-size="119.3" font-weight="700" textLength="113.6" lengthAdjust="spacingAndGlyphs" fill="#000">b)</text>
<text x="397.9" y="1561.4" font-size="73.1" font-weight="700" textLength="299.3" lengthAdjust="spacingAndGlyphs" fill="#000">416.5 nm</text>
<text x="304.5" y="1647.1" font-size="65.5" font-weight="700" textLength="481.9" lengthAdjust="spacingAndGlyphs" fill="#000">Isosbestic point</text>
<text transform="translate(124.3,1532.7) rotate(-90)" x="0" y="0" font-size="54.6" font-weight="700" textLength="307.0" lengthAdjust="spacingAndGlyphs" fill="#000">Absorbance</text>
<text x="454.3" y="1824.6" font-size="56.6" font-weight="700" textLength="468.9" lengthAdjust="spacingAndGlyphs" fill="#000">Wavelength / nm</text>
<clipPath id="cc"><rect x="1494.8" y="996.2" width="844.5" height="684.7"/></clipPath>
<g clip-path="url(#cc)">
<polyline points="1471.4,1613.1 1478.9,1604.1 1486.4,1594.8 1493.9,1585.2 1501.5,1575.3 1509.0,1565.1 1516.5,1554.7 1524.0,1544.0 1531.5,1533.1 1539.0,1522.0 1546.6,1510.7 1554.1,1499.1 1561.6,1487.4 1569.1,1475.5 1576.6,1463.4 1584.1,1451.1 1591.7,1438.6 1599.2,1425.8 1606.7,1412.8 1614.2,1399.6 1621.7,1386.2 1629.2,1372.5 1636.8,1358.6 1644.3,1344.4 1651.8,1330.1 1659.3,1315.6 1666.8,1301.2 1674.3,1286.8 1681.8,1272.6 1689.4,1258.5 1696.9,1244.8 1704.4,1231.3 1711.9,1218.3 1719.4,1205.8 1726.9,1193.9 1734.5,1182.6 1742.0,1172.0 1749.5,1162.2 1757.0,1153.2 1764.5,1145.0 1772.0,1137.7 1779.6,1131.3 1787.1,1125.8 1794.6,1121.2 1802.1,1117.4 1809.6,1114.4 1817.1,1112.2 1824.7,1110.8 1832.2,1110.4 1839.7,1110.5 1847.2,1111.1 1854.7,1112.1 1862.2,1113.5 1869.7,1115.4 1877.3,1117.7 1884.8,1120.6 1892.3,1123.9 1899.8,1127.8 1907.3,1132.1 1914.8,1137.0 1922.4,1142.4 1929.9,1148.2 1937.4,1154.5 1944.9,1161.3 1952.4,1168.6 1959.9,1176.3 1967.5,1184.4 1975.0,1193.0 1982.5,1201.9 1990.0,1211.2 1997.5,1220.8 2005.0,1230.6 2012.5,1240.8 2020.1,1251.1 2027.6,1261.7 2035.1,1272.4 2042.6,1283.2 2050.1,1294.2 2057.6,1305.2 2065.2,1316.2 2072.7,1327.3 2080.2,1338.4 2087.7,1349.5 2095.2,1360.5 2102.7,1371.5 2110.3,1382.4 2117.8,1393.3 2125.3,1404.1 2132.8,1414.8 2140.3,1425.3 2147.8,1435.7 2155.4,1445.9 2162.9,1455.9 2170.4,1465.7 2177.9,1475.3 2185.4,1484.7 2192.9,1493.9 2200.4,1502.9 2208.0,1511.7 2215.5,1520.4 2223.0,1529.0 2230.5,1537.4 2238.0,1545.7 2245.5,1553.8 2253.1,1561.9 2260.6,1570.0 2268.1,1577.9 2275.6,1585.8 2283.1,1593.6 2290.6,1601.4 2298.2,1609.2 2305.7,1616.9 2313.2,1624.7 2320.7,1632.4 2328.2,1640.0 2335.7,1647.5 2343.3,1654.8 2350.8,1661.9 2358.3,1668.9 2365.8,1675.7" fill="none" stroke="#00a0a0" stroke-width="2.0" stroke-linejoin="round"/>
<polyline points="1471.4,1600.3 1478.9,1590.4 1486.4,1580.1 1493.9,1569.6 1501.5,1558.8 1509.0,1547.8 1516.5,1536.4 1524.0,1524.7 1531.5,1512.8 1539.0,1500.7 1546.6,1488.2 1554.1,1475.6 1561.6,1462.7 1569.1,1449.6 1576.6,1436.2 1584.1,1422.7 1591.7,1408.9 1599.2,1395.0 1606.7,1380.9 1614.2,1366.7 1621.7,1352.3 1629.2,1337.8 1636.8,1323.2 1644.3,1308.5 1651.8,1293.8 1659.3,1279.0 1666.8,1264.3 1674.3,1249.8 1681.8,1235.4 1689.4,1221.3 1696.9,1207.4 1704.4,1194.0 1711.9,1180.9 1719.4,1168.4 1726.9,1156.5 1734.5,1145.2 1742.0,1134.7 1749.5,1124.9 1757.0,1116.0 1764.5,1108.0 1772.0,1100.9 1779.6,1094.7 1787.1,1089.5 1794.6,1085.2 1802.1,1081.8 1809.6,1079.3 1817.1,1077.6 1824.7,1076.8 1832.2,1076.8 1839.7,1077.4 1847.2,1078.5 1854.7,1080.1 1862.2,1082.2 1869.7,1084.9 1877.3,1088.0 1884.8,1091.8 1892.3,1096.1 1899.8,1101.0 1907.3,1106.5 1914.8,1112.6 1922.4,1119.4 1929.9,1126.7 1937.4,1134.7 1944.9,1143.2 1952.4,1152.3 1959.9,1162.0 1967.5,1172.1 1975.0,1182.6 1982.5,1193.5 1990.0,1204.6 1997.5,1215.9 2005.0,1227.4 2012.5,1239.1 2020.1,1251.0 2027.6,1263.0 2035.1,1275.0 2042.6,1287.1 2050.1,1299.3 2057.6,1311.5 2065.2,1323.6 2072.7,1335.7 2080.2,1347.8 2087.7,1359.8 2095.2,1371.7 2102.7,1383.5 2110.3,1395.2 2117.8,1406.7 2125.3,1418.2 2132.8,1429.5 2140.3,1440.7 2147.8,1451.7 2155.4,1462.6 2162.9,1473.2 2170.4,1483.7 2177.9,1493.9 2185.4,1504.0 2192.9,1513.9 2200.4,1523.7 2208.0,1533.4 2215.5,1542.9 2223.0,1552.4 2230.5,1561.8 2238.0,1571.1 2245.5,1580.3 2253.1,1589.4 2260.6,1598.4 2268.1,1607.2 2275.6,1615.9 2283.1,1624.5 2290.6,1633.0 2298.2,1641.4 2305.7,1649.6 2313.2,1657.8 2320.7,1665.9 2328.2,1673.8 2335.7,1681.5 2343.3,1689.0 2350.8,1696.4 2358.3,1703.2 2365.8,1709.7" fill="none" stroke="#2020ff" stroke-width="2.0" stroke-linejoin="round"/>
<polyline points="1471.4,1585.9 1478.9,1575.0 1486.4,1563.7 1493.9,1552.1 1501.5,1540.3 1509.0,1528.2 1516.5,1515.8 1524.0,1503.1 1531.5,1490.0 1539.0,1476.7 1546.6,1463.0 1554.1,1449.1 1561.6,1434.8 1569.1,1420.4 1576.6,1405.6 1584.1,1390.7 1591.7,1375.6 1599.2,1360.4 1606.7,1345.1 1614.2,1329.7 1621.7,1314.2 1629.2,1298.8 1636.8,1283.4 1644.3,1268.1 1651.8,1252.9 1659.3,1237.8 1666.8,1222.9 1674.3,1208.1 1681.8,1193.6 1689.4,1179.4 1696.9,1165.5 1704.4,1151.9 1711.9,1138.8 1719.4,1126.3 1726.9,1114.3 1734.5,1103.1 1742.0,1092.6 1749.5,1082.9 1757.0,1074.2 1764.5,1066.3 1772.0,1059.5 1779.6,1053.6 1787.1,1048.7 1794.6,1044.8 1802.1,1041.8 1809.6,1039.8 1817.1,1038.8 1824.7,1038.5 1832.2,1039.0 1839.7,1040.1 1847.2,1041.9 1854.7,1044.2 1862.2,1047.0 1869.7,1050.5 1877.3,1054.6 1884.8,1059.4 1892.3,1064.8 1899.8,1070.9 1907.3,1077.7 1914.8,1085.2 1922.4,1093.5 1929.9,1102.6 1937.4,1112.4 1944.9,1122.9 1952.4,1134.1 1959.9,1145.9 1967.5,1158.2 1975.0,1170.9 1982.5,1184.0 1990.0,1197.2 1997.5,1210.5 2005.0,1223.9 2012.5,1237.3 2020.1,1250.9 2027.6,1264.4 2035.1,1278.0 2042.6,1291.6 2050.1,1305.1 2057.6,1318.6 2065.2,1331.9 2072.7,1345.2 2080.2,1358.3 2087.7,1371.3 2095.2,1384.2 2102.7,1396.9 2110.3,1409.5 2117.8,1421.8 2125.3,1434.1 2132.8,1446.2 2140.3,1458.1 2147.8,1469.8 2155.4,1481.3 2162.9,1492.7 2170.4,1503.9 2177.9,1514.9 2185.4,1525.7 2192.9,1536.5 2200.4,1547.1 2208.0,1557.7 2215.5,1568.3 2223.0,1578.8 2230.5,1589.3 2238.0,1599.8 2245.5,1610.1 2253.1,1620.3 2260.6,1630.3 2268.1,1640.2 2275.6,1649.9 2283.1,1659.3 2290.6,1668.6 2298.2,1677.6 2305.7,1686.4 2313.2,1695.1 2320.7,1703.5 2328.2,1711.7 2335.7,1719.7 2343.3,1727.5 2350.8,1735.1 2358.3,1741.8 2365.8,1748.1" fill="none" stroke="#ff2020" stroke-width="2.0" stroke-linejoin="round"/>
<polyline points="1471.4,1573.2 1478.9,1561.3 1486.4,1549.1 1493.9,1536.5 1501.5,1523.8 1509.0,1510.8 1516.5,1497.5 1524.0,1483.8 1531.5,1469.7 1539.0,1455.3 1546.6,1440.6 1554.1,1425.5 1561.6,1410.1 1569.1,1394.4 1576.6,1378.5 1584.1,1362.3 1591.7,1346.0 1599.2,1329.6 1606.7,1313.2 1614.2,1296.7 1621.7,1280.4 1629.2,1264.1 1636.8,1248.0 1644.3,1232.2 1651.8,1216.6 1659.3,1201.2 1666.8,1186.0 1674.3,1171.1 1681.8,1156.4 1689.4,1142.1 1696.9,1128.1 1704.4,1114.6 1711.9,1101.4 1719.4,1088.9 1726.9,1076.9 1734.5,1065.7 1742.0,1055.2 1749.5,1045.6 1757.0,1037.0 1764.5,1029.3 1772.0,1022.7 1779.6,1017.0 1787.1,1012.4 1794.6,1008.8 1802.1,1006.3 1809.6,1004.8 1817.1,1004.2 1824.7,1004.5 1832.2,1005.4 1839.7,1007.0 1847.2,1009.3 1854.7,1012.2 1862.2,1015.8 1869.7,1020.0 1877.3,1025.0 1884.8,1030.6 1892.3,1037.0 1899.8,1044.2 1907.3,1052.1 1914.8,1060.9 1922.4,1070.6 1929.9,1081.1 1937.4,1092.5 1944.9,1104.8 1952.4,1117.8 1959.9,1131.5 1967.5,1145.9 1975.0,1160.6 1982.5,1175.5 1990.0,1190.6 1997.5,1205.6 2005.0,1220.7 2012.5,1235.7 2020.1,1250.7 2027.6,1265.7 2035.1,1280.7 2042.6,1295.5 2050.1,1310.3 2057.6,1324.9 2065.2,1339.3 2072.7,1353.6 2080.2,1367.7 2087.7,1381.6 2095.2,1395.3 2102.7,1408.9 2110.3,1422.2 2117.8,1435.3 2125.3,1448.2 2132.8,1460.9 2140.3,1473.5 2147.8,1485.8 2155.4,1498.0 2162.9,1510.0 2170.4,1521.8 2177.9,1533.5 2185.4,1545.0 2192.9,1556.5 2200.4,1568.0 2208.0,1579.4 2215.5,1590.8 2223.0,1602.3 2230.5,1613.8 2238.0,1625.2 2245.5,1636.6 2253.1,1647.7 2260.6,1658.8 2268.1,1669.5 2275.6,1680.0 2283.1,1690.3 2290.6,1700.2 2298.2,1709.8 2305.7,1719.1 2313.2,1728.2 2320.7,1737.0 2328.2,1745.5 2335.7,1753.8 2343.3,1761.8 2350.8,1769.6 2358.3,1776.1 2365.8,1782.1" fill="none" stroke="#202020" stroke-width="2.0" stroke-linejoin="round"/>
</g>
<rect x="1494.8" y="996.2" width="844.5" height="684.7" fill="none" stroke="#000" stroke-width="5.5"/>
<line x1="1479.8" y1="1495.2" x2="1494.8" y2="1495.2" stroke="#000" stroke-width="5"/>
<line x1="1479.8" y1="1283.3" x2="1494.8" y2="1283.3" stroke="#000" stroke-width="5"/>
<line x1="1479.8" y1="1071.4" x2="1494.8" y2="1071.4" stroke="#000" stroke-width="5"/>
<line x1="1485.8" y1="1601.2" x2="1494.8" y2="1601.2" stroke="#000" stroke-width="5"/>
<line x1="1485.8" y1="1389.3" x2="1494.8" y2="1389.3" stroke="#000" stroke-width="5"/>
<line x1="1485.8" y1="1177.4" x2="1494.8" y2="1177.4" stroke="#000" stroke-width="5"/>
<line x1="1540.2" y1="1680.9" x2="1540.2" y2="1695.9" stroke="#000" stroke-width="5"/>
<line x1="1884.2" y1="1680.9" x2="1884.2" y2="1695.9" stroke="#000" stroke-width="5"/>
<line x1="2228.2" y1="1680.9" x2="2228.2" y2="1695.9" stroke="#000" stroke-width="5"/>
<line x1="1712.2" y1="1680.9" x2="1712.2" y2="1689.9" stroke="#000" stroke-width="5"/>
<line x1="2056.2" y1="1680.9" x2="2056.2" y2="1689.9" stroke="#000" stroke-width="5"/>
<text x="1415.7" y="1505.7" font-size="40.3" font-weight="700" textLength="54.0" lengthAdjust="spacingAndGlyphs" fill="#000">0.4</text>
<text x="1415.7" y="1293.8" font-size="40.3" font-weight="700" textLength="55.2" lengthAdjust="spacingAndGlyphs" fill="#000">0.6</text>
<text x="1415.7" y="1081.9" font-size="40.3" font-weight="700" textLength="55.0" lengthAdjust="spacingAndGlyphs" fill="#000">0.8</text>
<text x="1507.5" y="1733.3" font-size="36.1" font-weight="700" textLength="66.3" lengthAdjust="spacingAndGlyphs" fill="#000">410</text>
<text x="1851.5" y="1733.3" font-size="36.7" font-weight="700" textLength="65.8" lengthAdjust="spacingAndGlyphs" fill="#000">415</text>
<text x="2195.5" y="1733.3" font-size="36.1" font-weight="700" textLength="66.3" lengthAdjust="spacingAndGlyphs" fill="#000">420</text>
<circle cx="2012.7" cy="1235.1" r="50.0" fill="none" stroke="#505050" stroke-width="2"/>
<polygon points="1760.6,1421.7 1899.1,1318.1 1907.5,1329.3 1927.1,1287.1 1881.1,1294.1 1889.5,1305.3 1751.0,1408.9" fill="#000"/>
<text x="1524.2" y="1128.5" font-size="120.3" font-weight="700" textLength="108.1" lengthAdjust="spacingAndGlyphs" fill="#000">c)</text>
<text x="1653.5" y="1509.5" font-size="71.3" font-weight="700" textLength="297.5" lengthAdjust="spacingAndGlyphs" fill="#000">416.9 nm</text>
<text x="1594.6" y="1609.2" font-size="64.8" font-weight="700" textLength="481.2" lengthAdjust="spacingAndGlyphs" fill="#000">Isosbestic point</text>
<text transform="translate(1364.2,1511.3) rotate(-90)" x="0" y="0" font-size="56.8" font-weight="700" textLength="309.3" lengthAdjust="spacingAndGlyphs" fill="#000">Absorbance</text>
<text x="1704.2" y="1818.0" font-size="57.5" font-weight="700" textLength="472.6" lengthAdjust="spacingAndGlyphs" fill="#000">Wavelength / nm</text>
<clipPath id="cd"><rect x="236.5" y="1887.0" width="845.8" height="686.0"/></clipPath>
<g clip-path="url(#cd)">
<polyline points="204.3,2624.2 211.9,2612.6 219.5,2600.9 227.1,2589.1 234.7,2577.0 242.2,2565.9 249.8,2555.0 257.4,2543.9 265.0,2532.5 272.6,2521.0 280.2,2509.3 287.8,2497.3 295.4,2485.1 302.9,2472.6 310.5,2459.9 318.1,2446.9 325.7,2433.6 333.3,2420.0 340.9,2406.3 348.5,2392.3 356.1,2378.2 363.6,2364.0 371.2,2349.7 378.8,2335.4 386.4,2321.0 394.0,2306.7 401.6,2292.4 409.2,2278.3 416.8,2264.2 424.3,2250.4 431.9,2236.7 439.5,2223.3 447.1,2210.3 454.7,2197.6 462.3,2185.3 469.9,2173.5 477.5,2162.1 485.0,2151.3 492.6,2141.1 500.2,2131.5 507.8,2122.5 515.4,2114.1 523.0,2106.3 530.6,2099.1 538.2,2092.3 545.7,2086.1 553.3,2080.3 560.9,2074.9 568.5,2069.9 576.1,2065.3 583.7,2061.0 591.3,2057.1 598.9,2053.4 606.4,2050.1 614.0,2047.1 621.6,2044.5 629.2,2042.3 636.8,2040.6 644.4,2039.3 652.0,2038.4 659.6,2037.9 667.1,2037.6 674.7,2037.6 682.3,2037.8 689.9,2038.3 697.5,2039.0 705.1,2040.1 712.7,2041.5 720.3,2043.3 727.8,2045.5 735.4,2048.0 743.0,2051.0 750.6,2054.4 758.2,2058.2 765.8,2062.4 773.4,2067.0 781.0,2071.9 788.5,2077.1 796.1,2082.6 803.7,2088.4 811.3,2094.5 818.9,2100.8 826.5,2107.3 834.1,2114.1 841.7,2121.0 849.2,2128.2 856.8,2135.5 864.4,2143.1 872.0,2150.8 879.6,2158.8 887.2,2166.9 894.8,2175.1 902.4,2183.6 909.9,2192.2 917.5,2201.0 925.1,2210.0 932.7,2219.1 940.3,2228.4 947.9,2237.8 955.5,2247.4 963.1,2257.1 970.6,2266.9 978.2,2276.8 985.8,2286.9 993.4,2297.0 1001.0,2307.3 1008.6,2317.6 1016.2,2328.0 1023.8,2338.5 1031.3,2349.1 1038.9,2359.7 1046.5,2370.4 1054.1,2381.1 1061.7,2391.8 1069.3,2402.6 1076.9,2413.4 1084.5,2424.3 1092.0,2435.0 1099.6,2445.7 1107.2,2456.5" fill="none" stroke="#a0a020" stroke-width="2.0" stroke-linejoin="round"/>
<polyline points="204.3,2620.0 211.9,2608.3 219.5,2596.4 227.1,2584.4 234.7,2572.2 242.2,2560.8 249.8,2549.6 257.4,2538.2 265.0,2526.6 272.6,2514.8 280.2,2502.7 287.8,2490.5 295.4,2478.0 302.9,2465.3 310.5,2452.4 318.1,2439.2 325.7,2425.8 333.3,2412.1 340.9,2398.3 348.5,2384.3 356.1,2370.2 363.6,2355.9 371.2,2341.6 378.8,2327.3 386.4,2313.0 394.0,2298.7 401.6,2284.5 409.2,2270.3 416.8,2256.4 424.3,2242.5 431.9,2229.0 439.5,2215.6 447.1,2202.6 454.7,2190.0 462.3,2177.7 469.9,2165.9 477.5,2154.6 485.0,2143.9 492.6,2133.6 500.2,2124.1 507.8,2115.1 515.4,2106.7 523.0,2098.9 530.6,2091.7 538.2,2085.0 545.7,2078.8 553.3,2073.0 560.9,2067.7 568.5,2062.9 576.1,2058.4 583.7,2054.3 591.3,2050.5 598.9,2047.1 606.4,2044.1 614.0,2041.4 621.6,2039.2 629.2,2037.3 636.8,2035.9 644.4,2034.9 652.0,2034.3 659.6,2034.1 667.1,2034.1 674.7,2034.4 682.3,2034.9 689.9,2035.8 697.5,2036.9 705.1,2038.3 712.7,2040.1 720.3,2042.2 727.8,2044.7 735.4,2047.6 743.0,2051.0 750.6,2054.7 758.2,2058.8 765.8,2063.3 773.4,2068.1 781.0,2073.3 788.5,2078.8 796.1,2084.6 803.7,2090.7 811.3,2097.1 818.9,2103.7 826.5,2110.5 834.1,2117.6 841.7,2124.9 849.2,2132.4 856.8,2140.0 864.4,2147.9 872.0,2156.0 879.6,2164.3 887.2,2172.7 894.8,2181.3 902.4,2190.1 909.9,2199.0 917.5,2208.1 925.1,2217.3 932.7,2226.7 940.3,2236.2 947.9,2245.8 955.5,2255.6 963.1,2265.4 970.6,2275.4 978.2,2285.4 985.8,2295.6 993.4,2305.8 1001.0,2316.2 1008.6,2326.6 1016.2,2337.0 1023.8,2347.5 1031.3,2358.1 1038.9,2368.7 1046.5,2379.3 1054.1,2390.0 1061.7,2400.7 1069.3,2411.4 1076.9,2422.1 1084.5,2432.8 1092.0,2443.5 1099.6,2454.2 1107.2,2464.9" fill="none" stroke="#ff20ff" stroke-width="2.0" stroke-linejoin="round"/>
<polyline points="204.3,2616.1 211.9,2604.3 219.5,2592.3 227.1,2580.2 234.7,2567.9 242.2,2556.2 249.8,2544.7 257.4,2533.0 265.0,2521.1 272.6,2509.0 280.2,2496.7 287.8,2484.3 295.4,2471.6 302.9,2458.7 310.5,2445.5 318.1,2432.2 325.7,2418.6 333.3,2404.9 340.9,2391.0 348.5,2376.9 356.1,2362.8 363.6,2348.5 371.2,2334.2 378.8,2319.9 386.4,2305.6 394.0,2291.4 401.6,2277.2 409.2,2263.1 416.8,2249.1 424.3,2235.4 431.9,2221.8 439.5,2208.6 447.1,2195.6 454.7,2183.0 462.3,2170.8 469.9,2159.1 477.5,2147.8 485.0,2137.0 492.6,2126.8 500.2,2117.3 507.8,2108.3 515.4,2099.9 523.0,2092.2 530.6,2084.9 538.2,2078.2 545.7,2072.1 553.3,2066.4 560.9,2061.2 568.5,2056.4 576.1,2052.1 583.7,2048.1 591.3,2044.6 598.9,2041.4 606.4,2038.6 614.0,2036.2 621.6,2034.3 629.2,2032.7 636.8,2031.6 644.4,2030.9 652.0,2030.6 659.6,2030.6 667.1,2030.9 674.7,2031.5 682.3,2032.3 689.9,2033.5 697.5,2034.9 705.1,2036.7 712.7,2038.8 720.3,2041.2 727.8,2044.1 735.4,2047.3 743.0,2050.9 750.6,2054.9 758.2,2059.3 765.8,2064.0 773.4,2069.2 781.0,2074.6 788.5,2080.4 796.1,2086.4 803.7,2092.8 811.3,2099.4 818.9,2106.3 826.5,2113.5 834.1,2120.8 841.7,2128.4 849.2,2136.2 856.8,2144.2 864.4,2152.4 872.0,2160.7 879.6,2169.3 887.2,2178.0 894.8,2186.9 902.4,2196.0 909.9,2205.2 917.5,2214.5 925.1,2224.0 932.7,2233.6 940.3,2243.3 947.9,2253.1 955.5,2263.0 963.1,2273.1 970.6,2283.2 978.2,2293.4 985.8,2303.6 993.4,2313.9 1001.0,2324.3 1008.6,2334.8 1016.2,2345.3 1023.8,2355.8 1031.3,2366.3 1038.9,2376.9 1046.5,2387.5 1054.1,2398.2 1061.7,2408.8 1069.3,2419.4 1076.9,2430.1 1084.5,2440.7 1092.0,2451.4 1099.6,2462.0 1107.2,2472.6" fill="none" stroke="#00a0a0" stroke-width="2.0" stroke-linejoin="round"/>
<polyline points="204.3,2607.0 211.9,2594.9 219.5,2582.6 227.1,2570.2 234.7,2557.5 242.2,2545.3 249.8,2533.1 257.4,2520.7 265.0,2508.1 272.6,2495.4 280.2,2482.5 287.8,2469.5 295.4,2456.3 302.9,2442.9 310.5,2429.3 318.1,2415.6 325.7,2401.8 333.3,2387.8 340.9,2373.7 348.5,2359.5 356.1,2345.3 363.6,2331.0 371.2,2316.7 378.8,2302.4 386.4,2288.2 394.0,2274.0 401.6,2259.9 409.2,2245.9 416.8,2232.1 424.3,2218.5 431.9,2205.0 439.5,2191.9 447.1,2179.1 454.7,2166.6 462.3,2154.5 469.9,2142.8 477.5,2131.6 485.0,2120.9 492.6,2110.8 500.2,2101.2 507.8,2092.3 515.4,2083.9 523.0,2076.2 530.6,2069.0 538.2,2062.3 545.7,2056.2 553.3,2050.7 560.9,2045.6 568.5,2041.1 576.1,2037.1 583.7,2033.5 591.3,2030.4 598.9,2027.8 606.4,2025.6 614.0,2023.9 621.6,2022.7 629.2,2021.9 636.8,2021.4 644.4,2021.4 652.0,2021.7 659.6,2022.4 667.1,2023.3 674.7,2024.6 682.3,2026.2 689.9,2028.0 697.5,2030.2 705.1,2032.8 712.7,2035.6 720.3,2038.9 727.8,2042.4 735.4,2046.4 743.0,2050.7 750.6,2055.4 758.2,2060.5 765.8,2065.9 773.4,2071.6 781.0,2077.7 788.5,2084.1 796.1,2090.8 803.7,2097.8 811.3,2105.0 818.9,2112.6 826.5,2120.4 834.1,2128.4 841.7,2136.7 849.2,2145.2 856.8,2153.9 864.4,2162.9 872.0,2171.9 879.6,2181.2 887.2,2190.6 894.8,2200.2 902.4,2209.9 909.9,2219.8 917.5,2229.7 925.1,2239.8 932.7,2249.9 940.3,2260.1 947.9,2270.4 955.5,2280.8 963.1,2291.1 970.6,2301.6 978.2,2312.0 985.8,2322.5 993.4,2333.1 1001.0,2343.6 1008.6,2354.2 1016.2,2364.7 1023.8,2375.3 1031.3,2385.9 1038.9,2396.4 1046.5,2407.0 1054.1,2417.5 1061.7,2428.0 1069.3,2438.5 1076.9,2448.9 1084.5,2459.3 1092.0,2469.8 1099.6,2480.3 1107.2,2490.7" fill="none" stroke="#2020ff" stroke-width="2.0" stroke-linejoin="round"/>
<polyline points="204.3,2598.2 211.9,2585.8 219.5,2573.3 227.1,2560.5 234.7,2547.6 242.2,2534.8 249.8,2521.9 257.4,2508.9 265.0,2495.7 272.6,2482.3 280.2,2468.9 287.8,2455.3 295.4,2441.5 302.9,2427.7 310.5,2413.7 318.1,2399.7 325.7,2385.5 333.3,2371.3 340.9,2357.1 348.5,2342.8 356.1,2328.5 363.6,2314.2 371.2,2299.9 378.8,2285.6 386.4,2271.4 394.0,2257.3 401.6,2243.3 409.2,2229.5 416.8,2215.7 424.3,2202.2 431.9,2188.9 439.5,2175.8 447.1,2163.1 454.7,2150.7 462.3,2138.7 469.9,2127.1 477.5,2116.0 485.0,2105.4 492.6,2095.3 500.2,2085.8 507.8,2076.9 515.4,2068.5 523.0,2060.8 530.6,2053.6 538.2,2047.0 545.7,2041.0 553.3,2035.6 560.9,2030.7 568.5,2026.4 576.1,2022.7 583.7,2019.5 591.3,2016.8 598.9,2014.7 606.4,2013.2 614.0,2012.1 621.6,2011.6 629.2,2011.4 636.8,2011.6 644.4,2012.2 652.0,2013.1 659.6,2014.4 667.1,2016.1 674.7,2018.0 682.3,2020.2 689.9,2022.8 697.5,2025.8 705.1,2029.0 712.7,2032.6 720.3,2036.6 727.8,2040.9 735.4,2045.6 743.0,2050.6 750.6,2055.9 758.2,2061.6 765.8,2067.6 773.4,2074.0 781.0,2080.7 788.5,2087.6 796.1,2094.9 803.7,2102.5 811.3,2110.4 818.9,2118.6 826.5,2127.1 834.1,2135.8 841.7,2144.7 849.2,2153.9 856.8,2163.3 864.4,2172.9 872.0,2182.7 879.6,2192.7 887.2,2202.8 894.8,2213.0 902.4,2223.4 909.9,2233.8 917.5,2244.4 925.1,2255.0 932.7,2265.6 940.3,2276.3 947.9,2287.1 955.5,2297.8 963.1,2308.5 970.6,2319.3 978.2,2330.0 985.8,2340.7 993.4,2351.5 1001.0,2362.1 1008.6,2372.8 1016.2,2383.5 1023.8,2394.1 1031.3,2404.6 1038.9,2415.2 1046.5,2425.6 1054.1,2436.1 1061.7,2446.4 1069.3,2456.8 1076.9,2467.0 1084.5,2477.2 1092.0,2487.6 1099.6,2498.0 1107.2,2508.2" fill="none" stroke="#ff2020" stroke-width="2.0" stroke-linejoin="round"/>
<polyline points="204.3,2589.1 211.9,2576.4 219.5,2563.5 227.1,2550.5 234.7,2537.3 242.2,2523.8 249.8,2510.3 257.4,2496.6 265.0,2482.7 272.6,2468.8 280.2,2454.7 287.8,2440.5 295.4,2426.2 302.9,2411.9 310.5,2397.5 318.1,2383.1 325.7,2368.7 333.3,2354.2 340.9,2339.8 348.5,2325.4 356.1,2311.0 363.6,2296.7 371.2,2282.4 378.8,2268.1 386.4,2254.0 394.0,2240.0 401.6,2226.1 409.2,2212.3 416.8,2198.7 424.3,2185.3 431.9,2172.1 439.5,2159.2 447.1,2146.5 454.7,2134.3 462.3,2122.4 469.9,2110.9 477.5,2099.8 485.0,2089.3 492.6,2079.2 500.2,2069.8 507.8,2060.8 515.4,2052.5 523.0,2044.8 530.6,2037.6 538.2,2031.1 545.7,2025.2 553.3,2019.9 560.9,2015.2 568.5,2011.1 576.1,2007.7 583.7,2004.9 591.3,2002.7 598.9,2001.1 606.4,2000.2 614.0,1999.9 621.6,2000.0 629.2,2000.6 636.8,2001.5 644.4,2002.7 652.0,2004.3 659.6,2006.2 667.1,2008.5 674.7,2011.1 682.3,2014.1 689.9,2017.4 697.5,2021.1 705.1,2025.1 712.7,2029.5 720.3,2034.2 727.8,2039.3 735.4,2044.7 743.0,2050.4 750.6,2056.4 758.2,2062.8 765.8,2069.5 773.4,2076.4 781.0,2083.7 788.5,2091.4 796.1,2099.3 803.7,2107.5 811.3,2116.0 818.9,2124.9 826.5,2134.0 834.1,2143.4 841.7,2153.1 849.2,2163.0 856.8,2173.1 864.4,2183.4 872.0,2193.9 879.6,2204.6 887.2,2215.4 894.8,2226.3 902.4,2237.3 909.9,2248.4 917.5,2259.6 925.1,2270.8 932.7,2282.0 940.3,2293.2 947.9,2304.3 955.5,2315.5 963.1,2326.6 970.6,2337.7 978.2,2348.7 985.8,2359.7 993.4,2370.6 1001.0,2381.4 1008.6,2392.2 1016.2,2402.9 1023.8,2413.6 1031.3,2424.2 1038.9,2434.6 1046.5,2445.1 1054.1,2455.4 1061.7,2465.6 1069.3,2475.8 1076.9,2485.9 1084.5,2495.8 1092.0,2506.1 1099.6,2516.3 1107.2,2526.4" fill="none" stroke="#202020" stroke-width="2.0" stroke-linejoin="round"/>
</g>
<rect x="236.5" y="1887.0" width="845.8" height="686.0" fill="none" stroke="#000" stroke-width="5.5"/>
<line x1="221.5" y1="2566.2" x2="236.5" y2="2566.2" stroke="#000" stroke-width="5"/>
<line x1="221.5" y1="2394.5" x2="236.5" y2="2394.5" stroke="#000" stroke-width="5"/>
<line x1="221.5" y1="2222.8" x2="236.5" y2="2222.8" stroke="#000" stroke-width="5"/>
<line x1="221.5" y1="2051.1" x2="236.5" y2="2051.1" stroke="#000" stroke-width="5"/>
<line x1="227.5" y1="2480.3" x2="236.5" y2="2480.3" stroke="#000" stroke-width="5"/>
<line x1="227.5" y1="2308.6" x2="236.5" y2="2308.6" stroke="#000" stroke-width="5"/>
<line x1="227.5" y1="2136.9" x2="236.5" y2="2136.9" stroke="#000" stroke-width="5"/>
<line x1="227.5" y1="1965.2" x2="236.5" y2="1965.2" stroke="#000" stroke-width="5"/>
<line x1="562.6" y1="2573.0" x2="562.6" y2="2588.0" stroke="#000" stroke-width="5"/>
<line x1="920.9" y1="2573.0" x2="920.9" y2="2588.0" stroke="#000" stroke-width="5"/>
<line x1="383.5" y1="2573.0" x2="383.5" y2="2582.0" stroke="#000" stroke-width="5"/>
<line x1="741.8" y1="2573.0" x2="741.8" y2="2582.0" stroke="#000" stroke-width="5"/>
<text x="157.2" y="2575.8" font-size="39.4" font-weight="700" textLength="56.9" lengthAdjust="spacingAndGlyphs" fill="#000">0.3</text>
<text x="157.2" y="2404.1" font-size="39.4" font-weight="700" textLength="55.6" lengthAdjust="spacingAndGlyphs" fill="#000">0.4</text>
<text x="157.2" y="2232.4" font-size="39.4" font-weight="700" textLength="56.6" lengthAdjust="spacingAndGlyphs" fill="#000">0.5</text>
<text x="157.2" y="2060.7" font-size="39.4" font-weight="700" textLength="56.9" lengthAdjust="spacingAndGlyphs" fill="#000">0.6</text>
<text x="529.7" y="2627.4" font-size="36.7" font-weight="700" textLength="66.2" lengthAdjust="spacingAndGlyphs" fill="#000">415</text>
<text x="888.0" y="2627.4" font-size="36.1" font-weight="700" textLength="66.7" lengthAdjust="spacingAndGlyphs" fill="#000">420</text>
<circle cx="723.2" cy="2060.2" r="53.0" fill="none" stroke="#505050" stroke-width="2"/>
<polygon points="669.0,2348.4 707.1,2181.7 720.7,2184.8 708.4,2139.9 677.8,2175.0 691.5,2178.1 653.4,2344.8" fill="#000"/>
<text x="263.6" y="2020.5" font-size="128.6" font-weight="700" textLength="114.1" lengthAdjust="spacingAndGlyphs" fill="#000">d)</text>
<text x="517.7" y="2468.1" font-size="69.2" font-weight="700" textLength="297.5" lengthAdjust="spacingAndGlyphs" fill="#000">417.3 nm</text>
<text x="428.9" y="2531.0" font-size="62.5" font-weight="700" textLength="480.7" lengthAdjust="spacingAndGlyphs" fill="#000">Isosbestic point</text>
<text transform="translate(105.8,2403.1) rotate(-90)" x="0" y="0" font-size="55.0" font-weight="700" textLength="309.3" lengthAdjust="spacingAndGlyphs" fill="#000">Absorbance</text>
<text x="461.5" y="2720.9" font-size="57.7" font-weight="700" textLength="471.8" lengthAdjust="spacingAndGlyphs" fill="#000">Wavelength / nm</text>
<clipPath id="ce"><rect x="1495.0" y="1869.8" width="844.3" height="683.1"/></clipPath>
<g clip-path="url(#ce)">
<polyline points="1466.6,2572.6 1474.3,2556.3 1481.9,2540.2 1489.5,2524.1 1497.2,2508.1 1504.8,2492.3 1512.4,2476.5 1520.1,2460.9 1527.7,2445.3 1535.3,2429.9 1543.0,2414.6 1550.6,2399.4 1558.2,2384.4 1565.9,2369.5 1573.5,2354.7 1581.1,2340.1 1588.8,2325.7 1596.4,2311.4 1604.0,2297.3 1611.7,2283.4 1619.3,2269.7 1626.9,2256.1 1634.6,2242.7 1642.2,2229.4 1649.8,2216.4 1657.5,2203.5 1665.1,2190.8 1672.7,2178.3 1680.4,2165.9 1688.0,2153.8 1695.6,2141.9 1703.3,2130.3 1710.9,2118.9 1718.6,2107.8 1726.2,2097.0 1733.8,2086.6 1741.5,2076.4 1749.1,2066.6 1756.7,2057.1 1764.4,2048.0 1772.0,2039.3 1779.6,2031.0 1787.3,2023.1 1794.9,2015.6 1802.5,2008.5 1810.2,2001.8 1817.8,1995.5 1825.4,1989.6 1833.1,1984.1 1840.7,1979.1 1848.3,1974.4 1856.0,1970.2 1863.6,1966.3 1871.2,1962.8 1878.9,1959.6 1886.5,1956.8 1894.1,1954.3 1901.8,1952.2 1909.4,1950.4 1917.0,1948.8 1924.7,1947.7 1932.3,1946.8 1939.9,1946.4 1947.6,1946.2 1955.2,1946.4 1962.8,1946.9 1970.5,1947.7 1978.1,1948.8 1985.8,1950.2 1993.4,1951.9 2001.0,1954.0 2008.7,1956.3 2016.3,1959.0 2023.9,1962.0 2031.6,1965.3 2039.2,1969.0 2046.8,1972.9 2054.5,1977.2 2062.1,1981.7 2069.7,1986.7 2077.4,1991.9 2085.0,1997.4 2092.6,2003.3 2100.3,2009.4 2107.9,2015.9 2115.5,2022.7 2123.2,2029.8 2130.8,2037.2 2138.4,2044.9 2146.1,2052.9 2153.7,2061.2 2161.3,2069.7 2169.0,2078.6 2176.6,2087.8 2184.2,2097.2 2191.9,2106.9 2199.5,2116.9 2207.1,2127.2 2214.8,2137.7 2222.4,2148.4 2230.0,2159.4 2237.7,2170.5 2245.3,2181.9 2253.0,2193.3 2260.6,2205.0 2268.2,2216.7 2275.9,2228.6 2283.5,2240.5 2291.1,2252.7 2298.8,2264.9 2306.4,2277.3 2314.0,2289.8 2321.7,2302.5 2329.3,2315.3 2336.9,2328.2 2344.6,2341.5 2352.2,2355.1 2359.8,2368.7 2367.5,2382.5 2375.1,2396.4" fill="none" stroke="#2020ff" stroke-width="2.0" stroke-linejoin="round"/>
<polyline points="1466.6,2554.8 1474.3,2538.6 1481.9,2522.5 1489.5,2506.6 1497.2,2490.7 1504.8,2475.0 1512.4,2459.4 1520.1,2443.9 1527.7,2428.5 1535.3,2413.2 1543.0,2398.1 1550.6,2383.1 1558.2,2368.3 1565.9,2353.6 1573.5,2339.0 1581.1,2324.7 1588.8,2310.4 1596.4,2296.4 1604.0,2282.6 1611.7,2268.9 1619.3,2255.4 1626.9,2242.1 1634.6,2229.1 1642.2,2216.2 1649.8,2203.5 1657.5,2191.0 1665.1,2178.8 1672.7,2166.8 1680.4,2155.0 1688.0,2143.5 1695.6,2132.2 1703.3,2121.2 1710.9,2110.5 1718.6,2100.1 1726.2,2089.9 1733.8,2080.1 1741.5,2070.7 1749.1,2061.5 1756.7,2052.8 1764.4,2044.4 1772.0,2036.3 1779.6,2028.6 1787.3,2021.3 1794.9,2014.4 1802.5,2007.8 1810.2,2001.6 1817.8,1995.8 1825.4,1990.4 1833.1,1985.4 1840.7,1980.7 1848.3,1976.5 1856.0,1972.6 1863.6,1969.0 1871.2,1965.8 1878.9,1962.9 1886.5,1960.4 1894.1,1958.2 1901.8,1956.3 1909.4,1954.7 1917.0,1953.4 1924.7,1952.5 1932.3,1951.8 1939.9,1951.5 1947.6,1951.6 1955.2,1952.0 1962.8,1952.6 1970.5,1953.6 1978.1,1954.9 1985.8,1956.4 1993.4,1958.3 2001.0,1960.6 2008.7,1963.1 2016.3,1965.9 2023.9,1969.1 2031.6,1972.6 2039.2,1976.4 2046.8,1980.5 2054.5,1984.9 2062.1,1989.7 2069.7,1994.8 2077.4,2000.1 2085.0,2005.9 2092.6,2011.9 2100.3,2018.2 2107.9,2024.9 2115.5,2031.9 2123.2,2039.1 2130.8,2046.7 2138.4,2054.6 2146.1,2062.8 2153.7,2071.3 2161.3,2080.1 2169.0,2089.2 2176.6,2098.5 2184.2,2108.2 2191.9,2118.1 2199.5,2128.3 2207.1,2138.8 2214.8,2149.5 2222.4,2160.5 2230.0,2171.7 2237.7,2183.0 2245.3,2194.6 2253.0,2206.3 2260.6,2218.1 2268.2,2230.1 2275.9,2242.2 2283.5,2254.5 2291.1,2266.8 2298.8,2279.3 2306.4,2292.0 2314.0,2304.8 2321.7,2317.7 2329.3,2330.8 2336.9,2344.1 2344.6,2357.7 2352.2,2371.5 2359.8,2385.5 2367.5,2399.6 2375.1,2413.8" fill="none" stroke="#00a0a0" stroke-width="2.0" stroke-linejoin="round"/>
<polyline points="1466.6,2529.8 1474.3,2513.8 1481.9,2497.9 1489.5,2482.1 1497.2,2466.4 1504.8,2450.8 1512.4,2435.4 1520.1,2420.0 1527.7,2404.9 1535.3,2389.8 1543.0,2375.0 1550.6,2360.3 1558.2,2345.7 1565.9,2331.3 1573.5,2317.1 1581.1,2303.0 1588.8,2289.1 1596.4,2275.4 1604.0,2261.9 1611.7,2248.6 1619.3,2235.5 1626.9,2222.6 1634.6,2210.0 1642.2,2197.6 1649.8,2185.5 1657.5,2173.6 1665.1,2162.0 1672.7,2150.7 1680.4,2139.7 1688.0,2129.0 1695.6,2118.6 1703.3,2108.5 1710.9,2098.7 1718.6,2089.2 1726.2,2080.0 1733.8,2071.2 1741.5,2062.7 1749.1,2054.5 1756.7,2046.7 1764.4,2039.2 1772.0,2032.0 1779.6,2025.2 1787.3,2018.8 1794.9,2012.7 1802.5,2006.9 1810.2,2001.4 1817.8,1996.3 1825.4,1991.6 1833.1,1987.2 1840.7,1983.1 1848.3,1979.3 1856.0,1975.9 1863.6,1972.8 1871.2,1970.0 1878.9,1967.6 1886.5,1965.4 1894.1,1963.6 1901.8,1962.0 1909.4,1960.8 1917.0,1959.8 1924.7,1959.2 1932.3,1958.8 1939.9,1958.8 1947.6,1959.1 1955.2,1959.7 1962.8,1960.6 1970.5,1961.8 1978.1,1963.3 1985.8,1965.2 1993.4,1967.3 2001.0,1969.8 2008.7,1972.6 2016.3,1975.6 2023.9,1979.0 2031.6,1982.8 2039.2,1986.8 2046.8,1991.1 2054.5,1995.8 2062.1,2000.8 2069.7,2006.1 2077.4,2011.7 2085.0,2017.7 2092.6,2024.0 2100.3,2030.5 2107.9,2037.4 2115.5,2044.7 2123.2,2052.2 2130.8,2060.1 2138.4,2068.2 2146.1,2076.7 2153.7,2085.5 2161.3,2094.6 2169.0,2103.9 2176.6,2113.6 2184.2,2123.5 2191.9,2133.8 2199.5,2144.3 2207.1,2155.1 2214.8,2166.1 2222.4,2177.4 2230.0,2188.8 2237.7,2200.5 2245.3,2212.4 2253.0,2224.4 2260.6,2236.6 2268.2,2248.9 2275.9,2261.3 2283.5,2273.9 2291.1,2286.7 2298.8,2299.5 2306.4,2312.6 2314.0,2325.8 2321.7,2339.1 2329.3,2352.6 2336.9,2366.3 2344.6,2380.3 2352.2,2394.5 2359.8,2408.9 2367.5,2423.4 2375.1,2438.1" fill="none" stroke="#ff2020" stroke-width="2.0" stroke-linejoin="round"/>
<polyline points="1466.6,2483.4 1474.3,2467.6 1481.9,2452.0 1489.5,2436.6 1497.2,2421.2 1504.8,2405.9 1512.4,2390.7 1520.1,2375.8 1527.7,2361.0 1535.3,2346.5 1543.0,2332.1 1550.6,2317.9 1558.2,2303.8 1565.9,2290.0 1573.5,2276.3 1581.1,2262.8 1588.8,2249.4 1596.4,2236.3 1604.0,2223.5 1611.7,2210.8 1619.3,2198.4 1626.9,2186.4 1634.6,2174.6 1642.2,2163.1 1649.8,2152.0 1657.5,2141.2 1665.1,2130.9 1672.7,2120.9 1680.4,2111.3 1688.0,2102.1 1695.6,2093.2 1703.3,2084.8 1710.9,2076.7 1718.6,2069.0 1726.2,2061.6 1733.8,2054.5 1741.5,2047.8 1749.1,2041.4 1756.7,2035.3 1764.4,2029.6 1772.0,2024.1 1779.6,2019.0 1787.3,2014.1 1794.9,2009.5 1802.5,2005.1 1810.2,2001.1 1817.8,1997.3 1825.4,1993.7 1833.1,1990.4 1840.7,1987.4 1848.3,1984.6 1856.0,1982.1 1863.6,1979.9 1871.2,1977.9 1878.9,1976.2 1886.5,1974.7 1894.1,1973.6 1901.8,1972.7 1909.4,1972.0 1917.0,1971.7 1924.7,1971.6 1932.3,1971.8 1939.9,1972.3 1947.6,1973.0 1955.2,1974.1 1962.8,1975.5 1970.5,1977.1 1978.1,1979.1 1985.8,1981.4 1993.4,1984.0 2001.0,1986.9 2008.7,1990.1 2016.3,1993.6 2023.9,1997.5 2031.6,2001.6 2039.2,2006.1 2046.8,2010.9 2054.5,2016.0 2062.1,2021.4 2069.7,2027.2 2077.4,2033.2 2085.0,2039.6 2092.6,2046.4 2100.3,2053.4 2107.9,2060.8 2115.5,2068.5 2123.2,2076.5 2130.8,2084.8 2138.4,2093.5 2146.1,2102.5 2153.7,2111.8 2161.3,2121.4 2169.0,2131.4 2176.6,2141.6 2184.2,2152.1 2191.9,2162.9 2199.5,2174.0 2207.1,2185.3 2214.8,2196.9 2222.4,2208.7 2230.0,2220.7 2237.7,2233.0 2245.3,2245.4 2253.0,2258.0 2260.6,2270.8 2268.2,2283.8 2275.9,2296.8 2283.5,2310.1 2291.1,2323.5 2298.8,2337.1 2306.4,2350.8 2314.0,2364.7 2321.7,2378.8 2329.3,2393.0 2336.9,2407.5 2344.6,2422.2 2352.2,2437.2 2359.8,2452.4 2367.5,2467.7 2375.1,2483.3" fill="none" stroke="#202020" stroke-width="2.0" stroke-linejoin="round"/>
</g>
<rect x="1495.0" y="1869.8" width="844.3" height="683.1" fill="none" stroke="#000" stroke-width="5.5"/>
<line x1="1480.0" y1="2490.0" x2="1495.0" y2="2490.0" stroke="#000" stroke-width="5"/>
<line x1="1480.0" y1="2278.6" x2="1495.0" y2="2278.6" stroke="#000" stroke-width="5"/>
<line x1="1480.0" y1="2067.2" x2="1495.0" y2="2067.2" stroke="#000" stroke-width="5"/>
<line x1="1486.0" y1="2384.3" x2="1495.0" y2="2384.3" stroke="#000" stroke-width="5"/>
<line x1="1486.0" y1="2172.9" x2="1495.0" y2="2172.9" stroke="#000" stroke-width="5"/>
<line x1="1486.0" y1="1961.5" x2="1495.0" y2="1961.5" stroke="#000" stroke-width="5"/>
<line x1="1573.5" y1="2552.9" x2="1573.5" y2="2567.9" stroke="#000" stroke-width="5"/>
<line x1="1840.7" y1="2552.9" x2="1840.7" y2="2567.9" stroke="#000" stroke-width="5"/>
<line x1="2107.9" y1="2552.9" x2="2107.9" y2="2567.9" stroke="#000" stroke-width="5"/>
<line x1="1707.1" y1="2552.9" x2="1707.1" y2="2561.9" stroke="#000" stroke-width="5"/>
<line x1="1974.3" y1="2552.9" x2="1974.3" y2="2561.9" stroke="#000" stroke-width="5"/>
<line x1="2241.5" y1="2552.9" x2="2241.5" y2="2561.9" stroke="#000" stroke-width="5"/>
<text x="1392.9" y="2501.0" font-size="40.9" font-weight="700" textLength="77.2" lengthAdjust="spacingAndGlyphs" fill="#000">0.48</text>
<text x="1392.9" y="2289.6" font-size="40.9" font-weight="700" textLength="77.6" lengthAdjust="spacingAndGlyphs" fill="#000">0.52</text>
<text x="1392.9" y="2078.2" font-size="40.9" font-weight="700" textLength="77.4" lengthAdjust="spacingAndGlyphs" fill="#000">0.56</text>
<text x="1540.2" y="2607.0" font-size="38.7" font-weight="700" textLength="67.4" lengthAdjust="spacingAndGlyphs" fill="#000">416</text>
<text x="1807.4" y="2607.0" font-size="38.7" font-weight="700" textLength="67.2" lengthAdjust="spacingAndGlyphs" fill="#000">418</text>
<text x="2074.6" y="2607.0" font-size="38.7" font-weight="700" textLength="67.6" lengthAdjust="spacingAndGlyphs" fill="#000">420</text>
<circle cx="1845.6" cy="1978.4" r="49.3" fill="none" stroke="#505050" stroke-width="2"/>
<polygon points="1935.0,2321.4 1897.7,2107.8 1911.5,2105.4 1882.8,2068.8 1868.2,2113.0 1882.0,2110.6 1919.2,2324.2" fill="#000"/>
<text x="1522.9" y="2006.5" font-size="118.5" font-weight="700" textLength="108.0" lengthAdjust="spacingAndGlyphs" fill="#000">e)</text>
<text x="1842.9" y="2422.8" font-size="72.3" font-weight="700" textLength="298.6" lengthAdjust="spacingAndGlyphs" fill="#000">417.8 nm</text>
<text x="1718.6" y="2493.5" font-size="64.8" font-weight="700" textLength="480.5" lengthAdjust="spacingAndGlyphs" fill="#000">Isosbestic point</text>
<text transform="translate(1342.0,2385.8) rotate(-90)" x="0" y="0" font-size="54.9" font-weight="700" textLength="310.3" lengthAdjust="spacingAndGlyphs" fill="#000">Absorbance</text>
<text x="1705.4" y="2715.1" font-size="60.1" font-weight="700" textLength="468.5" lengthAdjust="spacingAndGlyphs" fill="#000">Wavelength / nm</text>
<ellipse cx="277.7" cy="3223.0" rx="14" ry="10.5" fill="#000"/>
<ellipse cx="344.3" cy="3162.2" rx="14" ry="10.5" fill="#000"/>
<ellipse cx="424.5" cy="3105.5" rx="14" ry="10.5" fill="#000"/>
<ellipse cx="523.6" cy="3045.6" rx="14" ry="10.5" fill="#000"/>
<ellipse cx="657.3" cy="2985.7" rx="14" ry="10.5" fill="#000"/>
<ellipse cx="785.8" cy="2953.6" rx="14" ry="10.5" fill="#000"/>
<ellipse cx="975.4" cy="2914.4" rx="14" ry="10.5" fill="#000"/>
<ellipse cx="1093.6" cy="2910.3" rx="14" ry="10.5" fill="#000"/>
<line x1="265.5" y1="3212.8" x2="687.7" y2="2940.8" stroke="#ff0000" stroke-width="2.4"/>
<line x1="644.5" y1="2969.3" x2="1115.5" y2="2908.7" stroke="#ff0000" stroke-width="2.4"/>
<line x1="651.3" y1="2823.8" x2="651.3" y2="3340.0" stroke="#000" stroke-width="3.6" stroke-dasharray="3.6 11.9" stroke-linecap="butt"/>
<rect x="242.3" y="2808.3" width="895.5" height="540.9" fill="none" stroke="#000" stroke-width="4.5"/>
<line x1="226.3" y1="3320.1" x2="242.3" y2="3320.1" stroke="#000" stroke-width="4"/>
<line x1="226.3" y1="3163.4" x2="242.3" y2="3163.4" stroke="#000" stroke-width="4"/>
<line x1="226.3" y1="3006.7" x2="242.3" y2="3006.7" stroke="#000" stroke-width="4"/>
<line x1="226.3" y1="2850.0" x2="242.3" y2="2850.0" stroke="#000" stroke-width="4"/>
<line x1="233.3" y1="3241.8" x2="242.3" y2="3241.8" stroke="#000" stroke-width="4"/>
<line x1="233.3" y1="3085.1" x2="242.3" y2="3085.1" stroke="#000" stroke-width="4"/>
<line x1="233.3" y1="2928.3" x2="242.3" y2="2928.3" stroke="#000" stroke-width="4"/>
<line x1="383.5" y1="3349.2" x2="383.5" y2="3363.2" stroke="#000" stroke-width="4"/>
<line x1="573.9" y1="3349.2" x2="573.9" y2="3363.2" stroke="#000" stroke-width="4"/>
<line x1="764.3" y1="3349.2" x2="764.3" y2="3363.2" stroke="#000" stroke-width="4"/>
<line x1="954.7" y1="3349.2" x2="954.7" y2="3363.2" stroke="#000" stroke-width="4"/>
<line x1="288.3" y1="3349.2" x2="288.3" y2="3358.2" stroke="#000" stroke-width="4"/>
<line x1="478.7" y1="3349.2" x2="478.7" y2="3358.2" stroke="#000" stroke-width="4"/>
<line x1="669.1" y1="3349.2" x2="669.1" y2="3358.2" stroke="#000" stroke-width="4"/>
<line x1="859.5" y1="3349.2" x2="859.5" y2="3358.2" stroke="#000" stroke-width="4"/>
<line x1="1049.9" y1="3349.2" x2="1049.9" y2="3358.2" stroke="#000" stroke-width="4"/>
<text x="133.9" y="3328.9" font-size="30.7" font-weight="700" textLength="81.5" lengthAdjust="spacingAndGlyphs" fill="#000">0.80</text>
<text x="134.0" y="3172.2" font-size="30.7" font-weight="700" textLength="80.0" lengthAdjust="spacingAndGlyphs" fill="#000">0.84</text>
<text x="133.9" y="3015.5" font-size="30.7" font-weight="700" textLength="81.1" lengthAdjust="spacingAndGlyphs" fill="#000">0.88</text>
<text x="133.9" y="2858.8" font-size="30.7" font-weight="700" textLength="81.5" lengthAdjust="spacingAndGlyphs" fill="#000">0.92</text>
<text x="354.4" y="3394.5" font-size="28.8" font-weight="700" textLength="59.2" lengthAdjust="spacingAndGlyphs" fill="#000">4.0</text>
<text x="544.8" y="3394.5" font-size="28.8" font-weight="700" textLength="59.2" lengthAdjust="spacingAndGlyphs" fill="#000">4.2</text>
<text x="735.2" y="3394.5" font-size="29.2" font-weight="700" textLength="57.7" lengthAdjust="spacingAndGlyphs" fill="#000">4.4</text>
<text x="925.6" y="3394.5" font-size="28.8" font-weight="700" textLength="59.0" lengthAdjust="spacingAndGlyphs" fill="#000">4.6</text>
<polygon points="615.1,3237.2 629.5,3280.2 613.6,3285.5 652.7,3325.2 660.1,3270.0 644.2,3275.3 629.9,3232.2" fill="#000"/>
<text x="296.5" y="3000.5" font-size="113.8" font-weight="700" textLength="75.2" lengthAdjust="spacingAndGlyphs" fill="#000">f)</text>
<text x="500.9" y="3176.2" font-size="124.4" font-weight="700" textLength="199.1" lengthAdjust="spacingAndGlyphs" fill="#000">pKa</text>
<text x="469.9" y="3292.9" font-size="71.8" font-weight="700" textLength="130.2" lengthAdjust="spacingAndGlyphs" fill="#000">4.3</text>
<text transform="translate(86.0,3185.2) rotate(-90)" x="0" y="0" font-size="58.0" font-weight="700" textLength="237.4" lengthAdjust="spacingAndGlyphs" fill="#000">OD @ 413.8</text>
<text x="650.7" y="3456.2" font-size="39.6" font-weight="700" textLength="76.0" lengthAdjust="spacingAndGlyphs" fill="#000">pH</text>
<ellipse cx="1541.5" cy="3334.3" rx="14" ry="10.5" fill="#000"/>
<ellipse cx="1580.6" cy="3290.2" rx="14" ry="10.5" fill="#000"/>
<ellipse cx="1621.8" cy="3243.6" rx="14" ry="10.5" fill="#000"/>
<ellipse cx="1668.8" cy="3203.6" rx="14" ry="10.5" fill="#000"/>
<ellipse cx="1720.7" cy="3148.8" rx="14" ry="10.5" fill="#000"/>
<ellipse cx="1779.2" cy="3106.8" rx="14" ry="10.5" fill="#000"/>
<ellipse cx="1845.2" cy="3054.9" rx="14" ry="10.5" fill="#000"/>
<ellipse cx="1922.4" cy="3006.6" rx="14" ry="10.5" fill="#000"/>
<ellipse cx="2017.0" cy="2962.0" rx="14" ry="10.5" fill="#000"/>
<ellipse cx="2134.8" cy="2915.4" rx="14" ry="10.5" fill="#000"/>
<ellipse cx="2290.5" cy="2868.2" rx="14" ry="10.5" fill="#000"/>
<line x1="1547.6" y1="3319.8" x2="1880.0" y2="2991.0" stroke="#ff0000" stroke-width="2.4"/>
<line x1="1759.4" y1="3056.1" x2="2319.9" y2="2858.0" stroke="#ff0000" stroke-width="2.4"/>
<line x1="1843.5" y1="2833.6" x2="1843.5" y2="3350.7" stroke="#000" stroke-width="3.6" stroke-dasharray="3.6 11.9" stroke-linecap="butt"/>
<rect x="1482.0" y="2820.0" width="895.6" height="540.7" fill="none" stroke="#000" stroke-width="4.5"/>
<line x1="1466.0" y1="3283.6" x2="1482.0" y2="3283.6" stroke="#000" stroke-width="4"/>
<line x1="1466.0" y1="3130.2" x2="1482.0" y2="3130.2" stroke="#000" stroke-width="4"/>
<line x1="1466.0" y1="2976.7" x2="1482.0" y2="2976.7" stroke="#000" stroke-width="4"/>
<line x1="1466.0" y1="2823.3" x2="1482.0" y2="2823.3" stroke="#000" stroke-width="4"/>
<line x1="1472.0" y1="3206.9" x2="1482.0" y2="3206.9" stroke="#000" stroke-width="4"/>
<line x1="1472.0" y1="3053.5" x2="1482.0" y2="3053.5" stroke="#000" stroke-width="4"/>
<line x1="1472.0" y1="2900.0" x2="1482.0" y2="2900.0" stroke="#000" stroke-width="4"/>
<line x1="1472.0" y1="3360.3" x2="1482.0" y2="3360.3" stroke="#000" stroke-width="4"/>
<line x1="1523.7" y1="3360.7" x2="1523.7" y2="3374.7" stroke="#000" stroke-width="4"/>
<line x1="1746.7" y1="3360.7" x2="1746.7" y2="3374.7" stroke="#000" stroke-width="4"/>
<line x1="1969.7" y1="3360.7" x2="1969.7" y2="3374.7" stroke="#000" stroke-width="4"/>
<line x1="2192.7" y1="3360.7" x2="2192.7" y2="3374.7" stroke="#000" stroke-width="4"/>
<line x1="1635.2" y1="3360.7" x2="1635.2" y2="3369.7" stroke="#000" stroke-width="4"/>
<line x1="1858.2" y1="3360.7" x2="1858.2" y2="3369.7" stroke="#000" stroke-width="4"/>
<line x1="2081.2" y1="3360.7" x2="2081.2" y2="3369.7" stroke="#000" stroke-width="4"/>
<line x1="2304.2" y1="3360.7" x2="2304.2" y2="3369.7" stroke="#000" stroke-width="4"/>
<text x="1373.9" y="3292.1" font-size="30.7" font-weight="700" textLength="80.1" lengthAdjust="spacingAndGlyphs" fill="#000">0.75</text>
<text x="1373.8" y="3138.7" font-size="30.7" font-weight="700" textLength="80.7" lengthAdjust="spacingAndGlyphs" fill="#000">0.80</text>
<text x="1373.9" y="2985.2" font-size="30.7" font-weight="700" textLength="80.1" lengthAdjust="spacingAndGlyphs" fill="#000">0.85</text>
<text x="1373.8" y="2831.8" font-size="30.7" font-weight="700" textLength="80.7" lengthAdjust="spacingAndGlyphs" fill="#000">0.90</text>
<text x="1495.4" y="3405.2" font-size="27.8" font-weight="700" textLength="57.1" lengthAdjust="spacingAndGlyphs" fill="#000">3.6</text>
<text x="1718.4" y="3405.2" font-size="27.8" font-weight="700" textLength="56.9" lengthAdjust="spacingAndGlyphs" fill="#000">3.8</text>
<text x="1941.7" y="3405.2" font-size="27.8" font-weight="700" textLength="57.0" lengthAdjust="spacingAndGlyphs" fill="#000">4.0</text>
<text x="2164.7" y="3405.2" font-size="27.8" font-weight="700" textLength="57.0" lengthAdjust="spacingAndGlyphs" fill="#000">4.2</text>
<polygon points="1930.0,3256.8 1882.1,3306.2 1869.9,3294.4 1853.6,3346.8 1905.5,3328.9 1893.3,3317.0 1941.2,3267.6" fill="#000"/>
<text x="1548.1" y="2957.2" font-size="105.1" font-weight="700" textLength="106.9" lengthAdjust="spacingAndGlyphs" fill="#000">g)</text>
<text x="1901.8" y="3154.9" font-size="124.7" font-weight="700" textLength="198.7" lengthAdjust="spacingAndGlyphs" fill="#000">pKa</text>
<text x="2010.4" y="3258.9" font-size="75.6" font-weight="700" textLength="129.6" lengthAdjust="spacingAndGlyphs" fill="#000">3.9</text>
<text transform="translate(1346.3,3224.7) rotate(-90)" x="0" y="0" font-size="58.6" font-weight="700" textLength="304.9" lengthAdjust="spacingAndGlyphs" fill="#000">OD @ 413.8nm</text>
<text x="1892.3" y="3467.0" font-size="38.8" font-weight="700" textLength="72.9" lengthAdjust="spacingAndGlyphs" fill="#000">pH</text>
<ellipse cx="262.5" cy="3922.6" rx="14" ry="10.5" fill="#000"/>
<ellipse cx="354.6" cy="3919.9" rx="14" ry="10.5" fill="#000"/>
<ellipse cx="431.4" cy="3913.0" rx="14" ry="10.5" fill="#000"/>
<ellipse cx="494.0" cy="3900.4" rx="14" ry="10.5" fill="#000"/>
<ellipse cx="550.4" cy="3889.4" rx="14" ry="10.5" fill="#000"/>
<ellipse cx="615.8" cy="3864.6" rx="14" ry="10.5" fill="#000"/>
<ellipse cx="660.8" cy="3844.6" rx="14" ry="10.5" fill="#000"/>
<ellipse cx="703.1" cy="3818.5" rx="14" ry="10.5" fill="#000"/>
<ellipse cx="751.5" cy="3779.2" rx="14" ry="10.5" fill="#000"/>
<ellipse cx="795.4" cy="3744.6" rx="14" ry="10.5" fill="#000"/>
<ellipse cx="832.3" cy="3711.9" rx="14" ry="10.5" fill="#000"/>
<ellipse cx="873.5" cy="3667.3" rx="14" ry="10.5" fill="#000"/>
<ellipse cx="917.7" cy="3617.3" rx="14" ry="10.5" fill="#000"/>
<ellipse cx="951.5" cy="3582.7" rx="14" ry="10.5" fill="#000"/>
<ellipse cx="986.9" cy="3536.9" rx="14" ry="10.5" fill="#000"/>
<line x1="215.8" y1="3936.4" x2="716.9" y2="3874.2" stroke="#ff0000" stroke-width="2.4"/>
<line x1="633.8" y1="3903.0" x2="1007.3" y2="3532.7" stroke="#ff0000" stroke-width="2.4"/>
<line x1="675.4" y1="3520.4" x2="665.8" y2="4051.2" stroke="#000" stroke-width="3.6" stroke-dasharray="3.6 11.9" stroke-linecap="butt"/>
<rect x="199.3" y="3517.2" width="895.3" height="541.3" fill="none" stroke="#000" stroke-width="4.5"/>
<line x1="183.3" y1="3907.5" x2="199.3" y2="3907.5" stroke="#000" stroke-width="4"/>
<line x1="183.3" y1="3715.4" x2="199.3" y2="3715.4" stroke="#000" stroke-width="4"/>
<line x1="183.3" y1="3523.4" x2="199.3" y2="3523.4" stroke="#000" stroke-width="4"/>
<line x1="189.7" y1="4003.5" x2="199.3" y2="4003.5" stroke="#000" stroke-width="4"/>
<line x1="189.7" y1="3811.5" x2="199.3" y2="3811.5" stroke="#000" stroke-width="4"/>
<line x1="189.7" y1="3619.4" x2="199.3" y2="3619.4" stroke="#000" stroke-width="4"/>
<line x1="275.3" y1="4058.5" x2="275.3" y2="4072.5" stroke="#000" stroke-width="4"/>
<line x1="452.9" y1="4058.5" x2="452.9" y2="4072.5" stroke="#000" stroke-width="4"/>
<line x1="630.5" y1="4058.5" x2="630.5" y2="4072.5" stroke="#000" stroke-width="4"/>
<line x1="808.1" y1="4058.5" x2="808.1" y2="4072.5" stroke="#000" stroke-width="4"/>
<line x1="985.7" y1="4058.5" x2="985.7" y2="4072.5" stroke="#000" stroke-width="4"/>
<line x1="364.1" y1="4058.5" x2="364.1" y2="4067.5" stroke="#000" stroke-width="4"/>
<line x1="541.7" y1="4058.5" x2="541.7" y2="4067.5" stroke="#000" stroke-width="4"/>
<line x1="719.3" y1="4058.5" x2="719.3" y2="4067.5" stroke="#000" stroke-width="4"/>
<line x1="896.9" y1="4058.5" x2="896.9" y2="4067.5" stroke="#000" stroke-width="4"/>
<line x1="1074.5" y1="4058.5" x2="1074.5" y2="4067.5" stroke="#000" stroke-width="4"/>
<text x="115.3" y="3915.9" font-size="31.5" font-weight="700" textLength="56.6" lengthAdjust="spacingAndGlyphs" fill="#000">0.4</text>
<text x="115.2" y="3723.8" font-size="31.5" font-weight="700" textLength="57.6" lengthAdjust="spacingAndGlyphs" fill="#000">0.5</text>
<text x="115.2" y="3531.8" font-size="31.5" font-weight="700" textLength="57.9" lengthAdjust="spacingAndGlyphs" fill="#000">0.6</text>
<text x="246.5" y="4102.4" font-size="31.1" font-weight="700" textLength="57.7" lengthAdjust="spacingAndGlyphs" fill="#000">2.6</text>
<text x="424.1" y="4102.4" font-size="31.1" font-weight="700" textLength="57.5" lengthAdjust="spacingAndGlyphs" fill="#000">2.8</text>
<text x="602.1" y="4102.4" font-size="31.1" font-weight="700" textLength="57.5" lengthAdjust="spacingAndGlyphs" fill="#000">3.0</text>
<text x="779.7" y="4102.4" font-size="31.1" font-weight="700" textLength="57.5" lengthAdjust="spacingAndGlyphs" fill="#000">3.2</text>
<text x="957.3" y="4102.4" font-size="31.1" font-weight="700" textLength="56.0" lengthAdjust="spacingAndGlyphs" fill="#000">3.4</text>
<text x="264.6" y="3669.1" font-size="111.0" font-weight="700" textLength="106.0" lengthAdjust="spacingAndGlyphs" fill="#000">h)</text>
<text x="783.9" y="3883.9" font-size="125.8" font-weight="700" textLength="201.7" lengthAdjust="spacingAndGlyphs" fill="#000">pKa</text>
<text x="734.0" y="4024.7" font-size="74.8" font-weight="700" textLength="131.5" lengthAdjust="spacingAndGlyphs" fill="#000">3.0</text>
<text transform="translate(68.2,3925.7) rotate(-90)" x="0" y="0" font-size="59.1" font-weight="700" textLength="305.4" lengthAdjust="spacingAndGlyphs" fill="#000">OD @ 413.9nm</text>
<text x="610.3" y="4164.6" font-size="36.4" font-weight="700" textLength="72.7" lengthAdjust="spacingAndGlyphs" fill="#000">pH</text>
<clipPath id="ci"><rect x="1488.7" y="3527.0" width="892.3" height="541.0"/></clipPath>
<g clip-path="url(#ci)">
<ellipse cx="1494.9" cy="3527.4" rx="14" ry="10.5" fill="#000"/>
<ellipse cx="1516.3" cy="3561.2" rx="14" ry="10.5" fill="#000"/>
<ellipse cx="1548.5" cy="3567.4" rx="14" ry="10.5" fill="#000"/>
<ellipse cx="1577.3" cy="3622.2" rx="14" ry="10.5" fill="#000"/>
<ellipse cx="1611.1" cy="3677.0" rx="14" ry="10.5" fill="#000"/>
<ellipse cx="1643.2" cy="3719.8" rx="14" ry="10.5" fill="#000"/>
<ellipse cx="1679.5" cy="3734.7" rx="14" ry="10.5" fill="#000"/>
<ellipse cx="1724.8" cy="3835.2" rx="14" ry="10.5" fill="#000"/>
<ellipse cx="1781.3" cy="3908.6" rx="14" ry="10.5" fill="#000"/>
<ellipse cx="1856.9" cy="3952.5" rx="14" ry="10.5" fill="#000"/>
<ellipse cx="1937.7" cy="3955.8" rx="14" ry="10.5" fill="#000"/>
<ellipse cx="2064.0" cy="3959.9" rx="14" ry="10.5" fill="#000"/>
<ellipse cx="2128.3" cy="3942.7" rx="14" ry="10.5" fill="#000"/>
<ellipse cx="2219.8" cy="3923.8" rx="14" ry="10.5" fill="#000"/>
<ellipse cx="2285.4" cy="3930.4" rx="14" ry="10.5" fill="#000"/>
</g>
<line x1="1503.1" y1="3526.2" x2="1865.1" y2="4000.1" stroke="#ff0000" stroke-width="2.4"/>
<line x1="1834.4" y1="3968.1" x2="2335.8" y2="3925.1" stroke="#ff0000" stroke-width="2.4"/>
<line x1="1853.4" y1="3522.0" x2="1845.2" y2="4058.0" stroke="#000" stroke-width="3.6" stroke-dasharray="3.6 11.9" stroke-linecap="butt"/>
<rect x="1488.7" y="3527.0" width="892.3" height="541.0" fill="none" stroke="#000" stroke-width="4.5"/>
<line x1="1470.7" y1="4061.0" x2="1488.7" y2="4061.0" stroke="#000" stroke-width="4"/>
<line x1="1470.7" y1="3917.9" x2="1488.7" y2="3917.9" stroke="#000" stroke-width="4"/>
<line x1="1470.7" y1="3774.7" x2="1488.7" y2="3774.7" stroke="#000" stroke-width="4"/>
<line x1="1470.7" y1="3631.6" x2="1488.7" y2="3631.6" stroke="#000" stroke-width="4"/>
<line x1="1480.7" y1="3989.4" x2="1488.7" y2="3989.4" stroke="#000" stroke-width="4"/>
<line x1="1480.7" y1="3846.3" x2="1488.7" y2="3846.3" stroke="#000" stroke-width="4"/>
<line x1="1480.7" y1="3703.2" x2="1488.7" y2="3703.2" stroke="#000" stroke-width="4"/>
<line x1="1480.7" y1="3560.0" x2="1488.7" y2="3560.0" stroke="#000" stroke-width="4"/>
<line x1="1648.7" y1="4068.0" x2="1648.7" y2="4082.0" stroke="#000" stroke-width="4"/>
<line x1="1856.5" y1="4068.0" x2="1856.5" y2="4082.0" stroke="#000" stroke-width="4"/>
<line x1="2064.3" y1="4068.0" x2="2064.3" y2="4082.0" stroke="#000" stroke-width="4"/>
<line x1="2272.1" y1="4068.0" x2="2272.1" y2="4082.0" stroke="#000" stroke-width="4"/>
<line x1="1544.8" y1="4068.0" x2="1544.8" y2="4077.0" stroke="#000" stroke-width="4"/>
<line x1="1752.6" y1="4068.0" x2="1752.6" y2="4077.0" stroke="#000" stroke-width="4"/>
<line x1="1960.4" y1="4068.0" x2="1960.4" y2="4077.0" stroke="#000" stroke-width="4"/>
<line x1="2168.2" y1="4068.0" x2="2168.2" y2="4077.0" stroke="#000" stroke-width="4"/>
<line x1="2376.0" y1="4068.0" x2="2376.0" y2="4077.0" stroke="#000" stroke-width="4"/>
<text x="1354.0" y="4069.7" font-size="29.5" font-weight="700" textLength="109.6" lengthAdjust="spacingAndGlyphs" fill="#000">0.570</text>
<text x="1354.0" y="3926.6" font-size="29.5" font-weight="700" textLength="109.0" lengthAdjust="spacingAndGlyphs" fill="#000">0.575</text>
<text x="1354.0" y="3783.4" font-size="29.5" font-weight="700" textLength="109.6" lengthAdjust="spacingAndGlyphs" fill="#000">0.580</text>
<text x="1354.0" y="3640.3" font-size="29.5" font-weight="700" textLength="109.0" lengthAdjust="spacingAndGlyphs" fill="#000">0.585</text>
<text x="1620.4" y="4111.3" font-size="32.0" font-weight="700" textLength="56.9" lengthAdjust="spacingAndGlyphs" fill="#000">2.0</text>
<text x="1828.2" y="4111.3" font-size="32.0" font-weight="700" textLength="55.4" lengthAdjust="spacingAndGlyphs" fill="#000">2.4</text>
<text x="2036.0" y="4111.3" font-size="32.0" font-weight="700" textLength="56.4" lengthAdjust="spacingAndGlyphs" fill="#000">2.8</text>
<text x="2244.2" y="4111.3" font-size="32.0" font-weight="700" textLength="56.4" lengthAdjust="spacingAndGlyphs" fill="#000">3.2</text>
<polygon points="1955.2,3840.5 1872.7,4015.8 1857.9,4008.8 1859.0,4062.4 1901.0,4029.1 1886.2,4022.2 1968.8,3846.9" fill="#000"/>
<text x="1562.4" y="3978.6" font-size="110.8" font-weight="700" textLength="67.6" lengthAdjust="spacingAndGlyphs" fill="#000">i)</text>
<text x="1888.7" y="3676.7" font-size="124.7" font-weight="700" textLength="197.8" lengthAdjust="spacingAndGlyphs" fill="#000">pKa</text>
<text x="1874.9" y="3804.6" font-size="73.1" font-weight="700" textLength="129.0" lengthAdjust="spacingAndGlyphs" fill="#000">2.4</text>
<text transform="translate(1305.3,3932.9) rotate(-90)" x="0" y="0" font-size="55.0" font-weight="700" textLength="305.2" lengthAdjust="spacingAndGlyphs" fill="#000">OD @ 417.9nm</text>
<text x="1896.3" y="4175.2" font-size="38.8" font-weight="700" textLength="75.1" lengthAdjust="spacingAndGlyphs" fill="#000">pH</text>
</svg></body></html>
